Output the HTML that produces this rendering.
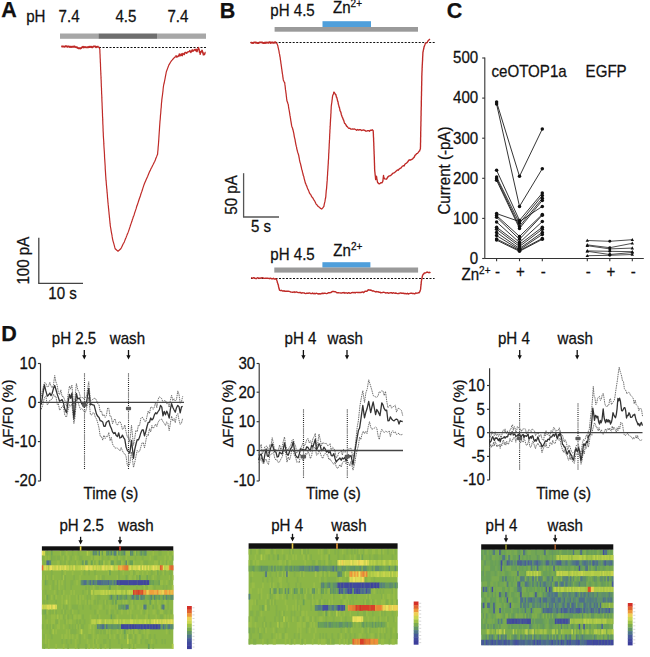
<!DOCTYPE html>
<html><head><meta charset="utf-8"><style>
html,body{margin:0;padding:0;background:#fff;}
body{width:650px;height:657px;overflow:hidden;}
svg text{font-family:"Liberation Sans",sans-serif;fill:#111;stroke:#111;stroke-width:0.25px;}
</style></head><body>
<svg width="650" height="657" viewBox="0 0 650 657" style="display:block">
<text transform="translate(1.2 16.9) scale(1 1)" font-size="21.5" font-weight="bold" >A</text>
<text transform="translate(26.2 22.1) scale(1 1.06)" font-size="15.1" >pH</text>
<text transform="translate(58.6 22.1) scale(1 1.06)" font-size="15.1" >7.4</text>
<text transform="translate(115.4 22.1) scale(1 1.06)" font-size="15.1" >4.5</text>
<text transform="translate(167.4 22.1) scale(1 1.06)" font-size="15.1" >7.4</text>
<rect x="60.0" y="33.5" width="39.0" height="5.3" fill="#a7a7a7"/>
<rect x="98.8" y="33.5" width="58.2" height="5.3" fill="#6e6e6e"/>
<rect x="157.0" y="33.5" width="49.0" height="5.3" fill="#a7a7a7"/>
<line x1="99" y1="47.5" x2="206" y2="47.5" stroke="#111" stroke-width="1" stroke-dasharray="2,1.5"/>
<path d="M61.3,46.2L62.2,46.5L63.0,46.4L63.9,46.6L64.7,46.7L65.6,46.1L66.4,46.1L67.3,46.9L68.1,46.4L69.0,46.4L69.9,47.1L70.8,46.6L71.6,47.0L72.5,46.7L73.4,46.9L74.3,46.4L75.1,46.9L76.0,47.2L76.9,47.3L77.8,47.9L78.6,48.3L79.5,48.1L80.4,48.5L81.3,47.9L82.1,47.3L83.0,46.7L83.9,47.5L84.8,47.0L85.6,47.2L86.5,47.4L87.4,47.1L88.3,47.3L89.1,46.7L90.0,47.1L90.9,46.7L91.8,47.2L92.6,47.2L93.5,46.4L94.4,46.4L95.3,46.5L96.1,47.3L97.0,46.7L97.9,46.9L98.8,46.6" fill="none" stroke="#bf2a27" stroke-width="1.9" stroke-linejoin="round" />
<path d="M98.8,46.8L99.8,49.2L99.9,50.7L99.9,52.3L100.0,53.8L100.1,55.4L100.1,56.9L100.2,58.5L100.3,59.9L100.3,61.5L100.4,62.9L100.5,64.3L100.5,66.0L100.6,67.5L100.6,69.0L100.7,70.4L100.8,72.0L100.8,73.4L100.9,75.1L101.0,76.5L101.0,77.9L101.1,79.4L101.2,81.1L101.2,82.7L101.3,83.9L101.3,85.6L101.4,87.0L101.5,88.4L101.5,90.0L101.6,91.6L101.6,93.1L101.7,94.4L101.8,96.0L101.8,97.4L101.9,99.1L101.9,100.5L102.0,102.1L102.1,103.7L102.1,105.0L102.2,106.7L102.2,108.0L102.3,109.4L102.4,111.0L102.4,112.4L102.5,113.9L102.5,115.5L102.6,117.1L102.7,118.4L102.7,119.9L102.8,121.6L102.8,123.0L102.9,124.7L103.0,126.1L103.0,127.5L103.1,129.0L103.1,130.5L103.2,132.1L103.3,133.6L103.3,135.0L103.4,136.6L103.5,138.2L103.6,139.5L103.7,141.0L103.8,142.6L103.8,143.9L103.9,145.5L104.0,147.2L104.1,148.5L104.2,150.0L104.3,151.4L104.4,153.0L104.5,154.6L104.5,155.9L104.6,157.6L104.7,159.1L104.8,160.4L104.9,162.1L105.0,163.5L105.1,165.1L105.2,166.5L105.2,168.1L105.3,169.6L105.4,170.9L105.5,172.4L105.6,174.1L105.7,175.7L105.8,177.0L105.9,178.6L106.0,180.2L106.2,181.6L106.3,183.2L106.4,184.8L106.6,186.3L106.7,188.0L106.9,189.4L107.0,191.0L107.1,192.7L107.3,194.0L107.4,195.7L107.5,197.3L107.7,198.8L107.8,200.3L107.9,202.0L108.1,203.4L108.2,204.9L108.4,206.5L108.5,208.1L108.7,209.4L108.8,211.0L109.0,212.5L109.1,214.1L109.3,215.5L109.4,217.1L109.6,218.4L109.7,220.0L109.9,221.6L110.0,223.2L110.2,224.5L110.3,226.0L110.6,227.5L110.9,229.2L111.1,230.6L111.4,232.4L111.7,233.9L112.0,235.3L112.2,236.9L112.5,238.6L112.8,240.1L113.2,241.6L113.6,242.9L114.0,244.3L114.4,245.8L114.8,247.4L115.2,248.7L116.6,250.0L118.0,251.2L119.4,250.0L120.8,248.8L121.5,247.5L122.2,245.9L122.9,244.4L123.6,243.3L124.3,241.9L124.9,240.4L125.5,238.8L126.1,237.4L126.7,235.9L127.3,234.2L127.9,232.9L128.5,231.4L129.0,229.9L129.5,228.4L130.0,226.9L130.4,225.5L130.9,224.1L131.4,222.6L131.9,221.3L132.3,219.8L132.8,218.5L133.3,216.8L133.8,215.7L134.3,214.2L134.7,212.8L135.2,211.4L135.7,209.9L136.2,208.4L136.6,206.8L137.1,205.6L137.6,204.0L138.1,202.6L138.5,201.3L139.0,199.8L139.5,198.3L140.0,197.1L140.5,195.5L140.9,194.0L141.4,192.6L141.9,191.3L142.4,189.8L142.8,188.4L143.3,186.9L143.8,185.4L144.3,184.0L144.9,182.6L145.6,180.9L146.2,179.5L146.9,178.0L147.6,176.5L148.2,174.9L148.9,173.2L149.5,171.8L150.3,170.4L151.0,168.6L151.8,167.2L152.5,165.7L153.3,164.3L154.0,162.8L154.8,161.3L155.3,160.0L155.9,158.3L156.5,156.9L157.0,155.6L157.6,154.2L157.7,152.6L157.8,151.4L158.0,149.8L158.1,148.0L158.2,146.6L158.4,145.0L158.5,143.5L158.6,142.0L158.7,140.6L158.8,139.0L158.9,137.5L159.0,135.9L159.1,134.5L159.2,132.9L159.3,131.5L159.4,130.1L159.5,128.5L159.6,126.9L159.7,125.4L159.8,124.0L159.9,122.6L160.0,121.1L160.2,119.5L160.3,118.1L160.4,116.6L160.5,115.0L160.7,113.5L160.8,112.0L160.9,110.6L161.0,109.0L161.2,107.6L161.3,106.0L161.4,104.4L161.5,103.0L161.7,101.6L161.8,99.9L162.0,98.4L162.2,96.9L162.4,95.5L162.6,93.9L162.8,92.2L163.0,90.8L163.1,89.2L163.3,87.5L163.5,86.0L163.8,84.3L164.2,83.0L164.5,81.4L164.8,79.9L165.1,78.3L165.4,76.7L165.7,75.2L166.0,73.6L166.3,71.9L166.9,70.3L167.6,68.4L168.2,66.7L168.8,65.1L169.7,63.6L170.5,62.3L171.4,60.9L172.3,59.9L173.5,58.5L174.6,57.3L175.8,56.4" fill="none" stroke="#bf2a27" stroke-width="1.2" stroke-linejoin="round" />
<path d="M175.8,55.3L176.3,57.0L176.8,56.4L177.3,56.7L177.8,56.8L178.3,55.7L178.8,56.1L179.3,54.0L179.8,55.8L180.3,55.0L180.8,55.5L181.3,53.8L181.8,55.4L182.3,55.7L182.8,53.4L183.3,53.8L183.8,54.2L184.3,54.6L184.8,52.8L185.3,52.4L185.8,52.4L186.3,53.1L186.8,53.3L187.3,52.2L187.8,52.0L188.3,51.9L188.8,51.6L189.3,51.6L189.8,50.6L190.3,51.5L190.8,52.5L191.3,50.9L191.8,51.5L192.3,49.8L192.8,51.0L193.3,51.0L193.7,50.5L194.2,49.8L194.6,49.5L195.0,49.6L195.5,50.7L195.9,49.2L196.4,49.5L196.8,51.6L197.1,51.6L197.4,50.1L197.7,49.5L198.0,49.7L198.3,47.9L198.5,47.6L198.7,47.9L198.9,49.4L199.0,49.3L199.2,49.5L199.3,51.2L199.5,52.4L199.7,51.2L199.8,52.8L200.0,52.6L200.1,54.2L200.3,54.0L200.6,52.7L200.9,52.1L201.2,51.2L201.5,51.9L201.8,51.2L202.0,50.2L202.3,51.1L202.5,51.5L202.8,53.2L203.0,52.1L203.3,54.8L203.5,54.0L203.8,54.8L204.1,54.0L204.4,54.6L204.7,54.1L205.0,53.0L205.3,52.4L205.5,52.6" fill="none" stroke="#bf2a27" stroke-width="1.4" stroke-linejoin="round" />
<line x1="38.8" y1="237.8" x2="38.8" y2="283.4" stroke="#444" stroke-width="1.3" />
<line x1="38.2" y1="283.4" x2="83" y2="283.4" stroke="#444" stroke-width="1.3" />
<text font-size="15.1" transform="translate(29.4 284.6) rotate(-90) scale(1 1.06)" >100 pA</text>
<text transform="translate(48.3 298.6) scale(1 1.06)" font-size="15.1" >10 s</text>
<text transform="translate(219.8 17.7) scale(1 1)" font-size="21.5" font-weight="bold" >B</text>
<text transform="translate(270.3 15.9) scale(1 1.06)" font-size="15.1" >pH 4.5</text>
<text transform="translate(333 13.3) scale(1 1.06)" font-size="15.1" >Zn<tspan font-size="10" dy="-5.5">2+</tspan></text>
<rect x="322.5" y="21.2" width="48.5" height="5.8" fill="#4f9fdb"/>
<rect x="274.6" y="27.0" width="143.4" height="4.7" fill="#9a9a9a"/>
<line x1="250.7" y1="42.5" x2="434.7" y2="42.5" stroke="#111" stroke-width="1" stroke-dasharray="2,1.5"/>
<path d="M250.5,43.0L251.3,42.6L252.1,42.9L252.9,43.1L253.7,42.6L254.5,42.4L255.4,42.4L256.2,42.9L257.0,42.8L257.8,43.1L258.6,43.0L259.4,42.4L260.2,42.4L261.1,42.4L261.9,42.4L262.7,42.9L263.5,43.0L264.3,43.1L265.1,42.4L265.9,43.0L266.7,42.5L267.6,42.6L268.4,42.9L269.2,42.3L270.0,42.3L270.8,43.0L271.6,42.5L272.4,42.5L273.3,42.8L274.1,42.8L274.9,42.2L275.7,42.5L276.5,42.6" fill="none" stroke="#bf2a27" stroke-width="1.9" stroke-linejoin="round" />
<path d="M276.5,42.7L277.2,44.1L277.9,46.0L278.1,47.5L278.4,48.3L278.6,49.6L278.9,50.6L279.1,51.9L279.3,53.4L279.6,54.2L279.8,56.0L280.1,57.2L280.2,57.9L280.4,59.7L280.6,60.6L280.8,62.1L280.9,63.3L281.1,64.2L281.3,65.8L281.5,67.0L281.6,68.3L281.8,69.2L282.0,70.8L282.2,72.1L282.3,73.1L282.5,74.2L282.7,75.1L282.8,76.6L283.0,77.7L283.2,79.2L283.4,80.3L284.0,81.6L284.7,82.7L284.9,84.4L285.1,85.8L285.2,86.8L285.4,88.7L285.5,89.9L285.7,90.7L285.9,92.5L286.0,93.2L286.2,94.5L286.3,96.0L286.5,97.2L286.6,98.4L286.8,99.6L286.9,100.7L287.4,102.0L287.8,103.3L288.3,104.6L288.5,106.4L288.7,107.8L288.9,109.0L289.2,110.5L289.4,111.6L289.6,112.8L289.8,114.1L290.0,115.7L290.2,116.4L290.4,117.9L290.6,119.0L290.8,120.6L291.0,121.6L291.2,122.8L291.4,124.1L291.6,125.4L292.0,127.0L292.5,128.0L292.9,129.8L293.2,130.6L293.5,132.1L293.8,133.3L294.0,134.7L294.3,136.6L294.6,137.8L294.8,138.6L295.1,139.9L295.3,141.3L295.6,142.8L295.8,144.1L296.1,145.3L296.3,146.4L296.6,147.3L296.8,148.8L297.1,149.9L297.5,151.5L297.9,152.9L298.3,154.0L298.7,155.4L299.0,157.1L299.2,158.0L299.5,159.9L299.8,161.3L300.1,162.6L300.4,163.4L300.7,164.7L301.0,166.0L301.3,167.2L301.6,168.7L301.9,169.7L302.2,170.6L302.5,172.2L302.8,173.2L303.1,174.5L303.4,175.8L303.8,176.5L304.1,178.3L304.4,179.4L304.7,180.5L305.0,181.7L305.3,182.9L305.8,183.9L306.3,185.4L306.8,186.2L307.3,187.7L307.8,189.0L308.4,190.1L308.9,191.4L309.4,192.9L310.1,194.0L310.8,194.6L311.4,196.2L312.1,197.2L312.8,197.9L313.5,199.3L314.2,200.3L314.8,201.3L315.5,202.7L316.1,204.1L316.8,204.7L317.7,206.0L318.6,206.8L319.5,207.3L320.6,208.5L321.7,209.0L322.8,207.9L323.9,206.4L324.1,205.2L324.4,203.7L324.6,202.9L324.9,201.7L325.1,200.5L325.3,199.0L325.6,198.0L325.8,196.6L325.9,195.1L326.0,193.8L326.1,192.6L326.2,191.4L326.3,190.1L326.5,189.1L326.6,187.9L326.7,186.6L326.8,185.2L326.9,184.1L327.0,182.6L327.1,181.4L327.2,180.4L327.3,178.9L327.3,177.5L327.4,176.8L327.5,175.5L327.6,174.0L327.6,172.8L327.7,171.7L327.8,170.5L327.9,169.1L328.0,167.7L328.0,166.6L328.1,165.8L328.2,164.1L328.3,163.1L328.3,161.7L328.4,160.5L328.5,159.3L328.6,158.2L328.6,156.8L328.7,155.5L328.7,154.3L328.8,153.1L328.9,152.1L328.9,150.5L329.0,149.2L329.1,148.3L329.1,147.0L329.2,146.0L329.2,144.3L329.3,143.3L329.4,142.0L329.4,140.5L329.5,139.9L329.6,138.2L329.6,136.8L329.7,135.9L329.7,134.4L329.8,133.5L329.9,132.0L329.9,130.6L330.0,129.3L330.1,128.6L330.1,127.0L330.2,126.2L330.3,124.7L330.3,123.8L330.4,122.1L330.5,120.9L330.5,119.6L330.6,118.8L330.7,117.4L330.8,116.0L330.8,114.6L330.9,113.8L331.0,112.7L331.0,111.2L331.1,109.6L331.2,108.4L331.2,107.2L331.3,106.0L331.5,104.7L331.6,103.5L331.8,102.7L331.9,101.6L332.1,99.9L332.2,99.3L332.4,97.7L332.5,96.7L332.7,95.6L333.4,93.9L334.0,91.7" fill="none" stroke="#bf2a27" stroke-width="1.25" stroke-linejoin="round" />
<path d="M334.0,92.0L334.8,93.3L335.5,94.6L335.8,94.4L336.1,95.6L336.4,97.1L336.7,97.1L337.0,98.4L337.2,99.2L337.5,100.5L337.8,101.7L338.0,101.7L338.2,103.3L338.4,104.2L338.7,105.3L338.9,105.8L339.1,107.2L339.4,107.4L339.6,108.4L339.8,109.1L340.0,110.7L340.4,111.3L340.7,111.9L341.0,112.8L341.3,114.4L341.6,115.2L341.9,116.2L342.2,116.8L342.6,117.9L342.9,118.4L343.3,119.9L343.6,120.0L344.0,121.4L344.4,122.7L344.7,123.5L345.1,123.7L345.8,124.6L346.6,126.1L347.3,126.6L348.1,127.6L348.8,128.4L349.8,128.2L350.7,129.0L351.7,129.1L352.6,129.0L353.6,129.2L354.6,129.0L355.6,129.5L356.6,130.3L357.6,129.5L358.6,130.1L359.6,129.7L360.6,129.7L361.6,130.5L362.6,130.1L363.7,130.0L364.7,130.3L365.7,131.1L366.7,131.1L367.7,130.6L368.6,130.6L369.5,131.2L370.4,130.1L371.3,130.3L372.2,129.8L373.2,130.8L373.2,131.5L373.3,132.6L373.3,133.3L373.4,133.8L373.4,134.7L373.4,135.5L373.5,137.3L373.5,137.4L373.6,138.2L373.6,140.2L373.6,140.3L373.7,142.0L373.7,142.0L373.8,143.3L373.8,144.0L373.8,145.6L373.9,146.3L373.9,147.3L373.9,148.3L374.0,149.4L374.0,149.6L374.0,150.8L374.1,151.6L374.1,152.1L374.1,153.8L374.2,154.5L374.2,155.6L374.2,155.8L374.3,157.1L374.3,157.9L374.3,159.1L374.3,159.3L374.4,160.5L374.4,161.6L374.4,162.0L374.5,163.4L374.5,164.6L374.5,165.1L374.6,166.3L374.6,167.1L374.6,167.6L374.6,168.6L374.7,170.3L374.7,170.4L374.8,171.5L374.9,172.1L375.0,173.2L375.1,174.1L375.3,176.0L375.4,176.7L375.5,177.9L375.6,179.0L375.7,179.5L375.9,179.0L376.1,177.6L376.3,176.5L376.5,176.2L376.6,177.1L376.8,178.2L376.9,178.6L377.1,180.0L377.2,180.6L377.5,182.1L377.9,182.8L378.2,182.9L379.2,183.9L380.2,183.3L381.1,182.6L381.9,182.8L382.7,181.7L382.8,181.0L383.0,180.3L383.1,178.7L383.2,178.6L383.3,177.2L383.4,176.5L383.5,175.5L383.8,176.9L384.1,177.8L384.4,178.2L384.7,178.9L386.5,179.2L387.0,178.5L387.5,177.4L388.0,176.7L388.5,176.7L389.0,175.9L389.9,175.8L390.7,175.4L391.5,174.8L392.4,173.8L393.2,173.1L394.0,172.9L394.9,172.2L395.7,171.5L396.6,170.7L397.4,170.0L398.2,170.2L399.1,169.1L399.9,168.5L400.7,168.2L401.6,167.2L402.4,166.2L403.2,165.7L404.1,166.0L404.9,164.2L405.8,163.5L406.6,163.1L407.4,162.3L408.3,161.0L409.1,160.0L409.9,159.8L410.8,160.1L411.6,159.3L412.5,159.1L413.3,158.0L414.1,157.4L415.0,155.4L415.8,154.8L416.6,153.7L417.5,153.4L418.3,152.4L419.2,151.2L419.6,151.0L420.0,149.6L420.4,149.0L420.4,148.1L420.4,147.8L420.5,146.5L420.5,145.4L420.5,144.2L420.5,143.8L420.5,143.1L420.6,142.2L420.6,141.6L420.6,140.6L420.6,139.0L420.6,138.0L420.6,137.8L420.7,136.9L420.7,135.7L420.7,135.2L420.7,133.9L420.7,132.7L420.7,131.7L420.8,130.6L420.8,130.4L420.8,129.8L420.8,128.9L420.8,127.5L420.8,126.8L420.9,126.2L420.9,125.2L420.9,124.0L420.9,122.9L420.9,122.1L421.0,120.8L421.0,119.9L421.0,119.6L421.0,119.1L421.0,117.6L421.0,116.6L421.1,115.6L421.1,114.8L421.1,114.3L421.1,113.0L421.1,112.7L421.1,110.8L421.2,110.1L421.2,109.5L421.2,108.4L421.2,108.0L421.2,107.1L421.3,106.3L421.3,105.0L421.3,103.3L421.3,103.1L421.3,102.1L421.3,101.1L421.4,100.0L421.4,99.6L421.4,98.9L421.4,97.0L421.4,96.8L421.5,95.5L421.5,94.7L421.5,94.3L421.5,93.4L421.5,92.1L421.6,90.7L421.6,90.6L421.6,88.8L421.6,88.2L421.6,87.8L421.6,86.2L421.7,85.3L421.7,85.2L421.7,84.2L421.7,82.6L421.7,81.7L421.8,80.7L421.8,79.6L421.8,78.8L421.8,78.8L421.8,76.8L421.8,76.0L421.9,75.1L421.9,74.0L421.9,73.6L421.9,73.0L422.0,72.2L422.0,71.0L422.1,70.3L422.1,68.4L422.1,67.8L422.2,67.7L422.2,65.8L422.3,65.1L422.3,64.4L422.4,63.3L422.4,62.7L422.5,61.2L422.5,60.5L422.6,60.4L422.6,58.5L422.6,58.5L422.7,56.8L422.7,56.8L422.8,55.5L422.8,54.6L422.9,53.1L422.9,52.0L423.1,52.0L423.3,50.4L423.5,49.5L423.6,49.4L423.8,48.5L424.0,46.7L424.2,46.9L424.6,45.5L425.0,44.5L425.4,43.3L426.3,42.8L427.1,42.7L427.9,41.0L428.9,40.0L430.0,39.1" fill="none" stroke="#bf2a27" stroke-width="1.35" stroke-linejoin="round" />
<line x1="243.6" y1="173.2" x2="243.6" y2="217" stroke="#555" stroke-width="1.3" />
<line x1="243" y1="217" x2="279" y2="217" stroke="#555" stroke-width="1.3" />
<text font-size="15.1" transform="translate(237.3 214.7) rotate(-90) scale(1 1.06)" >50 pA</text>
<text transform="translate(251 231.5) scale(1 1.06)" font-size="15.1" >5 s</text>
<text transform="translate(270.3 259.5) scale(1 1.06)" font-size="15.1" >pH 4.5</text>
<text transform="translate(333.3 255.8) scale(1 1.06)" font-size="15.1" >Zn<tspan font-size="10" dy="-5.5">2+</tspan></text>
<rect x="322.4" y="262.2" width="48.0" height="5.4" fill="#4f9fdb"/>
<rect x="274.3" y="267.5" width="143.8" height="5.1" fill="#9a9a9a"/>
<line x1="251" y1="278.5" x2="434.6" y2="278.5" stroke="#111" stroke-width="1" stroke-dasharray="2,1.5"/>
<path d="M251.0,277.7L251.8,277.9L252.6,278.4L253.4,277.7L254.2,277.8L255.0,278.4L255.8,278.5L256.6,278.5L257.4,277.8L258.2,277.9L259.0,278.5L259.8,278.0L260.6,278.2L261.4,277.9L262.2,277.6L263.0,277.9L263.8,278.3L264.6,278.4L265.4,278.2L266.2,278.2L267.0,278.3L267.8,278.2L268.6,278.4L269.4,278.7L270.2,278.1L271.0,278.5L271.8,278.9L272.6,278.8L273.4,278.3L274.2,279.0L275.0,279.0L275.8,278.8L276.5,279.3L276.8,280.2L277.1,281.0L277.4,282.7L277.7,283.1L278.0,284.4L278.2,284.6L278.4,285.3L278.6,287.0L278.9,287.8L279.1,288.8L279.3,289.4L279.5,290.1L280.5,290.6L281.5,290.3L282.5,291.0L283.3,291.0L284.2,290.8L285.0,291.3L285.8,291.1L286.7,291.3L287.5,291.3L288.3,291.3L289.2,291.4L290.0,291.7L290.8,292.1L291.7,292.1L292.5,292.2L293.3,292.2L294.2,291.8L295.0,292.5L295.8,292.0L296.7,291.9L297.5,292.3L298.3,292.6L299.2,292.4L300.0,292.7L300.8,292.5L301.7,293.2L302.5,292.8L303.3,292.9L304.2,293.0L305.0,293.4L305.8,293.6L306.7,293.2L307.5,293.1L308.3,293.3L309.2,292.9L310.0,293.2L310.8,293.6L311.7,293.6L312.5,293.0L313.3,293.7L314.2,293.3L315.0,293.9L315.8,293.4L316.7,293.3L317.5,293.6L318.3,294.0L319.2,293.6L320.0,294.0L320.8,293.8L321.6,293.5L322.5,293.3L323.3,293.5L324.1,293.3L324.9,293.2L325.7,293.4L326.5,293.6L327.4,293.3L328.2,292.8L329.0,292.8L329.9,292.7L330.8,292.6L331.7,291.9L332.6,291.5L333.5,291.4L334.5,291.7L335.5,291.8L336.5,292.5L337.3,292.9L338.2,292.6L339.0,292.8L339.9,292.9L340.7,293.0L341.6,293.1L342.4,292.7L343.2,292.9L344.1,292.5L344.9,293.2L345.8,292.8L346.6,292.9L347.5,293.3L348.3,292.8L349.2,292.8L350.0,293.4L350.8,293.1L351.7,292.6L352.5,292.5L353.4,292.7L354.2,292.4L355.1,293.0L355.9,292.4L356.8,292.4L357.6,292.5L358.4,292.5L359.3,292.4L360.1,292.5L361.0,292.5L361.8,292.2L362.7,291.9L363.5,292.6L364.2,292.1L365.0,291.2L365.8,291.2L366.5,291.2L367.2,291.1L368.0,290.0L369.0,289.8L370.0,290.2L371.0,290.0L371.8,290.7L372.5,291.0L373.2,290.8L374.0,291.2L374.9,291.5L375.7,292.0L376.6,291.5L377.4,291.9L378.3,291.8L379.1,292.4L380.0,292.1L380.8,292.9L381.7,292.6L382.5,292.6L383.3,292.2L384.2,292.4L385.0,292.7L385.8,293.0L386.7,292.8L387.5,292.6L388.3,293.2L389.2,293.0L390.0,292.9L390.8,292.6L391.7,292.8L392.5,293.3L393.3,292.7L394.2,293.1L395.0,293.2L395.8,293.0L396.7,293.4L397.5,293.6L398.3,293.5L399.2,293.5L400.0,293.0L400.8,292.9L401.7,293.3L402.5,293.2L403.3,293.1L404.2,293.8L405.0,293.2L405.8,293.8L406.7,293.9L407.5,293.2L408.3,294.0L409.2,293.6L410.0,293.4L410.8,293.3L411.6,293.2L412.5,293.5L413.3,293.4L414.1,293.7L414.9,293.7L415.7,292.9L416.5,293.2L417.4,293.1L418.2,292.8L419.0,292.9L419.4,292.1L419.8,291.8L420.1,290.7L420.5,289.7L420.6,289.0L420.7,288.4L420.7,287.7L420.8,286.6L420.9,286.2L421.0,284.9L421.1,284.5L421.2,283.6L421.2,282.4L421.3,282.1L421.4,281.0L421.6,280.2L421.7,279.4L421.9,278.6L422.1,277.6L422.3,276.4L422.4,276.2L422.6,275.4L423.2,274.4L423.8,273.9L424.4,273.0L425.0,273.0L426.0,272.6L427.0,272.0L428.0,272.3L428.8,272.7L429.6,272.3L430.4,273.1" fill="none" stroke="#bf2a27" stroke-width="1.4" stroke-linejoin="round" />
<text transform="translate(446.8 17.5) scale(1 1)" font-size="21.5" font-weight="bold" >C</text>
<line x1="484.8" y1="57.6" x2="484.8" y2="258.5" stroke="#333" stroke-width="1.1" />
<line x1="484.8" y1="258.5" x2="643.8" y2="258.5" stroke="#333" stroke-width="1.1" />
<line x1="482.2" y1="258.5" x2="484.8" y2="258.5" stroke="#333" stroke-width="1.1" />
<text transform="translate(478.2 263.8) scale(1 1.06)" font-size="15.1" text-anchor="end" >0</text>
<line x1="482.2" y1="218.4" x2="484.8" y2="218.4" stroke="#333" stroke-width="1.1" />
<text transform="translate(478.2 223.70000000000002) scale(1 1.06)" font-size="15.1" text-anchor="end" >100</text>
<line x1="482.2" y1="178.3" x2="484.8" y2="178.3" stroke="#333" stroke-width="1.1" />
<text transform="translate(478.2 183.60000000000002) scale(1 1.06)" font-size="15.1" text-anchor="end" >200</text>
<line x1="482.2" y1="138.2" x2="484.8" y2="138.2" stroke="#333" stroke-width="1.1" />
<text transform="translate(478.2 143.5) scale(1 1.06)" font-size="15.1" text-anchor="end" >300</text>
<line x1="482.2" y1="98.1" x2="484.8" y2="98.1" stroke="#333" stroke-width="1.1" />
<text transform="translate(478.2 103.39999999999999) scale(1 1.06)" font-size="15.1" text-anchor="end" >400</text>
<line x1="482.2" y1="58.0" x2="484.8" y2="58.0" stroke="#333" stroke-width="1.1" />
<text transform="translate(478.2 63.3) scale(1 1.06)" font-size="15.1" text-anchor="end" >500</text>
<line x1="496.6" y1="258.5" x2="496.6" y2="261.2" stroke="#333" stroke-width="1.1" />
<line x1="519.5" y1="258.5" x2="519.5" y2="261.2" stroke="#333" stroke-width="1.1" />
<line x1="542.3" y1="258.5" x2="542.3" y2="261.2" stroke="#333" stroke-width="1.1" />
<line x1="587.3" y1="258.5" x2="587.3" y2="261.2" stroke="#333" stroke-width="1.1" />
<line x1="609.8" y1="258.5" x2="609.8" y2="261.2" stroke="#333" stroke-width="1.1" />
<line x1="632.3" y1="258.5" x2="632.3" y2="261.2" stroke="#333" stroke-width="1.1" />
<text font-size="15.1" transform="translate(450.3 214.6) rotate(-90) scale(1 1.06)" >Current (-pA)</text>
<text transform="translate(491.5 77.3) scale(1 1.06)" font-size="15.1" >ceOTOP1a</text>
<text transform="translate(585.6 77.3) scale(1 1.06)" font-size="15.1" >EGFP</text>
<text transform="translate(461.5 279.6) scale(1 1.06)" font-size="15.1" >Zn<tspan font-size="10" dy="-5.5">2+</tspan></text>
<text transform="translate(497.6 276.8) scale(1 1.06)" font-size="15.1" text-anchor="middle" >-</text>
<text transform="translate(520.5 276.8) scale(1 1.06)" font-size="15.1" text-anchor="middle" >+</text>
<text transform="translate(543.3 276.8) scale(1 1.06)" font-size="15.1" text-anchor="middle" >-</text>
<text transform="translate(588.3 276.8) scale(1 1.06)" font-size="15.1" text-anchor="middle" >-</text>
<text transform="translate(610.8 276.8) scale(1 1.06)" font-size="15.1" text-anchor="middle" >+</text>
<text transform="translate(633.3 276.8) scale(1 1.06)" font-size="15.1" text-anchor="middle" >-</text>
<path d="M496.6,102.1L519.5,176.3L542.3,129.0" fill="none" stroke="#111" stroke-width="0.85" stroke-linejoin="round" />
<path d="M496.6,104.1L519.5,206.4L542.3,168.7" fill="none" stroke="#111" stroke-width="0.85" stroke-linejoin="round" />
<path d="M496.6,170.3L519.5,220.4L542.3,193.1" fill="none" stroke="#111" stroke-width="0.85" stroke-linejoin="round" />
<path d="M496.6,177.1L519.5,223.2L542.3,195.5" fill="none" stroke="#111" stroke-width="0.85" stroke-linejoin="round" />
<path d="M496.6,178.7L519.5,226.4L542.3,198.3" fill="none" stroke="#111" stroke-width="0.85" stroke-linejoin="round" />
<path d="M496.6,180.3L519.5,228.4L542.3,200.4" fill="none" stroke="#111" stroke-width="0.85" stroke-linejoin="round" />
<path d="M496.6,213.6L519.5,221.6L542.3,206.4" fill="none" stroke="#111" stroke-width="0.85" stroke-linejoin="round" />
<path d="M496.6,215.6L519.5,236.4L542.3,214.4" fill="none" stroke="#111" stroke-width="0.85" stroke-linejoin="round" />
<path d="M496.6,217.2L519.5,239.3L542.3,215.2" fill="none" stroke="#111" stroke-width="0.85" stroke-linejoin="round" />
<path d="M496.6,222.0L519.5,242.5L542.3,221.6" fill="none" stroke="#111" stroke-width="0.85" stroke-linejoin="round" />
<path d="M496.6,227.2L519.5,244.5L542.3,227.2" fill="none" stroke="#111" stroke-width="0.85" stroke-linejoin="round" />
<path d="M496.6,229.2L519.5,246.5L542.3,229.2" fill="none" stroke="#111" stroke-width="0.85" stroke-linejoin="round" />
<path d="M496.6,232.4L519.5,248.5L542.3,232.4" fill="none" stroke="#111" stroke-width="0.85" stroke-linejoin="round" />
<path d="M496.6,235.6L519.5,249.7L542.3,234.4" fill="none" stroke="#111" stroke-width="0.85" stroke-linejoin="round" />
<path d="M496.6,238.9L519.5,250.5L542.3,238.4" fill="none" stroke="#111" stroke-width="0.85" stroke-linejoin="round" />
<path d="M496.6,240.1L519.5,251.3L542.3,239.3" fill="none" stroke="#111" stroke-width="0.85" stroke-linejoin="round" />
<path d="M587.3,240.5L609.8,241.3L632.3,239.7" fill="none" stroke="#222" stroke-width="0.8" stroke-linejoin="round" />
<path d="M587.3,244.9L609.8,247.7L632.3,243.3" fill="none" stroke="#222" stroke-width="0.8" stroke-linejoin="round" />
<path d="M587.3,245.7L609.8,248.9L632.3,248.1" fill="none" stroke="#222" stroke-width="0.8" stroke-linejoin="round" />
<path d="M587.3,250.9L609.8,251.3L632.3,251.7" fill="none" stroke="#222" stroke-width="0.8" stroke-linejoin="round" />
<path d="M587.3,251.3L609.8,254.5L632.3,252.5" fill="none" stroke="#222" stroke-width="0.8" stroke-linejoin="round" />
<path d="M587.3,255.7L609.8,255.3L632.3,254.5" fill="none" stroke="#222" stroke-width="0.8" stroke-linejoin="round" />
<g fill="#111"><path d="M585.6,241.8L589.0,241.8L587.3,238.7Z"/><path d="M630.6,241.0L634.0,241.0L632.3,237.9Z"/><path d="M585.6,246.2L589.0,246.2L587.3,243.1Z"/><path d="M630.6,244.6L634.0,244.6L632.3,241.5Z"/><path d="M585.6,247.0L589.0,247.0L587.3,243.9Z"/><path d="M630.6,249.4L634.0,249.4L632.3,246.3Z"/><path d="M585.6,252.2L589.0,252.2L587.3,249.1Z"/><path d="M630.6,253.0L634.0,253.0L632.3,249.9Z"/><path d="M585.6,252.6L589.0,252.6L587.3,249.5Z"/><path d="M630.6,253.8L634.0,253.8L632.3,250.7Z"/><path d="M585.6,257.0L589.0,257.0L587.3,253.9Z"/><path d="M630.6,255.8L634.0,255.8L632.3,252.7Z"/><circle cx="609.8" cy="241.3" r="1.45"/><circle cx="609.8" cy="247.7" r="1.45"/><circle cx="609.8" cy="248.9" r="1.45"/><circle cx="609.8" cy="251.3" r="1.45"/><circle cx="609.8" cy="254.5" r="1.45"/><circle cx="609.8" cy="255.3" r="1.45"/></g>
<g fill="#111"><circle cx="496.6" cy="102.1" r="1.75"/><circle cx="519.5" cy="176.3" r="1.75"/><circle cx="542.3" cy="129.0" r="1.75"/><circle cx="496.6" cy="104.1" r="1.75"/><circle cx="519.5" cy="206.4" r="1.75"/><circle cx="542.3" cy="168.7" r="1.75"/><circle cx="496.6" cy="170.3" r="1.75"/><circle cx="519.5" cy="220.4" r="1.75"/><circle cx="542.3" cy="193.1" r="1.75"/><circle cx="496.6" cy="177.1" r="1.75"/><circle cx="519.5" cy="223.2" r="1.75"/><circle cx="542.3" cy="195.5" r="1.75"/><circle cx="496.6" cy="178.7" r="1.75"/><circle cx="519.5" cy="226.4" r="1.75"/><circle cx="542.3" cy="198.3" r="1.75"/><circle cx="496.6" cy="180.3" r="1.75"/><circle cx="519.5" cy="228.4" r="1.75"/><circle cx="542.3" cy="200.4" r="1.75"/><circle cx="496.6" cy="213.6" r="1.75"/><circle cx="519.5" cy="221.6" r="1.75"/><circle cx="542.3" cy="206.4" r="1.75"/><circle cx="496.6" cy="215.6" r="1.75"/><circle cx="519.5" cy="236.4" r="1.75"/><circle cx="542.3" cy="214.4" r="1.75"/><circle cx="496.6" cy="217.2" r="1.75"/><circle cx="519.5" cy="239.3" r="1.75"/><circle cx="542.3" cy="215.2" r="1.75"/><circle cx="496.6" cy="222.0" r="1.75"/><circle cx="519.5" cy="242.5" r="1.75"/><circle cx="542.3" cy="221.6" r="1.75"/><circle cx="496.6" cy="227.2" r="1.75"/><circle cx="519.5" cy="244.5" r="1.75"/><circle cx="542.3" cy="227.2" r="1.75"/><circle cx="496.6" cy="229.2" r="1.75"/><circle cx="519.5" cy="246.5" r="1.75"/><circle cx="542.3" cy="229.2" r="1.75"/><circle cx="496.6" cy="232.4" r="1.75"/><circle cx="519.5" cy="248.5" r="1.75"/><circle cx="542.3" cy="232.4" r="1.75"/><circle cx="496.6" cy="235.6" r="1.75"/><circle cx="519.5" cy="249.7" r="1.75"/><circle cx="542.3" cy="234.4" r="1.75"/><circle cx="496.6" cy="238.9" r="1.75"/><circle cx="519.5" cy="250.5" r="1.75"/><circle cx="542.3" cy="238.4" r="1.75"/><circle cx="496.6" cy="240.1" r="1.75"/><circle cx="519.5" cy="251.3" r="1.75"/><circle cx="542.3" cy="239.3" r="1.75"/></g>
<text transform="translate(1.3 340.5) scale(1 1)" font-size="21.5" font-weight="bold" >D</text>
<line x1="40.5" y1="363.5" x2="40.5" y2="481" stroke="#333" stroke-width="1.15" />
<line x1="37.9" y1="363.5" x2="40.5" y2="363.5" stroke="#333" stroke-width="1.15" />
<text transform="translate(36.3 368.8) scale(1 1.06)" font-size="15.1" text-anchor="end" >10</text>
<line x1="37.9" y1="402.4" x2="40.5" y2="402.4" stroke="#333" stroke-width="1.15" />
<text transform="translate(36.3 407.7) scale(1 1.06)" font-size="15.1" text-anchor="end" >0</text>
<line x1="37.9" y1="441.6" x2="40.5" y2="441.6" stroke="#333" stroke-width="1.15" />
<text transform="translate(36.3 446.90000000000003) scale(1 1.06)" font-size="15.1" text-anchor="end" >-10</text>
<line x1="37.9" y1="481" x2="40.5" y2="481" stroke="#333" stroke-width="1.15" />
<text transform="translate(36.3 486.3) scale(1 1.06)" font-size="15.1" text-anchor="end" >-20</text>
<line x1="84.5" y1="373.5" x2="84.5" y2="469.5" stroke="#222" stroke-width="1.1" stroke-dasharray="1,1.1"/>
<line x1="128.5" y1="373.5" x2="128.5" y2="469.5" stroke="#222" stroke-width="1.1" stroke-dasharray="1,1.1"/>
<text transform="translate(51.8 343.6) scale(1 1.06)" font-size="15.1" >pH 2.5</text>
<text transform="translate(109.8 343.6) scale(1 1.06)" font-size="15.1" >wash</text>
<line x1="84.3" y1="350" x2="84.3" y2="356.5" stroke="#111" stroke-width="1.3" />
<path d="M82.2,355.3L86.39999999999999,355.3L84.3,359.5Z" fill="#111"/>
<line x1="128.5" y1="350" x2="128.5" y2="356.5" stroke="#111" stroke-width="1.3" />
<path d="M126.4,355.3L130.6,355.3L128.5,359.5Z" fill="#111"/>
<text transform="translate(83.6 498.6) scale(1 1.06)" font-size="15.1" >Time (s)</text>
<text font-size="14.4" transform="translate(13.0 447.6) rotate(-90) scale(1 1)" textLength="68" lengthAdjust="spacingAndGlyphs">ΔF/F0 (%)</text>
<path d="M41.2,396.5L42.8,388.7L44.4,382.7L45.8,383.1L47.3,387.1L48.5,386.4L49.8,382.3L51.0,385.9L52.2,387.9L53.5,384.8L54.7,375.5L55.9,381.9L57.2,385.3L58.4,392.9L59.6,394.6L60.8,389.9L62.1,396.6L63.3,396.5L64.9,400.4L66.5,406.3L68.0,395.0L69.5,386.0L70.7,389.1L71.9,385.1L73.9,408.2L75.1,396.8L76.4,383.6L77.8,389.8L79.3,392.7L80.5,397.5L81.8,397.0L83.0,398.5L84.2,398.1L85.5,398.0L86.7,395.3L88.7,381.7L90.4,400.4L91.6,400.4L92.8,399.3L94.1,398.4L95.3,398.3L96.5,400.4L97.8,403.6L99.0,404.8L100.2,411.7L101.5,410.9L102.7,416.0L103.9,414.5L105.2,417.4L106.4,415.4L107.6,408.0L108.8,408.3L110.1,416.6L111.3,416.7L112.5,423.7L113.8,420.3L115.0,418.8L116.2,423.6L117.5,425.3L118.7,422.3L119.9,421.6L121.2,424.0L122.4,429.3L123.6,428.7L124.8,424.9L126.1,432.0L127.3,437.1L128.5,436.8L129.8,442.1L131.5,425.3L133.5,445.3L134.7,438.3L135.9,430.3L137.2,431.8L138.4,425.0L139.6,425.4L140.8,418.3L142.1,417.2L143.3,418.2L144.5,421.1L145.8,421.8L147.0,416.3L148.2,411.0L149.5,413.6L150.7,407.1L151.9,407.2L153.2,409.3L154.4,406.9L155.6,402.2L156.8,407.8L158.1,399.3L159.3,396.8L160.5,397.6L161.8,398.7L163.0,402.8L164.2,400.8L165.5,400.5L166.7,403.6L167.9,403.0L169.2,407.4L170.4,400.2L171.6,395.3L172.8,400.6L174.1,398.8L175.3,401.1L176.5,399.5L177.8,390.9L179.0,394.4L180.2,403.5L181.5,401.6L182.7,396.3" fill="none" stroke="#666" stroke-width="0.95" stroke-linejoin="round" stroke-dasharray="1.5,0.8"/>
<path d="M41.2,409.4L42.8,404.7L44.4,397.6L45.8,395.9L47.3,405.0L48.5,403.3L49.8,400.1L51.0,400.0L52.2,398.9L53.5,394.2L54.7,396.5L55.9,396.2L57.2,404.5L58.4,403.7L59.6,410.3L60.8,408.6L62.1,406.4L63.3,405.6L64.9,415.7L66.5,417.1L68.0,410.3L69.5,404.7L70.7,406.2L71.9,403.8L73.9,423.6L75.1,416.5L76.4,399.6L77.8,401.4L79.3,406.3L80.5,409.4L81.8,408.5L83.0,409.9L84.2,411.9L85.5,412.1L86.7,407.7L88.7,397.1L90.4,414.4L91.6,415.1L92.8,412.8L94.1,413.0L95.3,417.2L96.5,418.9L97.8,423.1L99.0,427.9L100.2,436.1L101.5,436.5L102.7,440.2L103.9,435.3L105.2,438.5L106.4,436.1L107.6,436.7L108.8,432.5L110.1,440.7L111.3,437.3L112.5,444.0L113.8,446.2L115.0,448.2L116.2,447.8L117.5,448.2L118.7,449.4L119.9,450.9L121.2,447.5L122.4,450.7L123.6,453.1L124.8,453.7L126.1,456.6L127.3,465.4L128.5,466.0L129.8,463.9L131.5,451.9L133.5,467.4L134.7,462.7L135.9,456.7L137.2,450.5L138.4,452.0L139.6,451.3L140.8,447.2L142.1,442.8L143.3,442.8L144.5,447.8L145.8,441.1L147.0,434.6L148.2,435.8L149.5,428.7L150.7,431.9L151.9,425.5L153.2,428.4L154.4,426.7L155.6,424.0L156.8,426.6L158.1,422.3L159.3,420.2L160.5,419.6L161.8,419.1L163.0,421.7L164.2,423.3L165.5,425.6L166.7,421.8L167.9,423.4L169.2,430.6L170.4,423.2L171.6,416.1L172.8,421.0L174.1,418.6L175.3,422.7L176.5,415.6L177.8,413.6L179.0,420.0L180.2,424.5L181.5,423.0L182.7,418.2" fill="none" stroke="#666" stroke-width="0.95" stroke-linejoin="round" stroke-dasharray="1.5,0.8"/>
<path d="M41.2,404.7L42.8,394.6L44.4,385.0L45.8,390.7L47.3,396.2L48.5,395.0L49.8,393.1L51.0,395.6L52.2,393.2L53.5,388.3L54.7,385.5L55.9,389.5L57.2,394.1L58.4,397.6L59.6,401.2L60.8,400.5L62.1,399.6L63.3,402.4L64.9,409.3L66.5,412.6L68.0,402.6L69.5,394.3L70.7,398.3L71.9,393.1L73.9,418.9L75.1,406.5L76.4,393.4L77.8,399.0L79.3,398.0L80.5,400.4L81.8,404.0L83.0,402.3L84.2,407.3L85.5,402.8L86.7,401.1L88.7,388.3L90.4,404.9L91.6,404.0L92.8,404.9L94.1,405.1L95.3,409.6L96.5,414.1L97.8,416.3L99.0,417.4L100.2,420.7L101.5,421.0L102.7,421.9L103.9,426.3L105.2,426.3L106.4,422.2L107.6,421.5L108.8,420.6L110.1,425.8L111.3,428.2L112.5,431.9L113.8,433.5L115.0,432.4L116.2,435.4L117.5,436.6L118.7,432.8L119.9,438.0L121.2,437.5L122.4,435.1L123.6,437.6L124.8,439.4L126.1,447.1L127.3,450.4L128.5,451.4L129.8,453.1L131.5,440.3L133.5,458.3L134.7,449.6L135.9,444.5L137.2,439.6L138.4,439.9L139.6,437.1L140.8,432.9L142.1,430.0L143.3,429.8L144.5,435.9L145.8,431.5L147.0,426.5L148.2,422.5L149.5,422.2L150.7,418.0L151.9,420.0L153.2,418.5L154.4,414.9L155.6,412.7L156.8,413.8L158.1,411.5L159.3,409.8L160.5,405.4L161.8,407.2L163.0,415.8L164.2,411.3L165.5,414.9L166.7,411.1L167.9,413.8L169.2,418.1L170.4,409.1L171.6,403.6L172.8,407.2L174.1,410.0L175.3,412.2L176.5,407.7L177.8,405.4L179.0,406.7L180.2,412.8L181.5,406.9L182.7,406.4" fill="none" stroke="#333" stroke-width="1.3" stroke-linejoin="round" />
<line x1="40.5" y1="402.4" x2="184" y2="402.4" stroke="#444" stroke-width="1.3" />
<rect x="81.9" y="403.2" width="5.2" height="3.6" rx="1" fill="#5a5a5a"/>
<rect x="125.9" y="406.7" width="5.2" height="3.6" rx="1" fill="#5a5a5a"/>
<line x1="259.2" y1="363.5" x2="259.2" y2="481" stroke="#333" stroke-width="1.15" />
<line x1="256.59999999999997" y1="363.5" x2="259.2" y2="363.5" stroke="#333" stroke-width="1.15" />
<text transform="translate(255.2 368.8) scale(1 1.06)" font-size="15.1" text-anchor="end" >30</text>
<line x1="256.59999999999997" y1="392.2" x2="259.2" y2="392.2" stroke="#333" stroke-width="1.15" />
<text transform="translate(255.2 397.5) scale(1 1.06)" font-size="15.1" text-anchor="end" >20</text>
<line x1="256.59999999999997" y1="421.7" x2="259.2" y2="421.7" stroke="#333" stroke-width="1.15" />
<text transform="translate(255.2 427.0) scale(1 1.06)" font-size="15.1" text-anchor="end" >10</text>
<line x1="256.59999999999997" y1="450.5" x2="259.2" y2="450.5" stroke="#333" stroke-width="1.15" />
<text transform="translate(255.2 455.8) scale(1 1.06)" font-size="15.1" text-anchor="end" >0</text>
<line x1="256.59999999999997" y1="481" x2="259.2" y2="481" stroke="#333" stroke-width="1.15" />
<text transform="translate(255.2 486.3) scale(1 1.06)" font-size="15.1" text-anchor="end" >-10</text>
<line x1="303.5" y1="409.5" x2="303.5" y2="478" stroke="#222" stroke-width="1.1" stroke-dasharray="1,1.1"/>
<line x1="347.3" y1="409.5" x2="347.3" y2="478" stroke="#222" stroke-width="1.1" stroke-dasharray="1,1.1"/>
<text transform="translate(284.6 343.6) scale(1 1.06)" font-size="15.1" >pH 4</text>
<text transform="translate(327.6 343.6) scale(1 1.06)" font-size="15.1" >wash</text>
<line x1="303.4" y1="350" x2="303.4" y2="356.5" stroke="#111" stroke-width="1.3" />
<path d="M301.29999999999995,355.3L305.5,355.3L303.4,359.5Z" fill="#111"/>
<line x1="347" y1="350" x2="347" y2="356.5" stroke="#111" stroke-width="1.3" />
<path d="M344.9,355.3L349.1,355.3L347,359.5Z" fill="#111"/>
<text transform="translate(306 498.6) scale(1 1.06)" font-size="15.1" >Time (s)</text>
<text font-size="14.4" transform="translate(233.0 447.6) rotate(-90) scale(1 1)" textLength="68" lengthAdjust="spacingAndGlyphs">ΔF/F0 (%)</text>
<path d="M258.7,455.6L259.9,447.6L261.2,444.4L262.4,454.0L263.6,451.6L264.8,446.9L266.1,446.1L267.3,446.5L268.5,452.6L269.8,444.5L271.0,445.7L272.2,437.7L273.5,443.9L274.7,450.5L275.9,449.2L277.2,451.2L278.4,450.2L279.6,444.9L280.8,449.7L282.1,446.9L283.3,441.4L284.5,436.9L285.8,446.2L287.0,449.4L288.2,449.9L289.5,446.9L290.7,445.7L291.9,440.6L293.2,439.1L294.4,443.4L295.6,445.9L296.8,453.1L298.1,451.2L299.3,450.7L300.5,448.2L301.8,446.1L303.0,442.7L304.2,446.1L305.5,443.8L306.7,439.9L307.9,438.4L309.2,442.9L310.4,440.7L311.6,444.3L312.8,439.0L314.1,436.6L315.3,433.4L316.5,446.2L317.8,443.0L319.0,434.0L320.2,439.3L321.5,445.7L322.7,442.5L323.9,443.3L325.2,443.5L326.4,443.4L327.6,445.7L328.8,445.3L330.1,443.6L331.3,450.9L332.5,447.2L333.8,448.3L335.0,451.2L336.2,457.8L337.5,456.8L338.7,452.6L339.9,452.4L341.2,451.0L342.4,455.2L343.6,449.1L344.8,452.2L346.1,451.5L347.3,450.1L348.5,449.1L349.8,448.6L351.0,448.2L353.0,457.7L354.7,450.8L355.9,439.9L357.2,427.1L358.4,420.6L359.9,406.0L361.3,398.1L362.8,390.7L364.5,402.4L365.9,392.7L367.3,388.7L368.7,379.8L370.3,384.9L371.9,390.3L373.2,395.5L374.4,396.3L375.6,396.9L376.8,397.4L378.1,395.6L379.3,391.6L380.5,392.4L381.8,390.6L383.0,391.2L384.2,395.5L385.5,391.4L386.7,400.8L387.9,407.8L389.2,405.9L390.4,404.7L391.6,408.2L392.8,406.9L394.1,406.2L395.3,405.1L396.5,412.1L397.8,408.8L399.0,408.1L400.2,409.5L401.5,410.6L402.7,415.6" fill="none" stroke="#666" stroke-width="0.95" stroke-linejoin="round" stroke-dasharray="1.5,0.8"/>
<path d="M258.7,462.7L259.9,460.8L261.2,457.2L262.4,462.8L263.6,464.1L264.8,460.7L266.1,459.0L267.3,462.7L268.5,464.6L269.8,455.5L271.0,454.1L272.2,453.6L273.5,452.4L274.7,457.9L275.9,460.2L277.2,459.9L278.4,462.8L279.6,461.8L280.8,459.2L282.1,457.0L283.3,453.1L284.5,449.7L285.8,453.3L287.0,462.2L288.2,457.0L289.5,460.0L290.7,455.9L291.9,449.5L293.2,450.0L294.4,455.7L295.6,456.8L296.8,462.3L298.1,461.6L299.3,462.9L300.5,454.1L301.8,458.3L303.0,460.7L304.2,458.5L305.5,453.2L306.7,454.6L307.9,451.3L309.2,453.9L310.4,458.6L311.6,455.9L312.8,448.0L314.1,448.0L315.3,447.3L316.5,455.2L317.8,454.5L319.0,450.2L320.2,452.8L321.5,456.5L322.7,458.5L323.9,455.0L325.2,453.5L326.4,454.7L327.6,454.5L328.8,459.7L330.1,458.7L331.3,461.2L332.5,462.6L333.8,464.3L335.0,462.1L336.2,466.6L337.5,468.6L338.7,466.6L339.9,464.7L341.2,467.1L342.4,462.8L343.6,461.3L344.8,461.2L346.1,464.0L347.3,461.8L348.5,462.5L349.8,466.1L351.0,461.2L353.0,470.1L354.7,463.6L355.9,456.0L357.2,449.8L358.4,445.7L359.6,437.0L360.8,439.5L362.1,434.0L363.3,431.2L364.5,433.7L365.8,431.3L367.0,433.6L368.2,426.9L369.5,421.7L370.7,427.1L371.9,429.4L373.2,428.5L374.4,428.1L375.6,427.0L376.8,428.0L378.1,436.0L379.3,439.5L380.5,433.1L381.8,429.3L383.0,431.1L384.2,432.6L385.5,431.2L386.7,431.7L387.9,432.3L389.2,430.9L390.4,436.6L391.6,432.2L392.8,430.7L394.1,433.0L395.3,431.9L396.5,434.4L397.8,433.9L399.0,433.1L400.2,435.1L401.5,434.7L402.7,434.3" fill="none" stroke="#666" stroke-width="0.95" stroke-linejoin="round" stroke-dasharray="1.5,0.8"/>
<path d="M258.7,460.2L259.9,455.2L261.2,453.9L262.4,458.7L263.6,462.2L264.8,454.9L266.1,448.9L267.3,456.0L268.5,456.3L269.8,451.1L271.0,446.9L272.2,443.8L273.5,448.5L274.7,451.9L275.9,451.9L277.2,457.0L278.4,456.6L279.6,452.2L280.8,453.2L282.1,454.0L283.3,448.8L284.5,442.9L285.8,449.2L287.0,454.4L288.2,455.2L289.5,451.7L290.7,448.6L291.9,447.0L293.2,441.6L294.4,449.7L295.6,455.3L296.8,457.0L298.1,457.9L299.3,453.9L300.5,448.8L301.8,449.2L303.0,449.5L304.2,449.8L305.5,450.2L306.7,446.8L307.9,447.4L309.2,449.5L310.4,450.7L311.6,445.2L312.8,447.2L314.1,443.1L315.3,439.2L316.5,449.9L317.8,447.3L319.0,443.6L320.2,445.5L321.5,450.7L322.7,450.3L323.9,447.2L325.2,448.9L326.4,452.1L327.6,450.9L328.8,452.9L330.1,451.3L331.3,455.6L332.5,455.8L333.8,453.6L335.0,458.2L336.2,462.0L337.5,460.2L338.7,459.2L339.9,458.0L341.2,460.2L342.4,457.9L343.6,458.9L344.8,457.4L346.1,461.1L347.3,457.8L348.5,454.8L349.8,456.4L351.0,455.5L353.0,464.8L354.7,452.7L356.4,441.9L358.4,430.6L359.6,428.0L360.8,419.8L362.8,405.4L364.5,417.9L365.8,412.4L367.0,408.8L368.7,401.4L370.7,412.6L371.9,407.0L373.2,402.0L374.4,408.5L375.6,414.7L376.8,409.5L378.1,411.6L380.0,415.6L381.8,402.8L383.0,404.9L384.2,408.7L385.5,410.5L386.7,410.2L387.9,420.8L389.2,420.5L390.4,416.8L391.6,419.0L392.8,420.2L394.1,420.9L395.3,419.6L396.5,419.1L397.8,420.1L399.0,424.1L400.2,420.7L401.5,421.4L402.7,421.5" fill="none" stroke="#333" stroke-width="1.3" stroke-linejoin="round" />
<line x1="259.2" y1="450.5" x2="403" y2="450.5" stroke="#444" stroke-width="1.3" />
<rect x="300.9" y="454.8" width="5.2" height="3.6" rx="1" fill="#5a5a5a"/>
<rect x="344.7" y="454.8" width="5.2" height="3.6" rx="1" fill="#5a5a5a"/>
<line x1="489.6" y1="368.2" x2="489.6" y2="480" stroke="#333" stroke-width="1.15" />
<line x1="487.0" y1="385.5" x2="489.6" y2="385.5" stroke="#333" stroke-width="1.15" />
<text transform="translate(484.8 390.8) scale(1 1.06)" font-size="15.1" text-anchor="end" >10</text>
<line x1="487.0" y1="409.3" x2="489.6" y2="409.3" stroke="#333" stroke-width="1.15" />
<text transform="translate(484.8 414.6) scale(1 1.06)" font-size="15.1" text-anchor="end" >5</text>
<line x1="487.0" y1="432.7" x2="489.6" y2="432.7" stroke="#333" stroke-width="1.15" />
<text transform="translate(484.8 438.0) scale(1 1.06)" font-size="15.1" text-anchor="end" >0</text>
<line x1="487.0" y1="456.4" x2="489.6" y2="456.4" stroke="#333" stroke-width="1.15" />
<text transform="translate(484.8 461.7) scale(1 1.06)" font-size="15.1" text-anchor="end" >-5</text>
<line x1="487.0" y1="480" x2="489.6" y2="480" stroke="#333" stroke-width="1.15" />
<text transform="translate(484.8 485.3) scale(1 1.06)" font-size="15.1" text-anchor="end" >-10</text>
<line x1="519.6" y1="403.5" x2="519.6" y2="470.7" stroke="#222" stroke-width="1.1" stroke-dasharray="1,1.1"/>
<line x1="578" y1="403.5" x2="578" y2="470.7" stroke="#222" stroke-width="1.1" stroke-dasharray="1,1.1"/>
<text transform="translate(497.9 343.6) scale(1 1.06)" font-size="15.1" >pH 4</text>
<text transform="translate(557.6 343.6) scale(1 1.06)" font-size="15.1" >wash</text>
<line x1="519.7" y1="350" x2="519.7" y2="356.5" stroke="#111" stroke-width="1.3" />
<path d="M517.6,355.3L521.8000000000001,355.3L519.7,359.5Z" fill="#111"/>
<line x1="577.2" y1="350" x2="577.2" y2="356.5" stroke="#111" stroke-width="1.3" />
<path d="M575.1,355.3L579.3000000000001,355.3L577.2,359.5Z" fill="#111"/>
<text transform="translate(536.2 498.6) scale(1 1.06)" font-size="15.1" >Time (s)</text>
<text font-size="14.4" transform="translate(463.5 447.6) rotate(-90) scale(1 1)" textLength="68" lengthAdjust="spacingAndGlyphs">ΔF/F0 (%)</text>
<path d="M489.4,438.8L490.3,436.8L491.2,435.5L492.0,431.6L492.8,433.6L493.6,434.8L494.4,435.7L495.3,431.8L496.1,435.7L496.9,435.0L497.7,433.9L498.5,436.5L499.4,434.5L500.2,434.7L501.0,438.8L501.8,435.2L502.6,431.3L503.5,429.8L504.3,431.4L505.1,428.9L505.9,432.9L506.7,433.3L507.6,430.9L508.4,433.2L509.2,432.9L510.0,429.7L510.8,429.7L511.7,425.6L512.5,424.8L513.3,430.4L514.1,426.7L514.9,427.1L515.8,432.3L516.6,431.0L517.4,426.5L518.2,427.4L519.1,428.1L519.9,429.5L520.7,429.0L521.5,431.6L522.3,429.3L523.2,429.1L524.0,428.5L524.8,428.9L525.6,429.2L526.4,434.2L527.3,433.0L528.1,431.4L528.9,429.4L529.7,430.4L530.5,431.0L531.4,431.4L532.2,428.9L533.0,429.5L533.8,430.3L534.6,431.5L535.5,435.7L536.3,434.0L537.1,433.7L537.9,432.5L538.7,434.5L539.6,436.9L540.4,434.7L541.2,434.8L542.0,439.1L542.8,440.1L543.7,440.2L544.5,433.4L545.3,435.9L546.1,430.7L546.9,434.6L547.8,434.3L548.6,433.1L549.4,436.4L550.2,434.8L551.1,430.5L551.9,431.8L552.7,431.7L553.5,427.6L554.3,427.5L555.2,430.4L556.0,431.7L556.8,430.3L557.6,430.5L558.4,430.2L559.3,427.8L560.1,431.0L560.9,434.8L561.7,435.0L562.5,435.3L563.4,438.5L564.2,442.0L565.0,439.7L565.8,440.8L566.6,443.7L567.5,449.6L568.3,448.2L569.1,445.2L569.9,446.6L570.7,449.1L571.6,452.1L572.4,452.8L573.6,452.7L574.4,451.9L575.3,449.3L576.1,445.7L576.9,445.3L577.7,444.7L578.5,444.6L579.4,449.7L580.2,451.1L581.0,454.6L581.8,447.3L582.6,442.3L583.5,439.4L584.3,440.6L585.1,439.7L585.9,436.4L586.7,434.7L587.6,438.0L588.4,430.7L589.2,429.8L590.0,422.4L590.8,414.7L591.7,409.3L592.5,399.0L593.3,386.4L594.1,396.6L594.9,397.3L595.8,404.6L596.7,403.4L597.6,398.4L598.5,397.1L599.5,396.4L600.4,400.4L601.3,399.5L602.2,394.9L603.2,393.3L604.0,397.8L604.8,403.5L605.6,406.0L606.4,406.4L607.3,406.6L608.1,404.8L608.9,404.9L609.7,399.2L610.5,398.7L611.5,404.6L612.4,403.3L613.3,401.7L614.2,400.8L615.1,395.9L615.9,389.8L616.7,384.7L617.5,379.5L618.3,372.9L619.2,367.2L620.0,370.9L620.8,373.3L621.6,376.0L622.5,380.8L623.5,381.7L624.4,388.8L625.3,389.9L626.1,391.0L626.9,393.8L627.8,392.8L628.7,392.1L629.6,393.1L630.5,395.3L631.5,396.1L632.4,396.9L633.3,398.8L634.2,403.8L635.2,400.0L636.1,404.4L637.0,405.5L637.9,406.4L638.8,410.8L639.8,408.5L640.7,408.2L641.6,409.9L642.5,416.1" fill="none" stroke="#666" stroke-width="0.95" stroke-linejoin="round" stroke-dasharray="1.5,0.8"/>
<path d="M489.4,448.2L490.3,444.3L491.2,447.3L492.0,444.8L492.8,446.4L493.6,442.0L494.4,445.9L495.3,441.7L496.1,443.8L496.9,447.0L497.7,444.8L498.5,446.2L499.4,444.4L500.2,448.4L501.0,444.0L501.8,445.9L502.6,441.5L503.5,439.9L504.3,444.7L505.1,442.2L505.9,445.1L506.7,441.3L507.6,443.7L508.4,444.5L509.2,441.8L510.0,438.5L510.8,440.5L511.7,441.9L512.5,440.5L513.3,437.8L514.1,438.3L514.9,437.2L515.8,442.3L516.6,438.0L517.4,438.0L518.2,436.3L519.1,438.4L519.9,441.1L520.7,442.9L521.5,440.1L522.3,440.9L523.2,442.3L524.0,438.8L524.8,439.9L525.6,443.2L526.4,445.3L527.3,444.9L528.1,442.3L528.9,440.0L529.7,445.9L530.5,447.5L531.4,446.1L532.2,442.9L533.0,441.1L533.8,443.6L534.6,446.2L535.5,448.7L536.3,445.1L537.1,444.7L537.9,443.1L538.7,445.4L539.6,446.2L540.4,445.4L541.2,448.1L542.0,452.7L542.8,450.0L543.7,447.6L544.5,445.5L545.3,446.6L546.1,443.4L546.9,447.2L547.8,448.3L548.6,447.5L549.4,446.7L550.2,442.3L551.1,443.2L551.9,444.7L552.7,440.2L553.5,442.1L554.3,443.4L555.2,443.4L556.0,440.0L556.8,439.0L557.6,438.8L558.4,439.8L559.3,440.5L560.1,437.9L560.9,444.8L561.7,446.9L562.5,450.0L563.4,452.2L564.2,449.7L565.0,452.7L565.8,453.2L566.6,455.2L567.5,456.6L568.3,460.1L569.1,460.0L569.9,453.6L570.7,459.7L571.6,457.1L572.4,461.0L573.6,462.8L574.4,463.3L575.3,457.0L576.1,454.2L576.9,453.6L577.7,453.4L578.5,453.7L579.4,455.4L580.2,458.0L581.0,464.3L581.8,461.4L582.6,456.9L583.5,450.1L584.3,454.0L585.1,447.3L585.9,448.8L586.7,446.5L587.6,443.9L588.4,447.3L589.2,443.1L590.0,436.7L590.8,434.3L591.8,435.3L592.7,429.4L593.6,425.9L594.5,422.8L595.5,424.5L596.4,427.8L597.3,427.5L598.2,430.9L599.1,427.6L599.9,430.9L600.7,431.4L601.5,429.9L602.3,433.7L603.2,434.3L604.0,432.3L604.8,430.5L605.6,428.7L606.4,431.5L607.3,429.1L608.1,428.1L608.9,430.3L609.7,427.9L610.5,430.5L611.4,431.1L612.2,426.1L613.0,429.9L613.8,427.0L614.6,428.0L615.5,430.5L616.3,432.0L617.1,427.8L617.9,430.7L618.8,426.5L619.8,428.8L620.7,422.3L621.6,423.9L622.4,423.4L623.3,429.8L624.1,434.3L625.0,435.7L625.9,435.1L626.8,434.0L627.8,433.3L628.6,435.2L629.4,435.7L630.2,435.9L631.1,437.0L631.9,437.6L632.7,439.2L633.5,437.2L634.3,438.9L635.2,438.0L636.0,435.6L636.8,438.4L637.6,435.5L638.4,439.0L639.3,439.7L640.1,440.2L640.9,440.7L641.7,439.7L642.5,438.9" fill="none" stroke="#666" stroke-width="0.95" stroke-linejoin="round" stroke-dasharray="1.5,0.8"/>
<path d="M489.4,442.8L490.3,442.0L491.2,440.8L492.0,437.8L492.8,436.6L493.6,438.9L494.4,440.5L495.3,437.9L496.1,438.4L496.9,437.8L497.7,439.5L498.5,440.5L499.4,438.5L500.2,441.9L501.0,439.1L501.8,438.3L502.6,438.3L503.5,437.7L504.3,436.8L505.1,438.1L505.9,437.0L506.7,436.6L507.6,436.9L508.4,434.0L509.2,434.1L510.0,434.0L510.8,434.7L511.7,432.1L512.5,431.9L513.3,435.1L514.1,434.3L514.9,433.9L515.8,436.6L516.6,435.8L517.4,435.9L518.2,434.2L519.1,435.7L519.9,434.5L520.7,437.3L521.5,436.3L522.3,434.8L523.2,434.5L524.0,437.9L524.8,435.5L525.6,435.8L526.4,436.4L527.3,435.2L528.1,434.1L528.9,439.2L529.7,438.3L530.5,436.6L531.4,438.2L532.2,435.7L533.0,436.3L533.8,439.8L534.6,441.2L535.5,439.6L536.3,441.1L537.1,439.3L537.9,436.8L538.7,439.2L539.6,442.0L540.4,442.7L541.2,444.1L542.0,447.0L542.8,445.7L543.7,444.8L544.5,442.9L545.3,440.9L546.1,441.1L546.9,441.5L547.8,439.3L548.6,439.1L549.4,439.9L550.2,437.0L551.1,437.1L551.9,436.6L552.7,435.0L553.5,434.5L554.3,436.3L555.2,434.3L556.0,433.4L556.8,437.5L557.6,438.6L558.4,434.3L559.3,435.7L560.1,431.9L560.9,435.9L561.7,438.9L562.5,444.5L563.4,444.9L564.2,447.0L565.0,447.0L565.8,450.0L566.6,453.0L567.5,454.1L568.3,451.5L569.1,450.4L569.9,452.9L570.7,454.4L571.6,455.2L572.4,458.3L573.6,460.1L574.4,454.8L575.3,450.5L576.1,448.4L576.9,451.2L577.7,451.4L578.5,447.6L579.4,450.4L580.2,455.4L581.0,460.6L581.8,456.3L582.6,452.0L583.5,444.2L584.3,444.0L585.1,446.0L585.9,443.5L586.7,441.3L587.6,442.8L588.4,436.5L589.2,435.5L590.0,434.2L590.8,430.0L591.8,421.1L592.8,408.2L593.7,413.9L594.5,420.3L595.4,415.3L596.2,416.0L597.0,417.9L597.8,416.3L598.6,421.7L599.5,424.1L600.3,420.5L601.1,422.8L601.9,420.5L603.2,408.8L604.0,417.0L604.8,420.6L605.6,422.8L606.4,419.4L607.3,421.8L608.1,419.6L608.9,422.0L609.7,420.4L610.5,424.0L611.4,422.3L612.2,418.6L613.0,412.7L613.8,414.7L614.6,416.5L615.5,417.7L616.3,414.6L617.1,408.6L617.9,398.3L618.7,400.9L619.6,398.1L620.4,401.2L621.6,410.7L622.4,410.8L623.3,409.3L624.1,407.7L624.9,407.7L625.7,410.9L626.5,418.0L627.4,415.3L628.2,415.6L629.0,412.7L629.8,414.2L630.6,417.4L631.5,417.3L632.3,416.7L633.1,415.0L633.9,415.1L634.7,414.2L635.6,418.2L636.4,420.8L637.2,422.5L638.0,424.8L638.8,423.5L639.7,425.9L640.5,424.3L641.3,422.3L642.5,425.6" fill="none" stroke="#333" stroke-width="1.3" stroke-linejoin="round" />
<line x1="489.6" y1="432.7" x2="642.5" y2="432.7" stroke="#444" stroke-width="1.3" />
<rect x="517.0" y="436.7" width="5.2" height="3.6" rx="1" fill="#5a5a5a"/>
<rect x="575.4" y="436.7" width="5.2" height="3.6" rx="1" fill="#5a5a5a"/>
<text transform="translate(59.4 531.2) scale(1 1.06)" font-size="15.1" >pH 2.5</text>
<text transform="translate(118.3 531.2) scale(1 1.06)" font-size="15.1" >wash</text>
<line x1="80.6" y1="536.8" x2="80.6" y2="541.3" stroke="#111" stroke-width="1.3" />
<path d="M78.39999999999999,540.3L82.8,540.3L80.6,544.5Z" fill="#111"/>
<line x1="120" y1="536.8" x2="120" y2="541.3" stroke="#111" stroke-width="1.3" />
<path d="M117.8,540.3L122.2,540.3L120,544.5Z" fill="#111"/>
<rect x="41.9" y="550.6" width="131.4" height="98.2" fill="#8cb646"/>
<rect x="41.9" y="550.6" width="1.7" height="5.1" fill="#ece05a"/>
<rect x="43.4" y="550.6" width="1.7" height="5.1" fill="#d3d851"/>
<rect x="46.4" y="550.6" width="1.7" height="5.1" fill="#83b04a"/>
<rect x="50.9" y="550.6" width="1.7" height="5.1" fill="#72a654"/>
<rect x="59.8" y="550.6" width="1.7" height="5.1" fill="#97bc46"/>
<rect x="61.3" y="550.6" width="3.2" height="5.1" fill="#83b04a"/>
<rect x="65.8" y="550.6" width="1.7" height="5.1" fill="#97bc46"/>
<rect x="71.8" y="550.6" width="1.7" height="5.1" fill="#83b04a"/>
<rect x="77.7" y="550.6" width="1.7" height="5.1" fill="#83b04a"/>
<rect x="86.7" y="550.6" width="1.7" height="5.1" fill="#aeca48"/>
<rect x="88.2" y="550.6" width="1.7" height="5.1" fill="#97bc46"/>
<rect x="92.7" y="550.6" width="1.7" height="5.1" fill="#598775"/>
<rect x="94.2" y="550.6" width="3.2" height="5.1" fill="#5f8f6c"/>
<rect x="97.1" y="550.6" width="1.7" height="5.1" fill="#83b04a"/>
<rect x="98.6" y="550.6" width="1.7" height="5.1" fill="#598775"/>
<rect x="100.1" y="550.6" width="1.7" height="5.1" fill="#97bc46"/>
<rect x="101.6" y="550.6" width="1.7" height="5.1" fill="#69a058"/>
<rect x="103.1" y="550.6" width="3.2" height="5.1" fill="#97bc46"/>
<rect x="106.1" y="550.6" width="1.7" height="5.1" fill="#649862"/>
<rect x="107.6" y="550.6" width="1.7" height="5.1" fill="#5f8f6c"/>
<rect x="109.1" y="550.6" width="1.7" height="5.1" fill="#72a654"/>
<rect x="110.6" y="550.6" width="1.7" height="5.1" fill="#598775"/>
<rect x="112.1" y="550.6" width="1.7" height="5.1" fill="#7aab4f"/>
<rect x="113.6" y="550.6" width="3.2" height="5.1" fill="#547f7f"/>
<rect x="116.6" y="550.6" width="1.7" height="5.1" fill="#97bc46"/>
<rect x="118.1" y="550.6" width="1.7" height="5.1" fill="#649862"/>
<rect x="119.5" y="550.6" width="1.7" height="5.1" fill="#7aab4f"/>
<rect x="121.0" y="550.6" width="1.7" height="5.1" fill="#69a058"/>
<rect x="122.5" y="550.6" width="1.7" height="5.1" fill="#649862"/>
<rect x="124.0" y="550.6" width="1.7" height="5.1" fill="#598775"/>
<rect x="125.5" y="550.6" width="4.7" height="5.1" fill="#97bc46"/>
<rect x="130.0" y="550.6" width="1.7" height="5.1" fill="#598775"/>
<rect x="131.5" y="550.6" width="1.7" height="5.1" fill="#5f8f6c"/>
<rect x="133.0" y="550.6" width="1.7" height="5.1" fill="#7aab4f"/>
<rect x="134.5" y="550.6" width="1.7" height="5.1" fill="#97bc46"/>
<rect x="136.0" y="550.6" width="1.7" height="5.1" fill="#72a654"/>
<rect x="137.5" y="550.6" width="1.7" height="5.1" fill="#83b04a"/>
<rect x="139.0" y="550.6" width="1.7" height="5.1" fill="#7aab4f"/>
<rect x="140.4" y="550.6" width="1.7" height="5.1" fill="#5f8f6c"/>
<rect x="141.9" y="550.6" width="1.7" height="5.1" fill="#72a654"/>
<rect x="143.4" y="550.6" width="1.7" height="5.1" fill="#649862"/>
<rect x="144.9" y="550.6" width="1.7" height="5.1" fill="#5f8f6c"/>
<rect x="152.4" y="550.6" width="1.7" height="5.1" fill="#97bc46"/>
<rect x="158.4" y="550.6" width="3.2" height="5.1" fill="#83b04a"/>
<rect x="167.3" y="550.6" width="1.7" height="5.1" fill="#97bc46"/>
<rect x="171.8" y="550.6" width="1.7" height="5.1" fill="#97bc46"/>
<rect x="41.9" y="555.5" width="1.7" height="5.1" fill="#83b04a"/>
<rect x="44.9" y="555.5" width="1.7" height="5.1" fill="#97bc46"/>
<rect x="47.9" y="555.5" width="1.7" height="5.1" fill="#97bc46"/>
<rect x="50.9" y="555.5" width="1.7" height="5.1" fill="#7aab4f"/>
<rect x="52.4" y="555.5" width="3.2" height="5.1" fill="#83b04a"/>
<rect x="56.8" y="555.5" width="3.2" height="5.1" fill="#83b04a"/>
<rect x="62.8" y="555.5" width="1.7" height="5.1" fill="#97bc46"/>
<rect x="64.3" y="555.5" width="1.7" height="5.1" fill="#83b04a"/>
<rect x="67.3" y="555.5" width="1.7" height="5.1" fill="#97bc46"/>
<rect x="70.3" y="555.5" width="1.7" height="5.1" fill="#83b04a"/>
<rect x="74.8" y="555.5" width="1.7" height="5.1" fill="#97bc46"/>
<rect x="79.2" y="555.5" width="3.2" height="5.1" fill="#83b04a"/>
<rect x="91.2" y="555.5" width="1.7" height="5.1" fill="#97bc46"/>
<rect x="92.7" y="555.5" width="1.7" height="5.1" fill="#83b04a"/>
<rect x="94.2" y="555.5" width="4.7" height="5.1" fill="#97bc46"/>
<rect x="100.1" y="555.5" width="1.7" height="5.1" fill="#97bc46"/>
<rect x="101.6" y="555.5" width="1.7" height="5.1" fill="#83b04a"/>
<rect x="107.6" y="555.5" width="1.7" height="5.1" fill="#83b04a"/>
<rect x="110.6" y="555.5" width="3.2" height="5.1" fill="#97bc46"/>
<rect x="116.6" y="555.5" width="1.7" height="5.1" fill="#83b04a"/>
<rect x="118.1" y="555.5" width="1.7" height="5.1" fill="#97bc46"/>
<rect x="122.5" y="555.5" width="3.2" height="5.1" fill="#83b04a"/>
<rect x="125.5" y="555.5" width="1.7" height="5.1" fill="#97bc46"/>
<rect x="134.5" y="555.5" width="1.7" height="5.1" fill="#83b04a"/>
<rect x="141.9" y="555.5" width="1.7" height="5.1" fill="#83b04a"/>
<rect x="149.4" y="555.5" width="1.7" height="5.1" fill="#97bc46"/>
<rect x="153.9" y="555.5" width="3.2" height="5.1" fill="#83b04a"/>
<rect x="164.3" y="555.5" width="1.7" height="5.1" fill="#97bc46"/>
<rect x="168.8" y="555.5" width="3.2" height="5.1" fill="#97bc46"/>
<rect x="171.8" y="555.5" width="1.7" height="5.1" fill="#83b04a"/>
<rect x="43.4" y="560.4" width="1.7" height="5.1" fill="#83b04a"/>
<rect x="46.4" y="560.4" width="3.2" height="5.1" fill="#4d6f8d"/>
<rect x="49.4" y="560.4" width="1.7" height="5.1" fill="#598775"/>
<rect x="56.8" y="560.4" width="3.2" height="5.1" fill="#97bc46"/>
<rect x="59.8" y="560.4" width="1.7" height="5.1" fill="#83b04a"/>
<rect x="64.3" y="560.4" width="1.7" height="5.1" fill="#83b04a"/>
<rect x="65.8" y="560.4" width="1.7" height="5.1" fill="#97bc46"/>
<rect x="68.8" y="560.4" width="1.7" height="5.1" fill="#83b04a"/>
<rect x="74.8" y="560.4" width="1.7" height="5.1" fill="#83b04a"/>
<rect x="76.2" y="560.4" width="1.7" height="5.1" fill="#97bc46"/>
<rect x="80.7" y="560.4" width="1.7" height="5.1" fill="#83b04a"/>
<rect x="82.2" y="560.4" width="1.7" height="5.1" fill="#649862"/>
<rect x="83.7" y="560.4" width="1.7" height="5.1" fill="#97bc46"/>
<rect x="85.2" y="560.4" width="1.7" height="5.1" fill="#5f8f6c"/>
<rect x="86.7" y="560.4" width="1.7" height="5.1" fill="#72a654"/>
<rect x="88.2" y="560.4" width="1.7" height="5.1" fill="#97bc46"/>
<rect x="91.2" y="560.4" width="1.7" height="5.1" fill="#69a058"/>
<rect x="92.7" y="560.4" width="1.7" height="5.1" fill="#97bc46"/>
<rect x="94.2" y="560.4" width="1.7" height="5.1" fill="#83b04a"/>
<rect x="95.7" y="560.4" width="3.2" height="5.1" fill="#97bc46"/>
<rect x="98.6" y="560.4" width="1.7" height="5.1" fill="#72a654"/>
<rect x="100.1" y="560.4" width="1.7" height="5.1" fill="#83b04a"/>
<rect x="101.6" y="560.4" width="1.7" height="5.1" fill="#7aab4f"/>
<rect x="103.1" y="560.4" width="1.7" height="5.1" fill="#a3c347"/>
<rect x="107.6" y="560.4" width="1.7" height="5.1" fill="#97bc46"/>
<rect x="109.1" y="560.4" width="1.7" height="5.1" fill="#a3c347"/>
<rect x="110.6" y="560.4" width="3.2" height="5.1" fill="#69a058"/>
<rect x="116.6" y="560.4" width="3.2" height="5.1" fill="#7aab4f"/>
<rect x="119.5" y="560.4" width="1.7" height="5.1" fill="#72a654"/>
<rect x="121.0" y="560.4" width="1.7" height="5.1" fill="#97bc46"/>
<rect x="124.0" y="560.4" width="1.7" height="5.1" fill="#83b04a"/>
<rect x="125.5" y="560.4" width="1.7" height="5.1" fill="#5f8f6c"/>
<rect x="127.0" y="560.4" width="1.7" height="5.1" fill="#97bc46"/>
<rect x="128.5" y="560.4" width="1.7" height="5.1" fill="#7aab4f"/>
<rect x="130.0" y="560.4" width="3.2" height="5.1" fill="#69a058"/>
<rect x="133.0" y="560.4" width="1.7" height="5.1" fill="#97bc46"/>
<rect x="140.4" y="560.4" width="3.2" height="5.1" fill="#97bc46"/>
<rect x="143.4" y="560.4" width="4.7" height="5.1" fill="#83b04a"/>
<rect x="153.9" y="560.4" width="4.7" height="5.1" fill="#97bc46"/>
<rect x="158.4" y="560.4" width="1.7" height="5.1" fill="#83b04a"/>
<rect x="159.9" y="560.4" width="1.7" height="5.1" fill="#97bc46"/>
<rect x="164.3" y="560.4" width="1.7" height="5.1" fill="#97bc46"/>
<rect x="165.8" y="560.4" width="1.7" height="5.1" fill="#83b04a"/>
<rect x="167.3" y="560.4" width="1.7" height="5.1" fill="#97bc46"/>
<rect x="41.9" y="565.3" width="1.7" height="5.1" fill="#e26832"/>
<rect x="43.4" y="565.3" width="1.7" height="5.1" fill="#d3d851"/>
<rect x="44.9" y="565.3" width="1.7" height="5.1" fill="#dfdc56"/>
<rect x="46.4" y="565.3" width="1.7" height="5.1" fill="#d3d851"/>
<rect x="47.9" y="565.3" width="1.7" height="5.1" fill="#aeca48"/>
<rect x="49.4" y="565.3" width="3.2" height="5.1" fill="#ece05a"/>
<rect x="52.4" y="565.3" width="1.7" height="5.1" fill="#d3d851"/>
<rect x="53.8" y="565.3" width="1.7" height="5.1" fill="#c6d44c"/>
<rect x="55.3" y="565.3" width="1.7" height="5.1" fill="#d3d851"/>
<rect x="56.8" y="565.3" width="1.7" height="5.1" fill="#dfdc56"/>
<rect x="58.3" y="565.3" width="1.7" height="5.1" fill="#c6d44c"/>
<rect x="59.8" y="565.3" width="1.7" height="5.1" fill="#dfdc56"/>
<rect x="61.3" y="565.3" width="1.7" height="5.1" fill="#d3d851"/>
<rect x="62.8" y="565.3" width="1.7" height="5.1" fill="#c6d44c"/>
<rect x="64.3" y="565.3" width="1.7" height="5.1" fill="#ece05a"/>
<rect x="65.8" y="565.3" width="1.7" height="5.1" fill="#c6d44c"/>
<rect x="67.3" y="565.3" width="1.7" height="5.1" fill="#d3d851"/>
<rect x="68.8" y="565.3" width="1.7" height="5.1" fill="#aeca48"/>
<rect x="70.3" y="565.3" width="1.7" height="5.1" fill="#c6d44c"/>
<rect x="71.8" y="565.3" width="1.7" height="5.1" fill="#aeca48"/>
<rect x="73.3" y="565.3" width="1.7" height="5.1" fill="#dfdc56"/>
<rect x="74.8" y="565.3" width="3.2" height="5.1" fill="#aeca48"/>
<rect x="77.7" y="565.3" width="3.2" height="5.1" fill="#b9d048"/>
<rect x="80.7" y="565.3" width="1.7" height="5.1" fill="#d3d851"/>
<rect x="82.2" y="565.3" width="3.2" height="5.1" fill="#c6d44c"/>
<rect x="85.2" y="565.3" width="3.2" height="5.1" fill="#ece05a"/>
<rect x="88.2" y="565.3" width="1.7" height="5.1" fill="#d3d851"/>
<rect x="89.7" y="565.3" width="3.2" height="5.1" fill="#dfdc56"/>
<rect x="92.7" y="565.3" width="1.7" height="5.1" fill="#b9d048"/>
<rect x="94.2" y="565.3" width="1.7" height="5.1" fill="#dfdc56"/>
<rect x="95.7" y="565.3" width="1.7" height="5.1" fill="#b9d048"/>
<rect x="97.1" y="565.3" width="1.7" height="5.1" fill="#d3d851"/>
<rect x="98.6" y="565.3" width="1.7" height="5.1" fill="#c6d44c"/>
<rect x="100.1" y="565.3" width="1.7" height="5.1" fill="#b9d048"/>
<rect x="101.6" y="565.3" width="1.7" height="5.1" fill="#dfdc56"/>
<rect x="103.1" y="565.3" width="1.7" height="5.1" fill="#ece05a"/>
<rect x="104.6" y="565.3" width="1.7" height="5.1" fill="#c6d44c"/>
<rect x="106.1" y="565.3" width="1.7" height="5.1" fill="#dfdc56"/>
<rect x="107.6" y="565.3" width="1.7" height="5.1" fill="#c6d44c"/>
<rect x="109.1" y="565.3" width="1.7" height="5.1" fill="#d3d851"/>
<rect x="110.6" y="565.3" width="1.7" height="5.1" fill="#ece05a"/>
<rect x="112.1" y="565.3" width="1.7" height="5.1" fill="#dfdc56"/>
<rect x="113.6" y="565.3" width="1.7" height="5.1" fill="#aeca48"/>
<rect x="115.1" y="565.3" width="3.2" height="5.1" fill="#c6d44c"/>
<rect x="118.1" y="565.3" width="1.7" height="5.1" fill="#f0a03c"/>
<rect x="119.5" y="565.3" width="3.2" height="5.1" fill="#efb044"/>
<rect x="122.5" y="565.3" width="1.7" height="5.1" fill="#ec923a"/>
<rect x="124.0" y="565.3" width="1.7" height="5.1" fill="#e98437"/>
<rect x="125.5" y="565.3" width="3.2" height="5.1" fill="#e67634"/>
<rect x="128.5" y="565.3" width="1.7" height="5.1" fill="#d3d851"/>
<rect x="130.0" y="565.3" width="1.7" height="5.1" fill="#dfdc56"/>
<rect x="131.5" y="565.3" width="1.7" height="5.1" fill="#b9d048"/>
<rect x="133.0" y="565.3" width="3.2" height="5.1" fill="#d3d851"/>
<rect x="136.0" y="565.3" width="1.7" height="5.1" fill="#c6d44c"/>
<rect x="137.5" y="565.3" width="1.7" height="5.1" fill="#dfdc56"/>
<rect x="139.0" y="565.3" width="1.7" height="5.1" fill="#ece05a"/>
<rect x="140.4" y="565.3" width="1.7" height="5.1" fill="#aeca48"/>
<rect x="141.9" y="565.3" width="1.7" height="5.1" fill="#ece05a"/>
<rect x="143.4" y="565.3" width="1.7" height="5.1" fill="#c6d44c"/>
<rect x="144.9" y="565.3" width="1.7" height="5.1" fill="#dfdc56"/>
<rect x="146.4" y="565.3" width="1.7" height="5.1" fill="#b9d048"/>
<rect x="147.9" y="565.3" width="1.7" height="5.1" fill="#dfdc56"/>
<rect x="149.4" y="565.3" width="1.7" height="5.1" fill="#b9d048"/>
<rect x="150.9" y="565.3" width="1.7" height="5.1" fill="#c6d44c"/>
<rect x="152.4" y="565.3" width="1.7" height="5.1" fill="#ece05a"/>
<rect x="153.9" y="565.3" width="1.7" height="5.1" fill="#d3d851"/>
<rect x="155.4" y="565.3" width="1.7" height="5.1" fill="#dfdc56"/>
<rect x="156.9" y="565.3" width="3.2" height="5.1" fill="#c6d44c"/>
<rect x="159.9" y="565.3" width="1.7" height="5.1" fill="#de5a30"/>
<rect x="161.4" y="565.3" width="1.7" height="5.1" fill="#e67634"/>
<rect x="162.8" y="565.3" width="1.7" height="5.1" fill="#dfdc56"/>
<rect x="164.3" y="565.3" width="1.7" height="5.1" fill="#b9d048"/>
<rect x="165.8" y="565.3" width="1.7" height="5.1" fill="#c6d44c"/>
<rect x="167.3" y="565.3" width="1.7" height="5.1" fill="#d3d851"/>
<rect x="168.8" y="565.3" width="1.7" height="5.1" fill="#e98437"/>
<rect x="170.3" y="565.3" width="3.2" height="5.1" fill="#e26832"/>
<rect x="50.9" y="570.2" width="1.7" height="5.1" fill="#83b04a"/>
<rect x="61.3" y="570.2" width="1.7" height="5.1" fill="#83b04a"/>
<rect x="64.3" y="570.2" width="1.7" height="5.1" fill="#97bc46"/>
<rect x="71.8" y="570.2" width="1.7" height="5.1" fill="#97bc46"/>
<rect x="80.7" y="570.2" width="1.7" height="5.1" fill="#97bc46"/>
<rect x="83.7" y="570.2" width="1.7" height="5.1" fill="#83b04a"/>
<rect x="88.2" y="570.2" width="1.7" height="5.1" fill="#83b04a"/>
<rect x="94.2" y="570.2" width="1.7" height="5.1" fill="#83b04a"/>
<rect x="107.6" y="570.2" width="1.7" height="5.1" fill="#97bc46"/>
<rect x="109.1" y="570.2" width="1.7" height="5.1" fill="#72a654"/>
<rect x="118.1" y="570.2" width="1.7" height="5.1" fill="#83b04a"/>
<rect x="122.5" y="570.2" width="1.7" height="5.1" fill="#97bc46"/>
<rect x="130.0" y="570.2" width="3.2" height="5.1" fill="#97bc46"/>
<rect x="133.0" y="570.2" width="1.7" height="5.1" fill="#83b04a"/>
<rect x="136.0" y="570.2" width="3.2" height="5.1" fill="#97bc46"/>
<rect x="141.9" y="570.2" width="1.7" height="5.1" fill="#97bc46"/>
<rect x="146.4" y="570.2" width="1.7" height="5.1" fill="#97bc46"/>
<rect x="150.9" y="570.2" width="1.7" height="5.1" fill="#83b04a"/>
<rect x="155.4" y="570.2" width="1.7" height="5.1" fill="#97bc46"/>
<rect x="156.9" y="570.2" width="1.7" height="5.1" fill="#7aab4f"/>
<rect x="159.9" y="570.2" width="1.7" height="5.1" fill="#83b04a"/>
<rect x="162.8" y="570.2" width="1.7" height="5.1" fill="#97bc46"/>
<rect x="164.3" y="570.2" width="1.7" height="5.1" fill="#83b04a"/>
<rect x="168.8" y="570.2" width="3.2" height="5.1" fill="#83b04a"/>
<rect x="43.4" y="575.1" width="1.7" height="5.1" fill="#97bc46"/>
<rect x="44.9" y="575.1" width="1.7" height="5.1" fill="#83b04a"/>
<rect x="46.4" y="575.1" width="1.7" height="5.1" fill="#97bc46"/>
<rect x="50.9" y="575.1" width="1.7" height="5.1" fill="#83b04a"/>
<rect x="52.4" y="575.1" width="1.7" height="5.1" fill="#97bc46"/>
<rect x="61.3" y="575.1" width="1.7" height="5.1" fill="#83b04a"/>
<rect x="62.8" y="575.1" width="1.7" height="5.1" fill="#a3c347"/>
<rect x="64.3" y="575.1" width="1.7" height="5.1" fill="#83b04a"/>
<rect x="73.3" y="575.1" width="1.7" height="5.1" fill="#83b04a"/>
<rect x="79.2" y="575.1" width="1.7" height="5.1" fill="#97bc46"/>
<rect x="95.7" y="575.1" width="1.7" height="5.1" fill="#a3c347"/>
<rect x="100.1" y="575.1" width="1.7" height="5.1" fill="#97bc46"/>
<rect x="101.6" y="575.1" width="3.2" height="5.1" fill="#83b04a"/>
<rect x="116.6" y="575.1" width="1.7" height="5.1" fill="#97bc46"/>
<rect x="118.1" y="575.1" width="1.7" height="5.1" fill="#83b04a"/>
<rect x="125.5" y="575.1" width="1.7" height="5.1" fill="#7aab4f"/>
<rect x="127.0" y="575.1" width="1.7" height="5.1" fill="#83b04a"/>
<rect x="128.5" y="575.1" width="3.2" height="5.1" fill="#97bc46"/>
<rect x="134.5" y="575.1" width="1.7" height="5.1" fill="#97bc46"/>
<rect x="136.0" y="575.1" width="1.7" height="5.1" fill="#83b04a"/>
<rect x="139.0" y="575.1" width="1.7" height="5.1" fill="#69a058"/>
<rect x="146.4" y="575.1" width="1.7" height="5.1" fill="#72a654"/>
<rect x="149.4" y="575.1" width="1.7" height="5.1" fill="#83b04a"/>
<rect x="152.4" y="575.1" width="1.7" height="5.1" fill="#97bc46"/>
<rect x="156.9" y="575.1" width="3.2" height="5.1" fill="#83b04a"/>
<rect x="168.8" y="575.1" width="1.7" height="5.1" fill="#97bc46"/>
<rect x="170.3" y="575.1" width="1.7" height="5.1" fill="#83b04a"/>
<rect x="171.8" y="575.1" width="1.7" height="5.1" fill="#97bc46"/>
<rect x="41.9" y="580.1" width="1.7" height="5.1" fill="#97bc46"/>
<rect x="44.9" y="580.1" width="1.7" height="5.1" fill="#72a654"/>
<rect x="46.4" y="580.1" width="1.7" height="5.1" fill="#83b04a"/>
<rect x="52.4" y="580.1" width="1.7" height="5.1" fill="#83b04a"/>
<rect x="55.3" y="580.1" width="1.7" height="5.1" fill="#97bc46"/>
<rect x="56.8" y="580.1" width="1.7" height="5.1" fill="#83b04a"/>
<rect x="58.3" y="580.1" width="1.7" height="5.1" fill="#97bc46"/>
<rect x="61.3" y="580.1" width="1.7" height="5.1" fill="#97bc46"/>
<rect x="64.3" y="580.1" width="1.7" height="5.1" fill="#83b04a"/>
<rect x="70.3" y="580.1" width="3.2" height="5.1" fill="#83b04a"/>
<rect x="76.2" y="580.1" width="1.7" height="5.1" fill="#97bc46"/>
<rect x="80.7" y="580.1" width="1.7" height="5.1" fill="#5f8f6c"/>
<rect x="82.2" y="580.1" width="1.7" height="5.1" fill="#547f7f"/>
<rect x="83.7" y="580.1" width="3.2" height="5.1" fill="#4d6f8d"/>
<rect x="86.7" y="580.1" width="1.7" height="5.1" fill="#649862"/>
<rect x="88.2" y="580.1" width="1.7" height="5.1" fill="#598775"/>
<rect x="89.7" y="580.1" width="1.7" height="5.1" fill="#4d6f8d"/>
<rect x="91.2" y="580.1" width="1.7" height="5.1" fill="#5f8f6c"/>
<rect x="92.7" y="580.1" width="1.7" height="5.1" fill="#4d6f8d"/>
<rect x="94.2" y="580.1" width="1.7" height="5.1" fill="#547f7f"/>
<rect x="95.7" y="580.1" width="1.7" height="5.1" fill="#5f8f6c"/>
<rect x="97.1" y="580.1" width="4.7" height="5.1" fill="#4b6792"/>
<rect x="101.6" y="580.1" width="1.7" height="5.1" fill="#4d6f8d"/>
<rect x="103.1" y="580.1" width="4.7" height="5.1" fill="#507688"/>
<rect x="107.6" y="580.1" width="1.7" height="5.1" fill="#4b6792"/>
<rect x="109.1" y="580.1" width="3.2" height="5.1" fill="#547f7f"/>
<rect x="112.1" y="580.1" width="1.7" height="5.1" fill="#5f8f6c"/>
<rect x="113.6" y="580.1" width="1.7" height="5.1" fill="#507688"/>
<rect x="115.1" y="580.1" width="1.7" height="5.1" fill="#598775"/>
<rect x="116.6" y="580.1" width="1.7" height="5.1" fill="#3f449d"/>
<rect x="118.1" y="580.1" width="1.7" height="5.1" fill="#414a9e"/>
<rect x="119.5" y="580.1" width="1.7" height="5.1" fill="#3f449d"/>
<rect x="121.0" y="580.1" width="7.7" height="5.1" fill="#40479e"/>
<rect x="128.5" y="580.1" width="1.7" height="5.1" fill="#3f449d"/>
<rect x="130.0" y="580.1" width="3.2" height="5.1" fill="#414a9e"/>
<rect x="133.0" y="580.1" width="3.2" height="5.1" fill="#40479e"/>
<rect x="136.0" y="580.1" width="1.7" height="5.1" fill="#414a9e"/>
<rect x="137.5" y="580.1" width="1.7" height="5.1" fill="#3f449d"/>
<rect x="139.0" y="580.1" width="4.7" height="5.1" fill="#40479e"/>
<rect x="143.4" y="580.1" width="1.7" height="5.1" fill="#3f449d"/>
<rect x="144.9" y="580.1" width="1.7" height="5.1" fill="#40479e"/>
<rect x="146.4" y="580.1" width="3.2" height="5.1" fill="#3f449d"/>
<rect x="149.4" y="580.1" width="1.7" height="5.1" fill="#69a058"/>
<rect x="150.9" y="580.1" width="1.7" height="5.1" fill="#72a654"/>
<rect x="152.4" y="580.1" width="1.7" height="5.1" fill="#69a058"/>
<rect x="153.9" y="580.1" width="4.7" height="5.1" fill="#7aab4f"/>
<rect x="158.4" y="580.1" width="1.7" height="5.1" fill="#69a058"/>
<rect x="159.9" y="580.1" width="3.2" height="5.1" fill="#97bc46"/>
<rect x="165.8" y="580.1" width="1.7" height="5.1" fill="#97bc46"/>
<rect x="168.8" y="580.1" width="1.7" height="5.1" fill="#83b04a"/>
<rect x="41.9" y="585.0" width="1.7" height="5.1" fill="#97bc46"/>
<rect x="49.4" y="585.0" width="1.7" height="5.1" fill="#97bc46"/>
<rect x="52.4" y="585.0" width="1.7" height="5.1" fill="#83b04a"/>
<rect x="56.8" y="585.0" width="1.7" height="5.1" fill="#83b04a"/>
<rect x="58.3" y="585.0" width="1.7" height="5.1" fill="#97bc46"/>
<rect x="64.3" y="585.0" width="1.7" height="5.1" fill="#83b04a"/>
<rect x="70.3" y="585.0" width="1.7" height="5.1" fill="#83b04a"/>
<rect x="85.2" y="585.0" width="1.7" height="5.1" fill="#83b04a"/>
<rect x="88.2" y="585.0" width="1.7" height="5.1" fill="#83b04a"/>
<rect x="92.7" y="585.0" width="1.7" height="5.1" fill="#97bc46"/>
<rect x="95.7" y="585.0" width="3.2" height="5.1" fill="#83b04a"/>
<rect x="107.6" y="585.0" width="1.7" height="5.1" fill="#83b04a"/>
<rect x="109.1" y="585.0" width="1.7" height="5.1" fill="#69a058"/>
<rect x="116.6" y="585.0" width="1.7" height="5.1" fill="#97bc46"/>
<rect x="121.0" y="585.0" width="3.2" height="5.1" fill="#83b04a"/>
<rect x="136.0" y="585.0" width="1.7" height="5.1" fill="#83b04a"/>
<rect x="141.9" y="585.0" width="1.7" height="5.1" fill="#83b04a"/>
<rect x="143.4" y="585.0" width="1.7" height="5.1" fill="#97bc46"/>
<rect x="146.4" y="585.0" width="1.7" height="5.1" fill="#83b04a"/>
<rect x="147.9" y="585.0" width="4.7" height="5.1" fill="#97bc46"/>
<rect x="153.9" y="585.0" width="1.7" height="5.1" fill="#83b04a"/>
<rect x="162.8" y="585.0" width="1.7" height="5.1" fill="#83b04a"/>
<rect x="165.8" y="585.0" width="1.7" height="5.1" fill="#83b04a"/>
<rect x="171.8" y="585.0" width="1.7" height="5.1" fill="#a3c347"/>
<rect x="44.9" y="589.9" width="1.7" height="5.1" fill="#83b04a"/>
<rect x="53.8" y="589.9" width="1.7" height="5.1" fill="#97bc46"/>
<rect x="56.8" y="589.9" width="1.7" height="5.1" fill="#83b04a"/>
<rect x="61.3" y="589.9" width="1.7" height="5.1" fill="#83b04a"/>
<rect x="62.8" y="589.9" width="1.7" height="5.1" fill="#97bc46"/>
<rect x="70.3" y="589.9" width="1.7" height="5.1" fill="#97bc46"/>
<rect x="73.3" y="589.9" width="1.7" height="5.1" fill="#97bc46"/>
<rect x="82.2" y="589.9" width="1.7" height="5.1" fill="#83b04a"/>
<rect x="86.7" y="589.9" width="1.7" height="5.1" fill="#97bc46"/>
<rect x="88.2" y="589.9" width="1.7" height="5.1" fill="#83b04a"/>
<rect x="91.2" y="589.9" width="1.7" height="5.1" fill="#c6d44c"/>
<rect x="92.7" y="589.9" width="1.7" height="5.1" fill="#97bc46"/>
<rect x="94.2" y="589.9" width="6.2" height="5.1" fill="#aeca48"/>
<rect x="100.1" y="589.9" width="3.2" height="5.1" fill="#b9d048"/>
<rect x="103.1" y="589.9" width="1.7" height="5.1" fill="#c6d44c"/>
<rect x="104.6" y="589.9" width="1.7" height="5.1" fill="#aeca48"/>
<rect x="106.1" y="589.9" width="1.7" height="5.1" fill="#c6d44c"/>
<rect x="107.6" y="589.9" width="1.7" height="5.1" fill="#aeca48"/>
<rect x="109.1" y="589.9" width="1.7" height="5.1" fill="#c6d44c"/>
<rect x="110.6" y="589.9" width="3.2" height="5.1" fill="#aeca48"/>
<rect x="113.6" y="589.9" width="1.7" height="5.1" fill="#b9d048"/>
<rect x="115.1" y="589.9" width="1.7" height="5.1" fill="#a3c347"/>
<rect x="116.6" y="589.9" width="4.7" height="5.1" fill="#b9d048"/>
<rect x="121.0" y="589.9" width="1.7" height="5.1" fill="#a3c347"/>
<rect x="122.5" y="589.9" width="1.7" height="5.1" fill="#aeca48"/>
<rect x="124.0" y="589.9" width="1.7" height="5.1" fill="#b9d048"/>
<rect x="125.5" y="589.9" width="1.7" height="5.1" fill="#97bc46"/>
<rect x="127.0" y="589.9" width="1.7" height="5.1" fill="#b9d048"/>
<rect x="128.5" y="589.9" width="1.7" height="5.1" fill="#c6d44c"/>
<rect x="130.0" y="589.9" width="3.2" height="5.1" fill="#b9d048"/>
<rect x="133.0" y="589.9" width="1.7" height="5.1" fill="#d83e2a"/>
<rect x="134.5" y="589.9" width="1.7" height="5.1" fill="#de5a30"/>
<rect x="136.0" y="589.9" width="1.7" height="5.1" fill="#db4c2d"/>
<rect x="137.5" y="589.9" width="1.7" height="5.1" fill="#d83e2a"/>
<rect x="139.0" y="589.9" width="1.7" height="5.1" fill="#db4c2d"/>
<rect x="140.4" y="589.9" width="1.7" height="5.1" fill="#de5a30"/>
<rect x="141.9" y="589.9" width="1.7" height="5.1" fill="#db4c2d"/>
<rect x="143.4" y="589.9" width="1.7" height="5.1" fill="#f0a03c"/>
<rect x="144.9" y="589.9" width="1.7" height="5.1" fill="#ec923a"/>
<rect x="146.4" y="589.9" width="1.7" height="5.1" fill="#edd052"/>
<rect x="147.9" y="589.9" width="1.7" height="5.1" fill="#eec04b"/>
<rect x="149.4" y="589.9" width="4.7" height="5.1" fill="#f0a03c"/>
<rect x="153.9" y="589.9" width="3.2" height="5.1" fill="#efb044"/>
<rect x="156.9" y="589.9" width="1.7" height="5.1" fill="#ec923a"/>
<rect x="158.4" y="589.9" width="3.2" height="5.1" fill="#eec04b"/>
<rect x="161.4" y="589.9" width="3.2" height="5.1" fill="#edd052"/>
<rect x="164.3" y="589.9" width="3.2" height="5.1" fill="#f0a03c"/>
<rect x="167.3" y="589.9" width="1.7" height="5.1" fill="#eec04b"/>
<rect x="168.8" y="589.9" width="1.7" height="5.1" fill="#f0a03c"/>
<rect x="170.3" y="589.9" width="1.7" height="5.1" fill="#eec04b"/>
<rect x="171.8" y="589.9" width="1.7" height="5.1" fill="#efb044"/>
<rect x="44.9" y="594.8" width="1.7" height="5.1" fill="#97bc46"/>
<rect x="46.4" y="594.8" width="1.7" height="5.1" fill="#72a654"/>
<rect x="47.9" y="594.8" width="1.7" height="5.1" fill="#83b04a"/>
<rect x="50.9" y="594.8" width="1.7" height="5.1" fill="#97bc46"/>
<rect x="53.8" y="594.8" width="1.7" height="5.1" fill="#83b04a"/>
<rect x="55.3" y="594.8" width="1.7" height="5.1" fill="#97bc46"/>
<rect x="61.3" y="594.8" width="1.7" height="5.1" fill="#97bc46"/>
<rect x="65.8" y="594.8" width="1.7" height="5.1" fill="#97bc46"/>
<rect x="68.8" y="594.8" width="1.7" height="5.1" fill="#97bc46"/>
<rect x="76.2" y="594.8" width="1.7" height="5.1" fill="#97bc46"/>
<rect x="77.7" y="594.8" width="1.7" height="5.1" fill="#83b04a"/>
<rect x="79.2" y="594.8" width="1.7" height="5.1" fill="#97bc46"/>
<rect x="82.2" y="594.8" width="1.7" height="5.1" fill="#97bc46"/>
<rect x="86.7" y="594.8" width="1.7" height="5.1" fill="#83b04a"/>
<rect x="89.7" y="594.8" width="1.7" height="5.1" fill="#83b04a"/>
<rect x="91.2" y="594.8" width="3.2" height="5.1" fill="#97bc46"/>
<rect x="97.1" y="594.8" width="3.2" height="5.1" fill="#83b04a"/>
<rect x="107.6" y="594.8" width="1.7" height="5.1" fill="#83b04a"/>
<rect x="109.1" y="594.8" width="1.7" height="5.1" fill="#72a654"/>
<rect x="110.6" y="594.8" width="1.7" height="5.1" fill="#598775"/>
<rect x="112.1" y="594.8" width="1.7" height="5.1" fill="#69a058"/>
<rect x="113.6" y="594.8" width="3.2" height="5.1" fill="#7aab4f"/>
<rect x="116.6" y="594.8" width="1.7" height="5.1" fill="#598775"/>
<rect x="118.1" y="594.8" width="1.7" height="5.1" fill="#72a654"/>
<rect x="119.5" y="594.8" width="3.2" height="5.1" fill="#649862"/>
<rect x="122.5" y="594.8" width="1.7" height="5.1" fill="#72a654"/>
<rect x="124.0" y="594.8" width="1.7" height="5.1" fill="#69a058"/>
<rect x="125.5" y="594.8" width="1.7" height="5.1" fill="#5f8f6c"/>
<rect x="127.0" y="594.8" width="1.7" height="5.1" fill="#72a654"/>
<rect x="128.5" y="594.8" width="1.7" height="5.1" fill="#7aab4f"/>
<rect x="130.0" y="594.8" width="1.7" height="5.1" fill="#72a654"/>
<rect x="131.5" y="594.8" width="3.2" height="5.1" fill="#547f7f"/>
<rect x="134.5" y="594.8" width="1.7" height="5.1" fill="#69a058"/>
<rect x="136.0" y="594.8" width="3.2" height="5.1" fill="#598775"/>
<rect x="139.0" y="594.8" width="1.7" height="5.1" fill="#7aab4f"/>
<rect x="140.4" y="594.8" width="1.7" height="5.1" fill="#547f7f"/>
<rect x="141.9" y="594.8" width="3.2" height="5.1" fill="#5f8f6c"/>
<rect x="144.9" y="594.8" width="3.2" height="5.1" fill="#7aab4f"/>
<rect x="147.9" y="594.8" width="1.7" height="5.1" fill="#72a654"/>
<rect x="149.4" y="594.8" width="1.7" height="5.1" fill="#649862"/>
<rect x="150.9" y="594.8" width="1.7" height="5.1" fill="#598775"/>
<rect x="152.4" y="594.8" width="1.7" height="5.1" fill="#7aab4f"/>
<rect x="153.9" y="594.8" width="1.7" height="5.1" fill="#598775"/>
<rect x="155.4" y="594.8" width="1.7" height="5.1" fill="#69a058"/>
<rect x="156.9" y="594.8" width="1.7" height="5.1" fill="#72a654"/>
<rect x="158.4" y="594.8" width="1.7" height="5.1" fill="#649862"/>
<rect x="159.9" y="594.8" width="3.2" height="5.1" fill="#7aab4f"/>
<rect x="162.8" y="594.8" width="1.7" height="5.1" fill="#5f8f6c"/>
<rect x="164.3" y="594.8" width="1.7" height="5.1" fill="#72a654"/>
<rect x="165.8" y="594.8" width="1.7" height="5.1" fill="#598775"/>
<rect x="167.3" y="594.8" width="1.7" height="5.1" fill="#649862"/>
<rect x="168.8" y="594.8" width="1.7" height="5.1" fill="#69a058"/>
<rect x="170.3" y="594.8" width="3.2" height="5.1" fill="#5f8f6c"/>
<rect x="43.4" y="599.7" width="1.7" height="5.1" fill="#83b04a"/>
<rect x="46.4" y="599.7" width="1.7" height="5.1" fill="#83b04a"/>
<rect x="55.3" y="599.7" width="1.7" height="5.1" fill="#83b04a"/>
<rect x="61.3" y="599.7" width="1.7" height="5.1" fill="#97bc46"/>
<rect x="64.3" y="599.7" width="1.7" height="5.1" fill="#97bc46"/>
<rect x="65.8" y="599.7" width="1.7" height="5.1" fill="#aeca48"/>
<rect x="68.8" y="599.7" width="1.7" height="5.1" fill="#97bc46"/>
<rect x="76.2" y="599.7" width="1.7" height="5.1" fill="#97bc46"/>
<rect x="79.2" y="599.7" width="1.7" height="5.1" fill="#97bc46"/>
<rect x="85.2" y="599.7" width="1.7" height="5.1" fill="#97bc46"/>
<rect x="86.7" y="599.7" width="1.7" height="5.1" fill="#83b04a"/>
<rect x="88.2" y="599.7" width="1.7" height="5.1" fill="#97bc46"/>
<rect x="91.2" y="599.7" width="1.7" height="5.1" fill="#97bc46"/>
<rect x="94.2" y="599.7" width="1.7" height="5.1" fill="#83b04a"/>
<rect x="97.1" y="599.7" width="1.7" height="5.1" fill="#83b04a"/>
<rect x="103.1" y="599.7" width="1.7" height="5.1" fill="#83b04a"/>
<rect x="104.6" y="599.7" width="1.7" height="5.1" fill="#97bc46"/>
<rect x="106.1" y="599.7" width="1.7" height="5.1" fill="#83b04a"/>
<rect x="110.6" y="599.7" width="1.7" height="5.1" fill="#83b04a"/>
<rect x="112.1" y="599.7" width="1.7" height="5.1" fill="#72a654"/>
<rect x="115.1" y="599.7" width="1.7" height="5.1" fill="#69a058"/>
<rect x="121.0" y="599.7" width="1.7" height="5.1" fill="#83b04a"/>
<rect x="122.5" y="599.7" width="1.7" height="5.1" fill="#97bc46"/>
<rect x="125.5" y="599.7" width="1.7" height="5.1" fill="#97bc46"/>
<rect x="128.5" y="599.7" width="1.7" height="5.1" fill="#83b04a"/>
<rect x="131.5" y="599.7" width="1.7" height="5.1" fill="#97bc46"/>
<rect x="133.0" y="599.7" width="1.7" height="5.1" fill="#83b04a"/>
<rect x="143.4" y="599.7" width="3.2" height="5.1" fill="#83b04a"/>
<rect x="149.4" y="599.7" width="1.7" height="5.1" fill="#69a058"/>
<rect x="152.4" y="599.7" width="1.7" height="5.1" fill="#97bc46"/>
<rect x="155.4" y="599.7" width="1.7" height="5.1" fill="#83b04a"/>
<rect x="156.9" y="599.7" width="1.7" height="5.1" fill="#97bc46"/>
<rect x="161.4" y="599.7" width="1.7" height="5.1" fill="#83b04a"/>
<rect x="164.3" y="599.7" width="1.7" height="5.1" fill="#97bc46"/>
<rect x="167.3" y="599.7" width="1.7" height="5.1" fill="#83b04a"/>
<rect x="41.9" y="604.6" width="1.7" height="5.1" fill="#d3d851"/>
<rect x="43.4" y="604.6" width="3.2" height="5.1" fill="#c6d44c"/>
<rect x="46.4" y="604.6" width="3.2" height="5.1" fill="#dfdc56"/>
<rect x="49.4" y="604.6" width="1.7" height="5.1" fill="#ece05a"/>
<rect x="50.9" y="604.6" width="1.7" height="5.1" fill="#c6d44c"/>
<rect x="52.4" y="604.6" width="3.2" height="5.1" fill="#ece05a"/>
<rect x="55.3" y="604.6" width="1.7" height="5.1" fill="#d3d851"/>
<rect x="61.3" y="604.6" width="1.7" height="5.1" fill="#97bc46"/>
<rect x="62.8" y="604.6" width="1.7" height="5.1" fill="#83b04a"/>
<rect x="65.8" y="604.6" width="1.7" height="5.1" fill="#83b04a"/>
<rect x="68.8" y="604.6" width="1.7" height="5.1" fill="#97bc46"/>
<rect x="71.8" y="604.6" width="6.2" height="5.1" fill="#83b04a"/>
<rect x="82.2" y="604.6" width="1.7" height="5.1" fill="#83b04a"/>
<rect x="89.7" y="604.6" width="1.7" height="5.1" fill="#83b04a"/>
<rect x="98.6" y="604.6" width="3.2" height="5.1" fill="#97bc46"/>
<rect x="103.1" y="604.6" width="1.7" height="5.1" fill="#83b04a"/>
<rect x="109.1" y="604.6" width="1.7" height="5.1" fill="#97bc46"/>
<rect x="115.1" y="604.6" width="1.7" height="5.1" fill="#83b04a"/>
<rect x="116.6" y="604.6" width="1.7" height="5.1" fill="#97bc46"/>
<rect x="118.1" y="604.6" width="3.2" height="5.1" fill="#69a058"/>
<rect x="121.0" y="604.6" width="1.7" height="5.1" fill="#649862"/>
<rect x="122.5" y="604.6" width="1.7" height="5.1" fill="#5f8f6c"/>
<rect x="124.0" y="604.6" width="1.7" height="5.1" fill="#69a058"/>
<rect x="125.5" y="604.6" width="3.2" height="5.1" fill="#507688"/>
<rect x="131.5" y="604.6" width="1.7" height="5.1" fill="#97bc46"/>
<rect x="134.5" y="604.6" width="1.7" height="5.1" fill="#83b04a"/>
<rect x="137.5" y="604.6" width="1.7" height="5.1" fill="#97bc46"/>
<rect x="141.9" y="604.6" width="1.7" height="5.1" fill="#97bc46"/>
<rect x="143.4" y="604.6" width="1.7" height="5.1" fill="#507688"/>
<rect x="144.9" y="604.6" width="1.7" height="5.1" fill="#547f7f"/>
<rect x="147.9" y="604.6" width="1.7" height="5.1" fill="#83b04a"/>
<rect x="152.4" y="604.6" width="1.7" height="5.1" fill="#7aab4f"/>
<rect x="155.4" y="604.6" width="1.7" height="5.1" fill="#83b04a"/>
<rect x="158.4" y="604.6" width="1.7" height="5.1" fill="#97bc46"/>
<rect x="161.4" y="604.6" width="1.7" height="5.1" fill="#598775"/>
<rect x="162.8" y="604.6" width="1.7" height="5.1" fill="#507688"/>
<rect x="167.3" y="604.6" width="1.7" height="5.1" fill="#83b04a"/>
<rect x="41.9" y="609.5" width="1.7" height="5.1" fill="#83b04a"/>
<rect x="43.4" y="609.5" width="1.7" height="5.1" fill="#7aab4f"/>
<rect x="44.9" y="609.5" width="1.7" height="5.1" fill="#72a654"/>
<rect x="46.4" y="609.5" width="1.7" height="5.1" fill="#97bc46"/>
<rect x="49.4" y="609.5" width="1.7" height="5.1" fill="#83b04a"/>
<rect x="52.4" y="609.5" width="1.7" height="5.1" fill="#83b04a"/>
<rect x="53.8" y="609.5" width="1.7" height="5.1" fill="#97bc46"/>
<rect x="55.3" y="609.5" width="1.7" height="5.1" fill="#83b04a"/>
<rect x="61.3" y="609.5" width="1.7" height="5.1" fill="#83b04a"/>
<rect x="62.8" y="609.5" width="1.7" height="5.1" fill="#97bc46"/>
<rect x="64.3" y="609.5" width="1.7" height="5.1" fill="#83b04a"/>
<rect x="70.3" y="609.5" width="1.7" height="5.1" fill="#83b04a"/>
<rect x="71.8" y="609.5" width="1.7" height="5.1" fill="#97bc46"/>
<rect x="77.7" y="609.5" width="1.7" height="5.1" fill="#83b04a"/>
<rect x="94.2" y="609.5" width="1.7" height="5.1" fill="#83b04a"/>
<rect x="97.1" y="609.5" width="1.7" height="5.1" fill="#97bc46"/>
<rect x="106.1" y="609.5" width="1.7" height="5.1" fill="#83b04a"/>
<rect x="109.1" y="609.5" width="1.7" height="5.1" fill="#97bc46"/>
<rect x="110.6" y="609.5" width="3.2" height="5.1" fill="#83b04a"/>
<rect x="116.6" y="609.5" width="1.7" height="5.1" fill="#83b04a"/>
<rect x="121.0" y="609.5" width="1.7" height="5.1" fill="#97bc46"/>
<rect x="127.0" y="609.5" width="1.7" height="5.1" fill="#97bc46"/>
<rect x="130.0" y="609.5" width="1.7" height="5.1" fill="#97bc46"/>
<rect x="140.4" y="609.5" width="1.7" height="5.1" fill="#97bc46"/>
<rect x="143.4" y="609.5" width="1.7" height="5.1" fill="#83b04a"/>
<rect x="146.4" y="609.5" width="1.7" height="5.1" fill="#97bc46"/>
<rect x="152.4" y="609.5" width="3.2" height="5.1" fill="#97bc46"/>
<rect x="156.9" y="609.5" width="1.7" height="5.1" fill="#83b04a"/>
<rect x="159.9" y="609.5" width="3.2" height="5.1" fill="#97bc46"/>
<rect x="164.3" y="609.5" width="3.2" height="5.1" fill="#83b04a"/>
<rect x="170.3" y="609.5" width="1.7" height="5.1" fill="#83b04a"/>
<rect x="44.9" y="614.4" width="1.7" height="5.1" fill="#83b04a"/>
<rect x="50.9" y="614.4" width="4.7" height="5.1" fill="#97bc46"/>
<rect x="56.8" y="614.4" width="1.7" height="5.1" fill="#a3c347"/>
<rect x="59.8" y="614.4" width="3.2" height="5.1" fill="#97bc46"/>
<rect x="62.8" y="614.4" width="1.7" height="5.1" fill="#83b04a"/>
<rect x="65.8" y="614.4" width="1.7" height="5.1" fill="#97bc46"/>
<rect x="67.3" y="614.4" width="1.7" height="5.1" fill="#83b04a"/>
<rect x="71.8" y="614.4" width="1.7" height="5.1" fill="#83b04a"/>
<rect x="73.3" y="614.4" width="3.2" height="5.1" fill="#97bc46"/>
<rect x="77.7" y="614.4" width="3.2" height="5.1" fill="#97bc46"/>
<rect x="82.2" y="614.4" width="1.7" height="5.1" fill="#83b04a"/>
<rect x="89.7" y="614.4" width="1.7" height="5.1" fill="#97bc46"/>
<rect x="97.1" y="614.4" width="1.7" height="5.1" fill="#83b04a"/>
<rect x="98.6" y="614.4" width="1.7" height="5.1" fill="#97bc46"/>
<rect x="110.6" y="614.4" width="1.7" height="5.1" fill="#69a058"/>
<rect x="112.1" y="614.4" width="3.2" height="5.1" fill="#83b04a"/>
<rect x="116.6" y="614.4" width="1.7" height="5.1" fill="#97bc46"/>
<rect x="130.0" y="614.4" width="1.7" height="5.1" fill="#97bc46"/>
<rect x="131.5" y="614.4" width="1.7" height="5.1" fill="#83b04a"/>
<rect x="136.0" y="614.4" width="1.7" height="5.1" fill="#97bc46"/>
<rect x="144.9" y="614.4" width="3.2" height="5.1" fill="#97bc46"/>
<rect x="147.9" y="614.4" width="1.7" height="5.1" fill="#83b04a"/>
<rect x="155.4" y="614.4" width="1.7" height="5.1" fill="#97bc46"/>
<rect x="159.9" y="614.4" width="3.2" height="5.1" fill="#83b04a"/>
<rect x="164.3" y="614.4" width="1.7" height="5.1" fill="#97bc46"/>
<rect x="167.3" y="614.4" width="1.7" height="5.1" fill="#97bc46"/>
<rect x="170.3" y="614.4" width="3.2" height="5.1" fill="#97bc46"/>
<rect x="46.4" y="619.3" width="1.7" height="5.1" fill="#97bc46"/>
<rect x="50.9" y="619.3" width="4.7" height="5.1" fill="#97bc46"/>
<rect x="55.3" y="619.3" width="3.2" height="5.1" fill="#83b04a"/>
<rect x="58.3" y="619.3" width="1.7" height="5.1" fill="#97bc46"/>
<rect x="64.3" y="619.3" width="1.7" height="5.1" fill="#83b04a"/>
<rect x="65.8" y="619.3" width="1.7" height="5.1" fill="#97bc46"/>
<rect x="68.8" y="619.3" width="3.2" height="5.1" fill="#97bc46"/>
<rect x="76.2" y="619.3" width="1.7" height="5.1" fill="#83b04a"/>
<rect x="79.2" y="619.3" width="1.7" height="5.1" fill="#83b04a"/>
<rect x="83.7" y="619.3" width="1.7" height="5.1" fill="#83b04a"/>
<rect x="89.7" y="619.3" width="1.7" height="5.1" fill="#97bc46"/>
<rect x="91.2" y="619.3" width="3.2" height="5.1" fill="#b9d048"/>
<rect x="94.2" y="619.3" width="1.7" height="5.1" fill="#c6d44c"/>
<rect x="95.7" y="619.3" width="1.7" height="5.1" fill="#a3c347"/>
<rect x="97.1" y="619.3" width="1.7" height="5.1" fill="#b9d048"/>
<rect x="98.6" y="619.3" width="3.2" height="5.1" fill="#c6d44c"/>
<rect x="101.6" y="619.3" width="3.2" height="5.1" fill="#a3c347"/>
<rect x="104.6" y="619.3" width="1.7" height="5.1" fill="#c6d44c"/>
<rect x="106.1" y="619.3" width="3.2" height="5.1" fill="#aeca48"/>
<rect x="109.1" y="619.3" width="1.7" height="5.1" fill="#b9d048"/>
<rect x="110.6" y="619.3" width="1.7" height="5.1" fill="#aeca48"/>
<rect x="112.1" y="619.3" width="1.7" height="5.1" fill="#a3c347"/>
<rect x="113.6" y="619.3" width="3.2" height="5.1" fill="#b9d048"/>
<rect x="116.6" y="619.3" width="1.7" height="5.1" fill="#c6d44c"/>
<rect x="118.1" y="619.3" width="1.7" height="5.1" fill="#a3c347"/>
<rect x="119.5" y="619.3" width="1.7" height="5.1" fill="#b9d048"/>
<rect x="121.0" y="619.3" width="1.7" height="5.1" fill="#a3c347"/>
<rect x="122.5" y="619.3" width="3.2" height="5.1" fill="#b9d048"/>
<rect x="125.5" y="619.3" width="4.7" height="5.1" fill="#aeca48"/>
<rect x="130.0" y="619.3" width="3.2" height="5.1" fill="#c6d44c"/>
<rect x="133.0" y="619.3" width="1.7" height="5.1" fill="#aeca48"/>
<rect x="134.5" y="619.3" width="1.7" height="5.1" fill="#b9d048"/>
<rect x="136.0" y="619.3" width="3.2" height="5.1" fill="#aeca48"/>
<rect x="139.0" y="619.3" width="3.2" height="5.1" fill="#b9d048"/>
<rect x="141.9" y="619.3" width="1.7" height="5.1" fill="#aeca48"/>
<rect x="143.4" y="619.3" width="1.7" height="5.1" fill="#b9d048"/>
<rect x="144.9" y="619.3" width="1.7" height="5.1" fill="#c6d44c"/>
<rect x="146.4" y="619.3" width="1.7" height="5.1" fill="#aeca48"/>
<rect x="147.9" y="619.3" width="1.7" height="5.1" fill="#b9d048"/>
<rect x="149.4" y="619.3" width="1.7" height="5.1" fill="#a3c347"/>
<rect x="150.9" y="619.3" width="3.2" height="5.1" fill="#c6d44c"/>
<rect x="153.9" y="619.3" width="1.7" height="5.1" fill="#dfdc56"/>
<rect x="155.4" y="619.3" width="1.7" height="5.1" fill="#c6d44c"/>
<rect x="156.9" y="619.3" width="1.7" height="5.1" fill="#dfdc56"/>
<rect x="158.4" y="619.3" width="1.7" height="5.1" fill="#c6d44c"/>
<rect x="159.9" y="619.3" width="1.7" height="5.1" fill="#d3d851"/>
<rect x="161.4" y="619.3" width="1.7" height="5.1" fill="#c6d44c"/>
<rect x="162.8" y="619.3" width="1.7" height="5.1" fill="#d3d851"/>
<rect x="164.3" y="619.3" width="1.7" height="5.1" fill="#dfdc56"/>
<rect x="165.8" y="619.3" width="1.7" height="5.1" fill="#c6d44c"/>
<rect x="167.3" y="619.3" width="1.7" height="5.1" fill="#dfdc56"/>
<rect x="168.8" y="619.3" width="1.7" height="5.1" fill="#d3d851"/>
<rect x="170.3" y="619.3" width="1.7" height="5.1" fill="#ece05a"/>
<rect x="171.8" y="619.3" width="1.7" height="5.1" fill="#d3d851"/>
<rect x="41.9" y="624.2" width="1.7" height="5.1" fill="#83b04a"/>
<rect x="46.4" y="624.2" width="1.7" height="5.1" fill="#83b04a"/>
<rect x="49.4" y="624.2" width="1.7" height="5.1" fill="#83b04a"/>
<rect x="50.9" y="624.2" width="1.7" height="5.1" fill="#97bc46"/>
<rect x="52.4" y="624.2" width="1.7" height="5.1" fill="#83b04a"/>
<rect x="56.8" y="624.2" width="3.2" height="5.1" fill="#97bc46"/>
<rect x="62.8" y="624.2" width="1.7" height="5.1" fill="#97bc46"/>
<rect x="68.8" y="624.2" width="1.7" height="5.1" fill="#83b04a"/>
<rect x="71.8" y="624.2" width="1.7" height="5.1" fill="#83b04a"/>
<rect x="74.8" y="624.2" width="1.7" height="5.1" fill="#83b04a"/>
<rect x="76.2" y="624.2" width="1.7" height="5.1" fill="#97bc46"/>
<rect x="77.7" y="624.2" width="1.7" height="5.1" fill="#83b04a"/>
<rect x="79.2" y="624.2" width="1.7" height="5.1" fill="#97bc46"/>
<rect x="80.7" y="624.2" width="3.2" height="5.1" fill="#83b04a"/>
<rect x="88.2" y="624.2" width="1.7" height="5.1" fill="#97bc46"/>
<rect x="89.7" y="624.2" width="1.7" height="5.1" fill="#a3c347"/>
<rect x="92.7" y="624.2" width="1.7" height="5.1" fill="#97bc46"/>
<rect x="95.7" y="624.2" width="1.7" height="5.1" fill="#83b04a"/>
<rect x="97.1" y="624.2" width="1.7" height="5.1" fill="#547f7f"/>
<rect x="98.6" y="624.2" width="1.7" height="5.1" fill="#5f8f6c"/>
<rect x="100.1" y="624.2" width="1.7" height="5.1" fill="#547f7f"/>
<rect x="101.6" y="624.2" width="3.2" height="5.1" fill="#4d6f8d"/>
<rect x="104.6" y="624.2" width="1.7" height="5.1" fill="#69a058"/>
<rect x="106.1" y="624.2" width="1.7" height="5.1" fill="#4d6f8d"/>
<rect x="107.6" y="624.2" width="3.2" height="5.1" fill="#649862"/>
<rect x="110.6" y="624.2" width="3.2" height="5.1" fill="#5f8f6c"/>
<rect x="113.6" y="624.2" width="3.2" height="5.1" fill="#649862"/>
<rect x="116.6" y="624.2" width="3.2" height="5.1" fill="#5f8f6c"/>
<rect x="119.5" y="624.2" width="1.7" height="5.1" fill="#69a058"/>
<rect x="121.0" y="624.2" width="3.2" height="5.1" fill="#3f449d"/>
<rect x="124.0" y="624.2" width="3.2" height="5.1" fill="#414a9e"/>
<rect x="127.0" y="624.2" width="1.7" height="5.1" fill="#3f449d"/>
<rect x="128.5" y="624.2" width="1.7" height="5.1" fill="#434d9f"/>
<rect x="130.0" y="624.2" width="1.7" height="5.1" fill="#3d419c"/>
<rect x="131.5" y="624.2" width="1.7" height="5.1" fill="#3f449d"/>
<rect x="133.0" y="624.2" width="1.7" height="5.1" fill="#3d419c"/>
<rect x="134.5" y="624.2" width="1.7" height="5.1" fill="#3f449d"/>
<rect x="136.0" y="624.2" width="3.2" height="5.1" fill="#434d9f"/>
<rect x="139.0" y="624.2" width="1.7" height="5.1" fill="#414a9e"/>
<rect x="140.4" y="624.2" width="1.7" height="5.1" fill="#3f449d"/>
<rect x="141.9" y="624.2" width="1.7" height="5.1" fill="#434d9f"/>
<rect x="143.4" y="624.2" width="1.7" height="5.1" fill="#3f449d"/>
<rect x="144.9" y="624.2" width="1.7" height="5.1" fill="#40479e"/>
<rect x="146.4" y="624.2" width="1.7" height="5.1" fill="#414a9e"/>
<rect x="147.9" y="624.2" width="1.7" height="5.1" fill="#3f449d"/>
<rect x="149.4" y="624.2" width="3.2" height="5.1" fill="#414a9e"/>
<rect x="152.4" y="624.2" width="1.7" height="5.1" fill="#3f449d"/>
<rect x="153.9" y="624.2" width="1.7" height="5.1" fill="#414a9e"/>
<rect x="155.4" y="624.2" width="1.7" height="5.1" fill="#3d419c"/>
<rect x="156.9" y="624.2" width="1.7" height="5.1" fill="#414a9e"/>
<rect x="158.4" y="624.2" width="1.7" height="5.1" fill="#40479e"/>
<rect x="159.9" y="624.2" width="1.7" height="5.1" fill="#547f7f"/>
<rect x="161.4" y="624.2" width="1.7" height="5.1" fill="#69a058"/>
<rect x="162.8" y="624.2" width="1.7" height="5.1" fill="#4d6f8d"/>
<rect x="164.3" y="624.2" width="1.7" height="5.1" fill="#598775"/>
<rect x="165.8" y="624.2" width="1.7" height="5.1" fill="#69a058"/>
<rect x="167.3" y="624.2" width="1.7" height="5.1" fill="#547f7f"/>
<rect x="168.8" y="624.2" width="1.7" height="5.1" fill="#507688"/>
<rect x="170.3" y="624.2" width="1.7" height="5.1" fill="#598775"/>
<rect x="171.8" y="624.2" width="1.7" height="5.1" fill="#5f8f6c"/>
<rect x="49.4" y="629.2" width="1.7" height="5.1" fill="#83b04a"/>
<rect x="52.4" y="629.2" width="1.7" height="5.1" fill="#a3c347"/>
<rect x="55.3" y="629.2" width="1.7" height="5.1" fill="#97bc46"/>
<rect x="65.8" y="629.2" width="1.7" height="5.1" fill="#97bc46"/>
<rect x="68.8" y="629.2" width="1.7" height="5.1" fill="#97bc46"/>
<rect x="70.3" y="629.2" width="6.2" height="5.1" fill="#83b04a"/>
<rect x="79.2" y="629.2" width="1.7" height="5.1" fill="#97bc46"/>
<rect x="80.7" y="629.2" width="1.7" height="5.1" fill="#b9d048"/>
<rect x="88.2" y="629.2" width="3.2" height="5.1" fill="#97bc46"/>
<rect x="92.7" y="629.2" width="1.7" height="5.1" fill="#97bc46"/>
<rect x="95.7" y="629.2" width="3.2" height="5.1" fill="#83b04a"/>
<rect x="100.1" y="629.2" width="1.7" height="5.1" fill="#83b04a"/>
<rect x="103.1" y="629.2" width="3.2" height="5.1" fill="#83b04a"/>
<rect x="106.1" y="629.2" width="1.7" height="5.1" fill="#97bc46"/>
<rect x="109.1" y="629.2" width="1.7" height="5.1" fill="#97bc46"/>
<rect x="110.6" y="629.2" width="1.7" height="5.1" fill="#83b04a"/>
<rect x="116.6" y="629.2" width="1.7" height="5.1" fill="#97bc46"/>
<rect x="121.0" y="629.2" width="1.7" height="5.1" fill="#97bc46"/>
<rect x="122.5" y="629.2" width="1.7" height="5.1" fill="#83b04a"/>
<rect x="124.0" y="629.2" width="1.7" height="5.1" fill="#69a058"/>
<rect x="128.5" y="629.2" width="1.7" height="5.1" fill="#97bc46"/>
<rect x="131.5" y="629.2" width="1.7" height="5.1" fill="#97bc46"/>
<rect x="133.0" y="629.2" width="1.7" height="5.1" fill="#83b04a"/>
<rect x="134.5" y="629.2" width="3.2" height="5.1" fill="#97bc46"/>
<rect x="139.0" y="629.2" width="1.7" height="5.1" fill="#83b04a"/>
<rect x="143.4" y="629.2" width="1.7" height="5.1" fill="#97bc46"/>
<rect x="146.4" y="629.2" width="3.2" height="5.1" fill="#97bc46"/>
<rect x="165.8" y="629.2" width="1.7" height="5.1" fill="#97bc46"/>
<rect x="168.8" y="629.2" width="1.7" height="5.1" fill="#83b04a"/>
<rect x="43.4" y="634.1" width="1.7" height="5.1" fill="#83b04a"/>
<rect x="44.9" y="634.1" width="1.7" height="5.1" fill="#97bc46"/>
<rect x="50.9" y="634.1" width="1.7" height="5.1" fill="#83b04a"/>
<rect x="61.3" y="634.1" width="1.7" height="5.1" fill="#97bc46"/>
<rect x="64.3" y="634.1" width="3.2" height="5.1" fill="#97bc46"/>
<rect x="68.8" y="634.1" width="1.7" height="5.1" fill="#97bc46"/>
<rect x="71.8" y="634.1" width="1.7" height="5.1" fill="#97bc46"/>
<rect x="76.2" y="634.1" width="1.7" height="5.1" fill="#97bc46"/>
<rect x="79.2" y="634.1" width="1.7" height="5.1" fill="#83b04a"/>
<rect x="83.7" y="634.1" width="1.7" height="5.1" fill="#97bc46"/>
<rect x="88.2" y="634.1" width="3.2" height="5.1" fill="#83b04a"/>
<rect x="92.7" y="634.1" width="1.7" height="5.1" fill="#97bc46"/>
<rect x="97.1" y="634.1" width="1.7" height="5.1" fill="#97bc46"/>
<rect x="107.6" y="634.1" width="1.7" height="5.1" fill="#83b04a"/>
<rect x="109.1" y="634.1" width="1.7" height="5.1" fill="#97bc46"/>
<rect x="113.6" y="634.1" width="1.7" height="5.1" fill="#97bc46"/>
<rect x="116.6" y="634.1" width="3.2" height="5.1" fill="#83b04a"/>
<rect x="119.5" y="634.1" width="1.7" height="5.1" fill="#97bc46"/>
<rect x="124.0" y="634.1" width="1.7" height="5.1" fill="#7aab4f"/>
<rect x="127.0" y="634.1" width="1.7" height="5.1" fill="#aeca48"/>
<rect x="128.5" y="634.1" width="3.2" height="5.1" fill="#83b04a"/>
<rect x="133.0" y="634.1" width="1.7" height="5.1" fill="#97bc46"/>
<rect x="134.5" y="634.1" width="1.7" height="5.1" fill="#83b04a"/>
<rect x="137.5" y="634.1" width="3.2" height="5.1" fill="#97bc46"/>
<rect x="141.9" y="634.1" width="1.7" height="5.1" fill="#83b04a"/>
<rect x="146.4" y="634.1" width="1.7" height="5.1" fill="#97bc46"/>
<rect x="149.4" y="634.1" width="1.7" height="5.1" fill="#83b04a"/>
<rect x="153.9" y="634.1" width="1.7" height="5.1" fill="#83b04a"/>
<rect x="44.9" y="639.0" width="1.7" height="5.1" fill="#97bc46"/>
<rect x="47.9" y="639.0" width="1.7" height="5.1" fill="#97bc46"/>
<rect x="61.3" y="639.0" width="1.7" height="5.1" fill="#83b04a"/>
<rect x="65.8" y="639.0" width="1.7" height="5.1" fill="#83b04a"/>
<rect x="70.3" y="639.0" width="1.7" height="5.1" fill="#83b04a"/>
<rect x="74.8" y="639.0" width="1.7" height="5.1" fill="#97bc46"/>
<rect x="79.2" y="639.0" width="1.7" height="5.1" fill="#83b04a"/>
<rect x="86.7" y="639.0" width="1.7" height="5.1" fill="#97bc46"/>
<rect x="92.7" y="639.0" width="1.7" height="5.1" fill="#97bc46"/>
<rect x="94.2" y="639.0" width="1.7" height="5.1" fill="#83b04a"/>
<rect x="95.7" y="639.0" width="1.7" height="5.1" fill="#97bc46"/>
<rect x="103.1" y="639.0" width="3.2" height="5.1" fill="#83b04a"/>
<rect x="109.1" y="639.0" width="1.7" height="5.1" fill="#83b04a"/>
<rect x="118.1" y="639.0" width="1.7" height="5.1" fill="#83b04a"/>
<rect x="127.0" y="639.0" width="1.7" height="5.1" fill="#b9d048"/>
<rect x="130.0" y="639.0" width="1.7" height="5.1" fill="#97bc46"/>
<rect x="134.5" y="639.0" width="1.7" height="5.1" fill="#83b04a"/>
<rect x="137.5" y="639.0" width="3.2" height="5.1" fill="#97bc46"/>
<rect x="140.4" y="639.0" width="1.7" height="5.1" fill="#83b04a"/>
<rect x="144.9" y="639.0" width="3.2" height="5.1" fill="#83b04a"/>
<rect x="150.9" y="639.0" width="1.7" height="5.1" fill="#97bc46"/>
<rect x="155.4" y="639.0" width="1.7" height="5.1" fill="#83b04a"/>
<rect x="161.4" y="639.0" width="1.7" height="5.1" fill="#83b04a"/>
<rect x="164.3" y="639.0" width="1.7" height="5.1" fill="#83b04a"/>
<rect x="43.4" y="643.9" width="1.7" height="5.1" fill="#83b04a"/>
<rect x="47.9" y="643.9" width="1.7" height="5.1" fill="#97bc46"/>
<rect x="55.3" y="643.9" width="1.7" height="5.1" fill="#97bc46"/>
<rect x="62.8" y="643.9" width="1.7" height="5.1" fill="#97bc46"/>
<rect x="67.3" y="643.9" width="1.7" height="5.1" fill="#83b04a"/>
<rect x="74.8" y="643.9" width="1.7" height="5.1" fill="#97bc46"/>
<rect x="77.7" y="643.9" width="1.7" height="5.1" fill="#83b04a"/>
<rect x="85.2" y="643.9" width="1.7" height="5.1" fill="#83b04a"/>
<rect x="88.2" y="643.9" width="1.7" height="5.1" fill="#97bc46"/>
<rect x="92.7" y="643.9" width="1.7" height="5.1" fill="#97bc46"/>
<rect x="97.1" y="643.9" width="1.7" height="5.1" fill="#97bc46"/>
<rect x="100.1" y="643.9" width="1.7" height="5.1" fill="#83b04a"/>
<rect x="104.6" y="643.9" width="1.7" height="5.1" fill="#97bc46"/>
<rect x="109.1" y="643.9" width="1.7" height="5.1" fill="#83b04a"/>
<rect x="121.0" y="643.9" width="1.7" height="5.1" fill="#83b04a"/>
<rect x="128.5" y="643.9" width="1.7" height="5.1" fill="#83b04a"/>
<rect x="131.5" y="643.9" width="1.7" height="5.1" fill="#97bc46"/>
<rect x="133.0" y="643.9" width="1.7" height="5.1" fill="#83b04a"/>
<rect x="134.5" y="643.9" width="1.7" height="5.1" fill="#97bc46"/>
<rect x="147.9" y="643.9" width="1.7" height="5.1" fill="#69a058"/>
<rect x="152.4" y="643.9" width="1.7" height="5.1" fill="#83b04a"/>
<rect x="171.8" y="643.9" width="1.7" height="5.1" fill="#aeca48"/>
<rect x="41.9" y="546.3" width="131.4" height="4.3" fill="#111"/>
<rect x="79.8" y="546.3" width="1.6" height="4.3" fill="#e8d84a"/>
<rect x="119.2" y="546.3" width="1.6" height="4.3" fill="#d43b2a"/>
<rect x="187.0" y="606.0" width="4.8" height="3.9" fill="#d43028"/>
<rect x="187.0" y="609.6" width="4.8" height="3.9" fill="#e16331"/>
<rect x="187.0" y="613.1" width="4.8" height="3.9" fill="#ed963a"/>
<rect x="187.0" y="616.7" width="4.8" height="3.9" fill="#edcf52"/>
<rect x="187.0" y="620.3" width="4.8" height="3.9" fill="#ccd64f"/>
<rect x="187.0" y="623.8" width="4.8" height="3.9" fill="#a0c247"/>
<rect x="187.0" y="627.4" width="4.8" height="3.9" fill="#7cac4e"/>
<rect x="187.0" y="631.0" width="4.8" height="3.9" fill="#619466"/>
<rect x="187.0" y="634.5" width="4.8" height="3.9" fill="#4f7688"/>
<rect x="187.0" y="638.1" width="4.8" height="3.9" fill="#475a9a"/>
<rect x="187.0" y="641.7" width="4.8" height="3.9" fill="#41499e"/>
<rect x="187.0" y="645.2" width="4.8" height="3.9" fill="#3c3e9b"/>
<line x1="192.5" y1="607.7833333333333" x2="194.5" y2="607.7833333333333" stroke="#bbb" stroke-width="0.6" />
<line x1="192.5" y1="611.35" x2="194.5" y2="611.35" stroke="#bbb" stroke-width="0.6" />
<line x1="192.5" y1="614.9166666666666" x2="194.5" y2="614.9166666666666" stroke="#bbb" stroke-width="0.6" />
<line x1="192.5" y1="618.4833333333333" x2="194.5" y2="618.4833333333333" stroke="#bbb" stroke-width="0.6" />
<line x1="192.5" y1="622.05" x2="194.5" y2="622.05" stroke="#bbb" stroke-width="0.6" />
<line x1="192.5" y1="625.6166666666667" x2="194.5" y2="625.6166666666667" stroke="#bbb" stroke-width="0.6" />
<line x1="192.5" y1="629.1833333333333" x2="194.5" y2="629.1833333333333" stroke="#bbb" stroke-width="0.6" />
<line x1="192.5" y1="632.75" x2="194.5" y2="632.75" stroke="#bbb" stroke-width="0.6" />
<line x1="192.5" y1="636.3166666666666" x2="194.5" y2="636.3166666666666" stroke="#bbb" stroke-width="0.6" />
<line x1="192.5" y1="639.8833333333333" x2="194.5" y2="639.8833333333333" stroke="#bbb" stroke-width="0.6" />
<line x1="192.5" y1="643.4499999999999" x2="194.5" y2="643.4499999999999" stroke="#bbb" stroke-width="0.6" />
<line x1="192.5" y1="647.0166666666667" x2="194.5" y2="647.0166666666667" stroke="#bbb" stroke-width="0.6" />
<text transform="translate(271.2 530.9) scale(1 1.06)" font-size="15.1" >pH 4</text>
<text transform="translate(331.3 530.9) scale(1 1.06)" font-size="15.1" >wash</text>
<line x1="292.5" y1="533.8" x2="292.5" y2="538.3" stroke="#111" stroke-width="1.3" />
<path d="M290.3,537.3L294.7,537.3L292.5,541.5Z" fill="#111"/>
<line x1="337" y1="533.8" x2="337" y2="538.3" stroke="#111" stroke-width="1.3" />
<path d="M334.8,537.3L339.2,537.3L337,541.5Z" fill="#111"/>
<rect x="248.6" y="548.8" width="149.0" height="95.6" fill="#8cb646"/>
<rect x="248.6" y="548.8" width="1.7" height="5.8" fill="#97bc46"/>
<rect x="250.1" y="548.8" width="1.7" height="5.8" fill="#83b04a"/>
<rect x="256.1" y="548.8" width="1.7" height="5.8" fill="#97bc46"/>
<rect x="259.1" y="548.8" width="1.7" height="5.8" fill="#83b04a"/>
<rect x="265.2" y="548.8" width="4.7" height="5.8" fill="#97bc46"/>
<rect x="271.2" y="548.8" width="1.7" height="5.8" fill="#83b04a"/>
<rect x="274.2" y="548.8" width="1.7" height="5.8" fill="#97bc46"/>
<rect x="281.7" y="548.8" width="1.7" height="5.8" fill="#97bc46"/>
<rect x="289.2" y="548.8" width="1.7" height="5.8" fill="#83b04a"/>
<rect x="290.7" y="548.8" width="1.7" height="5.8" fill="#97bc46"/>
<rect x="292.2" y="548.8" width="1.7" height="5.8" fill="#83b04a"/>
<rect x="299.8" y="548.8" width="1.7" height="5.8" fill="#83b04a"/>
<rect x="301.3" y="548.8" width="1.7" height="5.8" fill="#a3c347"/>
<rect x="302.8" y="548.8" width="3.2" height="5.8" fill="#83b04a"/>
<rect x="307.3" y="548.8" width="1.7" height="5.8" fill="#83b04a"/>
<rect x="317.8" y="548.8" width="1.7" height="5.8" fill="#97bc46"/>
<rect x="320.8" y="548.8" width="1.7" height="5.8" fill="#97bc46"/>
<rect x="323.9" y="548.8" width="3.2" height="5.8" fill="#83b04a"/>
<rect x="328.4" y="548.8" width="1.7" height="5.8" fill="#97bc46"/>
<rect x="334.4" y="548.8" width="1.7" height="5.8" fill="#83b04a"/>
<rect x="337.4" y="548.8" width="1.7" height="5.8" fill="#83b04a"/>
<rect x="341.9" y="548.8" width="1.7" height="5.8" fill="#97bc46"/>
<rect x="346.4" y="548.8" width="1.7" height="5.8" fill="#83b04a"/>
<rect x="350.9" y="548.8" width="1.7" height="5.8" fill="#83b04a"/>
<rect x="354.0" y="548.8" width="1.7" height="5.8" fill="#83b04a"/>
<rect x="357.0" y="548.8" width="1.7" height="5.8" fill="#83b04a"/>
<rect x="358.5" y="548.8" width="1.7" height="5.8" fill="#97bc46"/>
<rect x="363.0" y="548.8" width="1.7" height="5.8" fill="#83b04a"/>
<rect x="364.5" y="548.8" width="3.2" height="5.8" fill="#97bc46"/>
<rect x="372.0" y="548.8" width="3.2" height="5.8" fill="#97bc46"/>
<rect x="378.0" y="548.8" width="3.2" height="5.8" fill="#97bc46"/>
<rect x="381.0" y="548.8" width="1.7" height="5.8" fill="#83b04a"/>
<rect x="382.5" y="548.8" width="1.7" height="5.8" fill="#97bc46"/>
<rect x="387.1" y="548.8" width="1.7" height="5.8" fill="#83b04a"/>
<rect x="393.1" y="548.8" width="1.7" height="5.8" fill="#97bc46"/>
<rect x="394.6" y="548.8" width="1.7" height="5.8" fill="#83b04a"/>
<rect x="254.6" y="554.4" width="1.7" height="5.8" fill="#97bc46"/>
<rect x="260.6" y="554.4" width="1.7" height="5.8" fill="#aeca48"/>
<rect x="263.7" y="554.4" width="1.7" height="5.8" fill="#97bc46"/>
<rect x="268.2" y="554.4" width="1.7" height="5.8" fill="#83b04a"/>
<rect x="272.7" y="554.4" width="1.7" height="5.8" fill="#83b04a"/>
<rect x="277.2" y="554.4" width="1.7" height="5.8" fill="#72a654"/>
<rect x="283.2" y="554.4" width="1.7" height="5.8" fill="#83b04a"/>
<rect x="286.2" y="554.4" width="1.7" height="5.8" fill="#97bc46"/>
<rect x="292.2" y="554.4" width="1.7" height="5.8" fill="#97bc46"/>
<rect x="295.3" y="554.4" width="1.7" height="5.8" fill="#97bc46"/>
<rect x="302.8" y="554.4" width="1.7" height="5.8" fill="#97bc46"/>
<rect x="305.8" y="554.4" width="1.7" height="5.8" fill="#83b04a"/>
<rect x="307.3" y="554.4" width="1.7" height="5.8" fill="#97bc46"/>
<rect x="310.3" y="554.4" width="1.7" height="5.8" fill="#83b04a"/>
<rect x="320.8" y="554.4" width="1.7" height="5.8" fill="#97bc46"/>
<rect x="325.4" y="554.4" width="3.2" height="5.8" fill="#97bc46"/>
<rect x="328.4" y="554.4" width="1.7" height="5.8" fill="#7aab4f"/>
<rect x="337.4" y="554.4" width="1.7" height="5.8" fill="#83b04a"/>
<rect x="343.4" y="554.4" width="1.7" height="5.8" fill="#83b04a"/>
<rect x="349.4" y="554.4" width="1.7" height="5.8" fill="#97bc46"/>
<rect x="354.0" y="554.4" width="1.7" height="5.8" fill="#97bc46"/>
<rect x="357.0" y="554.4" width="3.2" height="5.8" fill="#83b04a"/>
<rect x="360.0" y="554.4" width="1.7" height="5.8" fill="#97bc46"/>
<rect x="361.5" y="554.4" width="1.7" height="5.8" fill="#72a654"/>
<rect x="369.0" y="554.4" width="1.7" height="5.8" fill="#83b04a"/>
<rect x="373.5" y="554.4" width="4.7" height="5.8" fill="#83b04a"/>
<rect x="381.0" y="554.4" width="1.7" height="5.8" fill="#83b04a"/>
<rect x="391.6" y="554.4" width="1.7" height="5.8" fill="#83b04a"/>
<rect x="248.6" y="560.0" width="1.7" height="5.8" fill="#97bc46"/>
<rect x="250.1" y="560.0" width="1.7" height="5.8" fill="#83b04a"/>
<rect x="253.1" y="560.0" width="1.7" height="5.8" fill="#97bc46"/>
<rect x="256.1" y="560.0" width="3.2" height="5.8" fill="#97bc46"/>
<rect x="278.7" y="560.0" width="3.2" height="5.8" fill="#97bc46"/>
<rect x="284.7" y="560.0" width="1.7" height="5.8" fill="#97bc46"/>
<rect x="286.2" y="560.0" width="1.7" height="5.8" fill="#83b04a"/>
<rect x="289.2" y="560.0" width="1.7" height="5.8" fill="#97bc46"/>
<rect x="304.3" y="560.0" width="1.7" height="5.8" fill="#97bc46"/>
<rect x="311.8" y="560.0" width="3.2" height="5.8" fill="#83b04a"/>
<rect x="316.3" y="560.0" width="1.7" height="5.8" fill="#97bc46"/>
<rect x="317.8" y="560.0" width="3.2" height="5.8" fill="#83b04a"/>
<rect x="323.9" y="560.0" width="1.7" height="5.8" fill="#83b04a"/>
<rect x="325.4" y="560.0" width="3.2" height="5.8" fill="#97bc46"/>
<rect x="328.4" y="560.0" width="3.2" height="5.8" fill="#83b04a"/>
<rect x="335.9" y="560.0" width="1.7" height="5.8" fill="#83b04a"/>
<rect x="337.4" y="560.0" width="1.7" height="5.8" fill="#d3d851"/>
<rect x="338.9" y="560.0" width="1.7" height="5.8" fill="#ece05a"/>
<rect x="340.4" y="560.0" width="1.7" height="5.8" fill="#dfdc56"/>
<rect x="341.9" y="560.0" width="1.7" height="5.8" fill="#edd052"/>
<rect x="343.4" y="560.0" width="1.7" height="5.8" fill="#dfdc56"/>
<rect x="344.9" y="560.0" width="4.7" height="5.8" fill="#d3d851"/>
<rect x="349.4" y="560.0" width="1.7" height="5.8" fill="#dfdc56"/>
<rect x="350.9" y="560.0" width="1.7" height="5.8" fill="#ece05a"/>
<rect x="352.4" y="560.0" width="1.7" height="5.8" fill="#d3d851"/>
<rect x="354.0" y="560.0" width="3.2" height="5.8" fill="#dfdc56"/>
<rect x="357.0" y="560.0" width="1.7" height="5.8" fill="#ece05a"/>
<rect x="358.5" y="560.0" width="1.7" height="5.8" fill="#edd052"/>
<rect x="360.0" y="560.0" width="3.2" height="5.8" fill="#ece05a"/>
<rect x="363.0" y="560.0" width="1.7" height="5.8" fill="#dfdc56"/>
<rect x="364.5" y="560.0" width="1.7" height="5.8" fill="#d3d851"/>
<rect x="366.0" y="560.0" width="1.7" height="5.8" fill="#ece05a"/>
<rect x="367.5" y="560.0" width="1.7" height="5.8" fill="#d3d851"/>
<rect x="369.0" y="560.0" width="1.7" height="5.8" fill="#aeca48"/>
<rect x="370.5" y="560.0" width="1.7" height="5.8" fill="#b9d048"/>
<rect x="372.0" y="560.0" width="1.7" height="5.8" fill="#aeca48"/>
<rect x="373.5" y="560.0" width="1.7" height="5.8" fill="#b9d048"/>
<rect x="375.0" y="560.0" width="1.7" height="5.8" fill="#aeca48"/>
<rect x="376.5" y="560.0" width="1.7" height="5.8" fill="#a3c347"/>
<rect x="378.0" y="560.0" width="3.2" height="5.8" fill="#aeca48"/>
<rect x="381.0" y="560.0" width="1.7" height="5.8" fill="#a3c347"/>
<rect x="382.5" y="560.0" width="1.7" height="5.8" fill="#b9d048"/>
<rect x="384.1" y="560.0" width="1.7" height="5.8" fill="#c6d44c"/>
<rect x="385.6" y="560.0" width="3.2" height="5.8" fill="#a3c347"/>
<rect x="388.6" y="560.0" width="3.2" height="5.8" fill="#b9d048"/>
<rect x="391.6" y="560.0" width="1.7" height="5.8" fill="#a3c347"/>
<rect x="393.1" y="560.0" width="1.7" height="5.8" fill="#aeca48"/>
<rect x="394.6" y="560.0" width="1.7" height="5.8" fill="#a3c347"/>
<rect x="396.1" y="560.0" width="1.7" height="5.8" fill="#b9d048"/>
<rect x="248.6" y="565.7" width="3.2" height="5.8" fill="#72a654"/>
<rect x="251.6" y="565.7" width="1.7" height="5.8" fill="#69a058"/>
<rect x="253.1" y="565.7" width="1.7" height="5.8" fill="#649862"/>
<rect x="254.6" y="565.7" width="3.2" height="5.8" fill="#7aab4f"/>
<rect x="257.6" y="565.7" width="1.7" height="5.8" fill="#72a654"/>
<rect x="259.1" y="565.7" width="1.7" height="5.8" fill="#69a058"/>
<rect x="260.6" y="565.7" width="1.7" height="5.8" fill="#5f8f6c"/>
<rect x="262.1" y="565.7" width="6.2" height="5.8" fill="#649862"/>
<rect x="268.2" y="565.7" width="3.2" height="5.8" fill="#72a654"/>
<rect x="271.2" y="565.7" width="1.7" height="5.8" fill="#5f8f6c"/>
<rect x="272.7" y="565.7" width="1.7" height="5.8" fill="#7aab4f"/>
<rect x="274.2" y="565.7" width="1.7" height="5.8" fill="#5f8f6c"/>
<rect x="275.7" y="565.7" width="1.7" height="5.8" fill="#7aab4f"/>
<rect x="277.2" y="565.7" width="1.7" height="5.8" fill="#69a058"/>
<rect x="278.7" y="565.7" width="1.7" height="5.8" fill="#72a654"/>
<rect x="280.2" y="565.7" width="1.7" height="5.8" fill="#649862"/>
<rect x="281.7" y="565.7" width="1.7" height="5.8" fill="#72a654"/>
<rect x="283.2" y="565.7" width="1.7" height="5.8" fill="#7aab4f"/>
<rect x="284.7" y="565.7" width="1.7" height="5.8" fill="#649862"/>
<rect x="286.2" y="565.7" width="1.7" height="5.8" fill="#5f8f6c"/>
<rect x="287.7" y="565.7" width="1.7" height="5.8" fill="#72a654"/>
<rect x="289.2" y="565.7" width="1.7" height="5.8" fill="#649862"/>
<rect x="290.7" y="565.7" width="1.7" height="5.8" fill="#5f8f6c"/>
<rect x="292.2" y="565.7" width="1.7" height="5.8" fill="#69a058"/>
<rect x="293.8" y="565.7" width="1.7" height="5.8" fill="#5f8f6c"/>
<rect x="295.3" y="565.7" width="3.2" height="5.8" fill="#649862"/>
<rect x="298.3" y="565.7" width="1.7" height="5.8" fill="#5f8f6c"/>
<rect x="299.8" y="565.7" width="3.2" height="5.8" fill="#598775"/>
<rect x="302.8" y="565.7" width="1.7" height="5.8" fill="#547f7f"/>
<rect x="304.3" y="565.7" width="4.7" height="5.8" fill="#5f8f6c"/>
<rect x="308.8" y="565.7" width="1.7" height="5.8" fill="#547f7f"/>
<rect x="310.3" y="565.7" width="1.7" height="5.8" fill="#5f8f6c"/>
<rect x="311.8" y="565.7" width="1.7" height="5.8" fill="#547f7f"/>
<rect x="313.3" y="565.7" width="1.7" height="5.8" fill="#5f8f6c"/>
<rect x="314.8" y="565.7" width="3.2" height="5.8" fill="#507688"/>
<rect x="317.8" y="565.7" width="1.7" height="5.8" fill="#547f7f"/>
<rect x="319.3" y="565.7" width="1.7" height="5.8" fill="#5f8f6c"/>
<rect x="320.8" y="565.7" width="1.7" height="5.8" fill="#649862"/>
<rect x="322.3" y="565.7" width="1.7" height="5.8" fill="#598775"/>
<rect x="323.9" y="565.7" width="3.2" height="5.8" fill="#5f8f6c"/>
<rect x="326.9" y="565.7" width="3.2" height="5.8" fill="#649862"/>
<rect x="329.9" y="565.7" width="1.7" height="5.8" fill="#5f8f6c"/>
<rect x="331.4" y="565.7" width="1.7" height="5.8" fill="#598775"/>
<rect x="332.9" y="565.7" width="1.7" height="5.8" fill="#507688"/>
<rect x="334.4" y="565.7" width="1.7" height="5.8" fill="#649862"/>
<rect x="335.9" y="565.7" width="1.7" height="5.8" fill="#547f7f"/>
<rect x="337.4" y="565.7" width="1.7" height="5.8" fill="#69a058"/>
<rect x="338.9" y="565.7" width="1.7" height="5.8" fill="#72a654"/>
<rect x="340.4" y="565.7" width="1.7" height="5.8" fill="#69a058"/>
<rect x="341.9" y="565.7" width="1.7" height="5.8" fill="#5f8f6c"/>
<rect x="343.4" y="565.7" width="3.2" height="5.8" fill="#649862"/>
<rect x="346.4" y="565.7" width="1.7" height="5.8" fill="#72a654"/>
<rect x="347.9" y="565.7" width="1.7" height="5.8" fill="#69a058"/>
<rect x="349.4" y="565.7" width="4.7" height="5.8" fill="#649862"/>
<rect x="354.0" y="565.7" width="1.7" height="5.8" fill="#5f8f6c"/>
<rect x="355.5" y="565.7" width="3.2" height="5.8" fill="#69a058"/>
<rect x="358.5" y="565.7" width="1.7" height="5.8" fill="#649862"/>
<rect x="360.0" y="565.7" width="1.7" height="5.8" fill="#5f8f6c"/>
<rect x="361.5" y="565.7" width="1.7" height="5.8" fill="#7aab4f"/>
<rect x="363.0" y="565.7" width="3.2" height="5.8" fill="#5f8f6c"/>
<rect x="366.0" y="565.7" width="1.7" height="5.8" fill="#649862"/>
<rect x="367.5" y="565.7" width="1.7" height="5.8" fill="#72a654"/>
<rect x="369.0" y="565.7" width="1.7" height="5.8" fill="#7aab4f"/>
<rect x="370.5" y="565.7" width="1.7" height="5.8" fill="#72a654"/>
<rect x="372.0" y="565.7" width="1.7" height="5.8" fill="#649862"/>
<rect x="373.5" y="565.7" width="1.7" height="5.8" fill="#7aab4f"/>
<rect x="375.0" y="565.7" width="4.7" height="5.8" fill="#5f8f6c"/>
<rect x="379.5" y="565.7" width="3.2" height="5.8" fill="#69a058"/>
<rect x="382.5" y="565.7" width="1.7" height="5.8" fill="#72a654"/>
<rect x="384.1" y="565.7" width="1.7" height="5.8" fill="#7aab4f"/>
<rect x="385.6" y="565.7" width="3.2" height="5.8" fill="#72a654"/>
<rect x="388.6" y="565.7" width="1.7" height="5.8" fill="#5f8f6c"/>
<rect x="390.1" y="565.7" width="4.7" height="5.8" fill="#7aab4f"/>
<rect x="394.6" y="565.7" width="1.7" height="5.8" fill="#5f8f6c"/>
<rect x="396.1" y="565.7" width="1.7" height="5.8" fill="#72a654"/>
<rect x="251.6" y="571.3" width="1.7" height="5.8" fill="#97bc46"/>
<rect x="263.7" y="571.3" width="1.7" height="5.8" fill="#83b04a"/>
<rect x="265.2" y="571.3" width="1.7" height="5.8" fill="#507688"/>
<rect x="269.7" y="571.3" width="1.7" height="5.8" fill="#83b04a"/>
<rect x="275.7" y="571.3" width="1.7" height="5.8" fill="#83b04a"/>
<rect x="277.2" y="571.3" width="1.7" height="5.8" fill="#97bc46"/>
<rect x="278.7" y="571.3" width="3.2" height="5.8" fill="#83b04a"/>
<rect x="281.7" y="571.3" width="1.7" height="5.8" fill="#97bc46"/>
<rect x="283.2" y="571.3" width="1.7" height="5.8" fill="#83b04a"/>
<rect x="284.7" y="571.3" width="1.7" height="5.8" fill="#97bc46"/>
<rect x="286.2" y="571.3" width="1.7" height="5.8" fill="#4d6f8d"/>
<rect x="287.7" y="571.3" width="1.7" height="5.8" fill="#97bc46"/>
<rect x="293.8" y="571.3" width="1.7" height="5.8" fill="#83b04a"/>
<rect x="299.8" y="571.3" width="1.7" height="5.8" fill="#97bc46"/>
<rect x="301.3" y="571.3" width="1.7" height="5.8" fill="#83b04a"/>
<rect x="302.8" y="571.3" width="1.7" height="5.8" fill="#97bc46"/>
<rect x="314.8" y="571.3" width="1.7" height="5.8" fill="#a3c347"/>
<rect x="319.3" y="571.3" width="3.2" height="5.8" fill="#97bc46"/>
<rect x="322.3" y="571.3" width="1.7" height="5.8" fill="#83b04a"/>
<rect x="323.9" y="571.3" width="1.7" height="5.8" fill="#97bc46"/>
<rect x="326.9" y="571.3" width="1.7" height="5.8" fill="#83b04a"/>
<rect x="328.4" y="571.3" width="1.7" height="5.8" fill="#97bc46"/>
<rect x="337.4" y="571.3" width="3.2" height="5.8" fill="#598775"/>
<rect x="340.4" y="571.3" width="1.7" height="5.8" fill="#5f8f6c"/>
<rect x="341.9" y="571.3" width="1.7" height="5.8" fill="#83b04a"/>
<rect x="344.9" y="571.3" width="1.7" height="5.8" fill="#aeca48"/>
<rect x="346.4" y="571.3" width="3.2" height="5.8" fill="#97bc46"/>
<rect x="349.4" y="571.3" width="1.7" height="5.8" fill="#f0a03c"/>
<rect x="350.9" y="571.3" width="1.7" height="5.8" fill="#ec923a"/>
<rect x="352.4" y="571.3" width="1.7" height="5.8" fill="#eec04b"/>
<rect x="354.0" y="571.3" width="1.7" height="5.8" fill="#f0a03c"/>
<rect x="355.5" y="571.3" width="1.7" height="5.8" fill="#eec04b"/>
<rect x="357.0" y="571.3" width="1.7" height="5.8" fill="#f0a03c"/>
<rect x="358.5" y="571.3" width="1.7" height="5.8" fill="#ece05a"/>
<rect x="360.0" y="571.3" width="1.7" height="5.8" fill="#efb044"/>
<rect x="361.5" y="571.3" width="1.7" height="5.8" fill="#ec923a"/>
<rect x="363.0" y="571.3" width="1.7" height="5.8" fill="#e98437"/>
<rect x="364.5" y="571.3" width="1.7" height="5.8" fill="#efb044"/>
<rect x="366.0" y="571.3" width="1.7" height="5.8" fill="#e98437"/>
<rect x="367.5" y="571.3" width="1.7" height="5.8" fill="#aeca48"/>
<rect x="369.0" y="571.3" width="1.7" height="5.8" fill="#a3c347"/>
<rect x="370.5" y="571.3" width="1.7" height="5.8" fill="#b9d048"/>
<rect x="372.0" y="571.3" width="1.7" height="5.8" fill="#aeca48"/>
<rect x="373.5" y="571.3" width="3.2" height="5.8" fill="#b9d048"/>
<rect x="376.5" y="571.3" width="3.2" height="5.8" fill="#c6d44c"/>
<rect x="379.5" y="571.3" width="1.7" height="5.8" fill="#aeca48"/>
<rect x="381.0" y="571.3" width="1.7" height="5.8" fill="#b9d048"/>
<rect x="382.5" y="571.3" width="3.2" height="5.8" fill="#c6d44c"/>
<rect x="385.6" y="571.3" width="3.2" height="5.8" fill="#b9d048"/>
<rect x="388.6" y="571.3" width="1.7" height="5.8" fill="#c6d44c"/>
<rect x="390.1" y="571.3" width="1.7" height="5.8" fill="#a3c347"/>
<rect x="391.6" y="571.3" width="1.7" height="5.8" fill="#c6d44c"/>
<rect x="393.1" y="571.3" width="3.2" height="5.8" fill="#aeca48"/>
<rect x="396.1" y="571.3" width="1.7" height="5.8" fill="#c6d44c"/>
<rect x="250.1" y="576.9" width="1.7" height="5.8" fill="#83b04a"/>
<rect x="262.1" y="576.9" width="1.7" height="5.8" fill="#83b04a"/>
<rect x="266.7" y="576.9" width="1.7" height="5.8" fill="#83b04a"/>
<rect x="271.2" y="576.9" width="1.7" height="5.8" fill="#83b04a"/>
<rect x="278.7" y="576.9" width="3.2" height="5.8" fill="#97bc46"/>
<rect x="286.2" y="576.9" width="1.7" height="5.8" fill="#83b04a"/>
<rect x="296.8" y="576.9" width="1.7" height="5.8" fill="#83b04a"/>
<rect x="319.3" y="576.9" width="1.7" height="5.8" fill="#97bc46"/>
<rect x="320.8" y="576.9" width="3.2" height="5.8" fill="#83b04a"/>
<rect x="326.9" y="576.9" width="9.2" height="5.8" fill="#83b04a"/>
<rect x="338.9" y="576.9" width="3.2" height="5.8" fill="#97bc46"/>
<rect x="346.4" y="576.9" width="1.7" height="5.8" fill="#83b04a"/>
<rect x="349.4" y="576.9" width="1.7" height="5.8" fill="#dfdc56"/>
<rect x="350.9" y="576.9" width="1.7" height="5.8" fill="#d3d851"/>
<rect x="352.4" y="576.9" width="3.2" height="5.8" fill="#ece05a"/>
<rect x="355.5" y="576.9" width="4.7" height="5.8" fill="#dfdc56"/>
<rect x="360.0" y="576.9" width="1.7" height="5.8" fill="#d3d851"/>
<rect x="361.5" y="576.9" width="1.7" height="5.8" fill="#ece05a"/>
<rect x="363.0" y="576.9" width="1.7" height="5.8" fill="#edd052"/>
<rect x="364.5" y="576.9" width="1.7" height="5.8" fill="#83b04a"/>
<rect x="367.5" y="576.9" width="3.2" height="5.8" fill="#97bc46"/>
<rect x="373.5" y="576.9" width="1.7" height="5.8" fill="#83b04a"/>
<rect x="251.6" y="582.5" width="3.2" height="5.8" fill="#97bc46"/>
<rect x="262.1" y="582.5" width="1.7" height="5.8" fill="#97bc46"/>
<rect x="269.7" y="582.5" width="1.7" height="5.8" fill="#97bc46"/>
<rect x="271.2" y="582.5" width="1.7" height="5.8" fill="#83b04a"/>
<rect x="272.7" y="582.5" width="1.7" height="5.8" fill="#97bc46"/>
<rect x="277.2" y="582.5" width="1.7" height="5.8" fill="#83b04a"/>
<rect x="280.2" y="582.5" width="1.7" height="5.8" fill="#97bc46"/>
<rect x="287.7" y="582.5" width="1.7" height="5.8" fill="#83b04a"/>
<rect x="295.3" y="582.5" width="1.7" height="5.8" fill="#83b04a"/>
<rect x="299.8" y="582.5" width="1.7" height="5.8" fill="#83b04a"/>
<rect x="313.3" y="582.5" width="1.7" height="5.8" fill="#97bc46"/>
<rect x="320.8" y="582.5" width="1.7" height="5.8" fill="#598775"/>
<rect x="322.3" y="582.5" width="1.7" height="5.8" fill="#547f7f"/>
<rect x="323.9" y="582.5" width="1.7" height="5.8" fill="#649862"/>
<rect x="325.4" y="582.5" width="1.7" height="5.8" fill="#69a058"/>
<rect x="326.9" y="582.5" width="1.7" height="5.8" fill="#5f8f6c"/>
<rect x="328.4" y="582.5" width="1.7" height="5.8" fill="#547f7f"/>
<rect x="329.9" y="582.5" width="1.7" height="5.8" fill="#649862"/>
<rect x="331.4" y="582.5" width="1.7" height="5.8" fill="#69a058"/>
<rect x="332.9" y="582.5" width="3.2" height="5.8" fill="#5f8f6c"/>
<rect x="335.9" y="582.5" width="1.7" height="5.8" fill="#598775"/>
<rect x="337.4" y="582.5" width="3.2" height="5.8" fill="#40479e"/>
<rect x="340.4" y="582.5" width="1.7" height="5.8" fill="#414a9e"/>
<rect x="341.9" y="582.5" width="1.7" height="5.8" fill="#3f449d"/>
<rect x="343.4" y="582.5" width="1.7" height="5.8" fill="#434d9f"/>
<rect x="344.9" y="582.5" width="3.2" height="5.8" fill="#40479e"/>
<rect x="347.9" y="582.5" width="1.7" height="5.8" fill="#414a9e"/>
<rect x="349.4" y="582.5" width="1.7" height="5.8" fill="#3f449d"/>
<rect x="350.9" y="582.5" width="1.7" height="5.8" fill="#40479e"/>
<rect x="352.4" y="582.5" width="4.7" height="5.8" fill="#414a9e"/>
<rect x="357.0" y="582.5" width="3.2" height="5.8" fill="#40479e"/>
<rect x="360.0" y="582.5" width="1.7" height="5.8" fill="#414a9e"/>
<rect x="361.5" y="582.5" width="1.7" height="5.8" fill="#3f449d"/>
<rect x="363.0" y="582.5" width="1.7" height="5.8" fill="#434d9f"/>
<rect x="364.5" y="582.5" width="1.7" height="5.8" fill="#414a9e"/>
<rect x="366.0" y="582.5" width="3.2" height="5.8" fill="#40479e"/>
<rect x="369.0" y="582.5" width="1.7" height="5.8" fill="#434d9f"/>
<rect x="370.5" y="582.5" width="1.7" height="5.8" fill="#3d419c"/>
<rect x="372.0" y="582.5" width="1.7" height="5.8" fill="#3f449d"/>
<rect x="373.5" y="582.5" width="1.7" height="5.8" fill="#414a9e"/>
<rect x="375.0" y="582.5" width="1.7" height="5.8" fill="#3d419c"/>
<rect x="376.5" y="582.5" width="1.7" height="5.8" fill="#414a9e"/>
<rect x="378.0" y="582.5" width="1.7" height="5.8" fill="#3f449d"/>
<rect x="379.5" y="582.5" width="1.7" height="5.8" fill="#598775"/>
<rect x="381.0" y="582.5" width="1.7" height="5.8" fill="#547f7f"/>
<rect x="382.5" y="582.5" width="3.2" height="5.8" fill="#598775"/>
<rect x="385.6" y="582.5" width="3.2" height="5.8" fill="#649862"/>
<rect x="388.6" y="582.5" width="1.7" height="5.8" fill="#5f8f6c"/>
<rect x="390.1" y="582.5" width="1.7" height="5.8" fill="#598775"/>
<rect x="391.6" y="582.5" width="1.7" height="5.8" fill="#5f8f6c"/>
<rect x="393.1" y="582.5" width="1.7" height="5.8" fill="#69a058"/>
<rect x="394.6" y="582.5" width="1.7" height="5.8" fill="#598775"/>
<rect x="396.1" y="582.5" width="1.7" height="5.8" fill="#649862"/>
<rect x="250.1" y="588.2" width="1.7" height="5.8" fill="#97bc46"/>
<rect x="257.6" y="588.2" width="1.7" height="5.8" fill="#97bc46"/>
<rect x="260.6" y="588.2" width="1.7" height="5.8" fill="#97bc46"/>
<rect x="269.7" y="588.2" width="1.7" height="5.8" fill="#69a058"/>
<rect x="271.2" y="588.2" width="1.7" height="5.8" fill="#a3c347"/>
<rect x="272.7" y="588.2" width="1.7" height="5.8" fill="#72a654"/>
<rect x="274.2" y="588.2" width="1.7" height="5.8" fill="#5f8f6c"/>
<rect x="275.7" y="588.2" width="1.7" height="5.8" fill="#72a654"/>
<rect x="277.2" y="588.2" width="1.7" height="5.8" fill="#97bc46"/>
<rect x="278.7" y="588.2" width="1.7" height="5.8" fill="#649862"/>
<rect x="280.2" y="588.2" width="1.7" height="5.8" fill="#72a654"/>
<rect x="281.7" y="588.2" width="1.7" height="5.8" fill="#7aab4f"/>
<rect x="283.2" y="588.2" width="1.7" height="5.8" fill="#97bc46"/>
<rect x="284.7" y="588.2" width="1.7" height="5.8" fill="#5f8f6c"/>
<rect x="286.2" y="588.2" width="1.7" height="5.8" fill="#83b04a"/>
<rect x="287.7" y="588.2" width="1.7" height="5.8" fill="#5f8f6c"/>
<rect x="289.2" y="588.2" width="1.7" height="5.8" fill="#83b04a"/>
<rect x="290.7" y="588.2" width="1.7" height="5.8" fill="#97bc46"/>
<rect x="292.2" y="588.2" width="1.7" height="5.8" fill="#83b04a"/>
<rect x="293.8" y="588.2" width="1.7" height="5.8" fill="#5f8f6c"/>
<rect x="295.3" y="588.2" width="1.7" height="5.8" fill="#69a058"/>
<rect x="296.8" y="588.2" width="1.7" height="5.8" fill="#72a654"/>
<rect x="298.3" y="588.2" width="1.7" height="5.8" fill="#97bc46"/>
<rect x="299.8" y="588.2" width="1.7" height="5.8" fill="#72a654"/>
<rect x="301.3" y="588.2" width="1.7" height="5.8" fill="#69a058"/>
<rect x="304.3" y="588.2" width="1.7" height="5.8" fill="#83b04a"/>
<rect x="305.8" y="588.2" width="1.7" height="5.8" fill="#97bc46"/>
<rect x="307.3" y="588.2" width="1.7" height="5.8" fill="#83b04a"/>
<rect x="310.3" y="588.2" width="1.7" height="5.8" fill="#97bc46"/>
<rect x="311.8" y="588.2" width="1.7" height="5.8" fill="#649862"/>
<rect x="313.3" y="588.2" width="1.7" height="5.8" fill="#5f8f6c"/>
<rect x="316.3" y="588.2" width="1.7" height="5.8" fill="#83b04a"/>
<rect x="317.8" y="588.2" width="1.7" height="5.8" fill="#97bc46"/>
<rect x="320.8" y="588.2" width="1.7" height="5.8" fill="#649862"/>
<rect x="322.3" y="588.2" width="1.7" height="5.8" fill="#69a058"/>
<rect x="325.4" y="588.2" width="1.7" height="5.8" fill="#7aab4f"/>
<rect x="328.4" y="588.2" width="1.7" height="5.8" fill="#97bc46"/>
<rect x="329.9" y="588.2" width="1.7" height="5.8" fill="#5f8f6c"/>
<rect x="331.4" y="588.2" width="1.7" height="5.8" fill="#69a058"/>
<rect x="332.9" y="588.2" width="1.7" height="5.8" fill="#5f8f6c"/>
<rect x="334.4" y="588.2" width="1.7" height="5.8" fill="#649862"/>
<rect x="335.9" y="588.2" width="1.7" height="5.8" fill="#72a654"/>
<rect x="337.4" y="588.2" width="1.7" height="5.8" fill="#5f8f6c"/>
<rect x="338.9" y="588.2" width="1.7" height="5.8" fill="#434d9f"/>
<rect x="340.4" y="588.2" width="1.7" height="5.8" fill="#4b6792"/>
<rect x="341.9" y="588.2" width="1.7" height="5.8" fill="#495f96"/>
<rect x="343.4" y="588.2" width="1.7" height="5.8" fill="#5f8f6c"/>
<rect x="344.9" y="588.2" width="1.7" height="5.8" fill="#507688"/>
<rect x="346.4" y="588.2" width="1.7" height="5.8" fill="#495f96"/>
<rect x="347.9" y="588.2" width="1.7" height="5.8" fill="#414a9e"/>
<rect x="349.4" y="588.2" width="1.7" height="5.8" fill="#4450a0"/>
<rect x="350.9" y="588.2" width="1.7" height="5.8" fill="#414a9e"/>
<rect x="352.4" y="588.2" width="1.7" height="5.8" fill="#649862"/>
<rect x="354.0" y="588.2" width="1.7" height="5.8" fill="#4450a0"/>
<rect x="355.5" y="588.2" width="1.7" height="5.8" fill="#434d9f"/>
<rect x="357.0" y="588.2" width="1.7" height="5.8" fill="#40479e"/>
<rect x="358.5" y="588.2" width="1.7" height="5.8" fill="#434d9f"/>
<rect x="360.0" y="588.2" width="1.7" height="5.8" fill="#4d6f8d"/>
<rect x="361.5" y="588.2" width="1.7" height="5.8" fill="#4b6792"/>
<rect x="363.0" y="588.2" width="1.7" height="5.8" fill="#4d6f8d"/>
<rect x="364.5" y="588.2" width="1.7" height="5.8" fill="#507688"/>
<rect x="366.0" y="588.2" width="1.7" height="5.8" fill="#434d9f"/>
<rect x="367.5" y="588.2" width="3.2" height="5.8" fill="#4d6f8d"/>
<rect x="373.5" y="588.2" width="1.7" height="5.8" fill="#97bc46"/>
<rect x="376.5" y="588.2" width="1.7" height="5.8" fill="#83b04a"/>
<rect x="379.5" y="588.2" width="1.7" height="5.8" fill="#83b04a"/>
<rect x="382.5" y="588.2" width="1.7" height="5.8" fill="#83b04a"/>
<rect x="391.6" y="588.2" width="1.7" height="5.8" fill="#83b04a"/>
<rect x="393.1" y="588.2" width="1.7" height="5.8" fill="#97bc46"/>
<rect x="248.6" y="593.8" width="1.7" height="5.8" fill="#547f7f"/>
<rect x="259.1" y="593.8" width="1.7" height="5.8" fill="#83b04a"/>
<rect x="260.6" y="593.8" width="1.7" height="5.8" fill="#97bc46"/>
<rect x="266.7" y="593.8" width="1.7" height="5.8" fill="#97bc46"/>
<rect x="269.7" y="593.8" width="1.7" height="5.8" fill="#7aab4f"/>
<rect x="271.2" y="593.8" width="1.7" height="5.8" fill="#83b04a"/>
<rect x="275.7" y="593.8" width="3.2" height="5.8" fill="#97bc46"/>
<rect x="281.7" y="593.8" width="1.7" height="5.8" fill="#97bc46"/>
<rect x="286.2" y="593.8" width="1.7" height="5.8" fill="#7aab4f"/>
<rect x="292.2" y="593.8" width="1.7" height="5.8" fill="#83b04a"/>
<rect x="296.8" y="593.8" width="3.2" height="5.8" fill="#83b04a"/>
<rect x="301.3" y="593.8" width="3.2" height="5.8" fill="#83b04a"/>
<rect x="304.3" y="593.8" width="1.7" height="5.8" fill="#97bc46"/>
<rect x="307.3" y="593.8" width="4.7" height="5.8" fill="#83b04a"/>
<rect x="311.8" y="593.8" width="1.7" height="5.8" fill="#97bc46"/>
<rect x="313.3" y="593.8" width="1.7" height="5.8" fill="#83b04a"/>
<rect x="320.8" y="593.8" width="1.7" height="5.8" fill="#83b04a"/>
<rect x="331.4" y="593.8" width="1.7" height="5.8" fill="#97bc46"/>
<rect x="332.9" y="593.8" width="1.7" height="5.8" fill="#83b04a"/>
<rect x="340.4" y="593.8" width="1.7" height="5.8" fill="#97bc46"/>
<rect x="343.4" y="593.8" width="1.7" height="5.8" fill="#83b04a"/>
<rect x="346.4" y="593.8" width="1.7" height="5.8" fill="#97bc46"/>
<rect x="350.9" y="593.8" width="3.2" height="5.8" fill="#83b04a"/>
<rect x="355.5" y="593.8" width="1.7" height="5.8" fill="#83b04a"/>
<rect x="366.0" y="593.8" width="1.7" height="5.8" fill="#97bc46"/>
<rect x="367.5" y="593.8" width="1.7" height="5.8" fill="#83b04a"/>
<rect x="369.0" y="593.8" width="1.7" height="5.8" fill="#97bc46"/>
<rect x="381.0" y="593.8" width="1.7" height="5.8" fill="#83b04a"/>
<rect x="382.5" y="593.8" width="1.7" height="5.8" fill="#97bc46"/>
<rect x="387.1" y="593.8" width="3.2" height="5.8" fill="#97bc46"/>
<rect x="393.1" y="593.8" width="1.7" height="5.8" fill="#97bc46"/>
<rect x="250.1" y="599.4" width="3.2" height="5.8" fill="#97bc46"/>
<rect x="254.6" y="599.4" width="1.7" height="5.8" fill="#97bc46"/>
<rect x="256.1" y="599.4" width="1.7" height="5.8" fill="#83b04a"/>
<rect x="265.2" y="599.4" width="1.7" height="5.8" fill="#97bc46"/>
<rect x="266.7" y="599.4" width="3.2" height="5.8" fill="#83b04a"/>
<rect x="269.7" y="599.4" width="1.7" height="5.8" fill="#97bc46"/>
<rect x="271.2" y="599.4" width="1.7" height="5.8" fill="#83b04a"/>
<rect x="272.7" y="599.4" width="1.7" height="5.8" fill="#97bc46"/>
<rect x="274.2" y="599.4" width="1.7" height="5.8" fill="#83b04a"/>
<rect x="284.7" y="599.4" width="1.7" height="5.8" fill="#97bc46"/>
<rect x="295.3" y="599.4" width="1.7" height="5.8" fill="#97bc46"/>
<rect x="296.8" y="599.4" width="1.7" height="5.8" fill="#83b04a"/>
<rect x="302.8" y="599.4" width="1.7" height="5.8" fill="#69a058"/>
<rect x="310.3" y="599.4" width="1.7" height="5.8" fill="#83b04a"/>
<rect x="311.8" y="599.4" width="1.7" height="5.8" fill="#97bc46"/>
<rect x="316.3" y="599.4" width="1.7" height="5.8" fill="#97bc46"/>
<rect x="319.3" y="599.4" width="1.7" height="5.8" fill="#7aab4f"/>
<rect x="320.8" y="599.4" width="1.7" height="5.8" fill="#97bc46"/>
<rect x="323.9" y="599.4" width="1.7" height="5.8" fill="#83b04a"/>
<rect x="326.9" y="599.4" width="1.7" height="5.8" fill="#83b04a"/>
<rect x="328.4" y="599.4" width="1.7" height="5.8" fill="#97bc46"/>
<rect x="331.4" y="599.4" width="1.7" height="5.8" fill="#97bc46"/>
<rect x="340.4" y="599.4" width="1.7" height="5.8" fill="#83b04a"/>
<rect x="343.4" y="599.4" width="3.2" height="5.8" fill="#97bc46"/>
<rect x="347.9" y="599.4" width="1.7" height="5.8" fill="#97bc46"/>
<rect x="349.4" y="599.4" width="1.7" height="5.8" fill="#83b04a"/>
<rect x="352.4" y="599.4" width="1.7" height="5.8" fill="#83b04a"/>
<rect x="363.0" y="599.4" width="1.7" height="5.8" fill="#83b04a"/>
<rect x="364.5" y="599.4" width="1.7" height="5.8" fill="#97bc46"/>
<rect x="366.0" y="599.4" width="3.2" height="5.8" fill="#83b04a"/>
<rect x="370.5" y="599.4" width="1.7" height="5.8" fill="#97bc46"/>
<rect x="372.0" y="599.4" width="1.7" height="5.8" fill="#83b04a"/>
<rect x="375.0" y="599.4" width="1.7" height="5.8" fill="#97bc46"/>
<rect x="381.0" y="599.4" width="4.7" height="5.8" fill="#97bc46"/>
<rect x="385.6" y="599.4" width="3.2" height="5.8" fill="#83b04a"/>
<rect x="388.6" y="599.4" width="1.7" height="5.8" fill="#97bc46"/>
<rect x="391.6" y="599.4" width="1.7" height="5.8" fill="#83b04a"/>
<rect x="393.1" y="599.4" width="3.2" height="5.8" fill="#97bc46"/>
<rect x="396.1" y="599.4" width="1.7" height="5.8" fill="#83b04a"/>
<rect x="250.1" y="605.0" width="1.7" height="5.8" fill="#97bc46"/>
<rect x="259.1" y="605.0" width="3.2" height="5.8" fill="#83b04a"/>
<rect x="262.1" y="605.0" width="1.7" height="5.8" fill="#72a654"/>
<rect x="265.2" y="605.0" width="1.7" height="5.8" fill="#aeca48"/>
<rect x="266.7" y="605.0" width="3.2" height="5.8" fill="#83b04a"/>
<rect x="275.7" y="605.0" width="1.7" height="5.8" fill="#83b04a"/>
<rect x="286.2" y="605.0" width="1.7" height="5.8" fill="#97bc46"/>
<rect x="292.2" y="605.0" width="1.7" height="5.8" fill="#97bc46"/>
<rect x="295.3" y="605.0" width="1.7" height="5.8" fill="#97bc46"/>
<rect x="296.8" y="605.0" width="1.7" height="5.8" fill="#83b04a"/>
<rect x="298.3" y="605.0" width="1.7" height="5.8" fill="#97bc46"/>
<rect x="299.8" y="605.0" width="1.7" height="5.8" fill="#83b04a"/>
<rect x="310.3" y="605.0" width="1.7" height="5.8" fill="#83b04a"/>
<rect x="314.8" y="605.0" width="3.2" height="5.8" fill="#598775"/>
<rect x="317.8" y="605.0" width="3.2" height="5.8" fill="#507688"/>
<rect x="320.8" y="605.0" width="1.7" height="5.8" fill="#598775"/>
<rect x="322.3" y="605.0" width="4.7" height="5.8" fill="#4450a0"/>
<rect x="326.9" y="605.0" width="1.7" height="5.8" fill="#434d9f"/>
<rect x="328.4" y="605.0" width="1.7" height="5.8" fill="#598775"/>
<rect x="329.9" y="605.0" width="1.7" height="5.8" fill="#5f8f6c"/>
<rect x="331.4" y="605.0" width="3.2" height="5.8" fill="#507688"/>
<rect x="334.4" y="605.0" width="1.7" height="5.8" fill="#5f8f6c"/>
<rect x="335.9" y="605.0" width="1.7" height="5.8" fill="#547f7f"/>
<rect x="337.4" y="605.0" width="3.2" height="5.8" fill="#434d9f"/>
<rect x="340.4" y="605.0" width="1.7" height="5.8" fill="#46589b"/>
<rect x="341.9" y="605.0" width="1.7" height="5.8" fill="#434d9f"/>
<rect x="343.4" y="605.0" width="1.7" height="5.8" fill="#4450a0"/>
<rect x="347.9" y="605.0" width="1.7" height="5.8" fill="#ec923a"/>
<rect x="349.4" y="605.0" width="3.2" height="5.8" fill="#e98437"/>
<rect x="352.4" y="605.0" width="3.2" height="5.8" fill="#e67634"/>
<rect x="355.5" y="605.0" width="1.7" height="5.8" fill="#d83e2a"/>
<rect x="357.0" y="605.0" width="1.7" height="5.8" fill="#db4c2d"/>
<rect x="358.5" y="605.0" width="1.7" height="5.8" fill="#d83e2a"/>
<rect x="360.0" y="605.0" width="1.7" height="5.8" fill="#d43028"/>
<rect x="361.5" y="605.0" width="7.7" height="5.8" fill="#d83e2a"/>
<rect x="369.0" y="605.0" width="1.7" height="5.8" fill="#db4c2d"/>
<rect x="370.5" y="605.0" width="4.7" height="5.8" fill="#d83e2a"/>
<rect x="375.0" y="605.0" width="1.7" height="5.8" fill="#ec923a"/>
<rect x="376.5" y="605.0" width="4.7" height="5.8" fill="#e98437"/>
<rect x="381.0" y="605.0" width="1.7" height="5.8" fill="#ec923a"/>
<rect x="382.5" y="605.0" width="3.2" height="5.8" fill="#edd052"/>
<rect x="385.6" y="605.0" width="3.2" height="5.8" fill="#ece05a"/>
<rect x="388.6" y="605.0" width="1.7" height="5.8" fill="#eec04b"/>
<rect x="390.1" y="605.0" width="1.7" height="5.8" fill="#edd052"/>
<rect x="391.6" y="605.0" width="1.7" height="5.8" fill="#ece05a"/>
<rect x="393.1" y="605.0" width="4.7" height="5.8" fill="#edd052"/>
<rect x="250.1" y="610.7" width="3.2" height="5.8" fill="#83b04a"/>
<rect x="256.1" y="610.7" width="3.2" height="5.8" fill="#83b04a"/>
<rect x="260.6" y="610.7" width="1.7" height="5.8" fill="#97bc46"/>
<rect x="275.7" y="610.7" width="1.7" height="5.8" fill="#83b04a"/>
<rect x="278.7" y="610.7" width="1.7" height="5.8" fill="#83b04a"/>
<rect x="281.7" y="610.7" width="1.7" height="5.8" fill="#97bc46"/>
<rect x="283.2" y="610.7" width="1.7" height="5.8" fill="#83b04a"/>
<rect x="290.7" y="610.7" width="1.7" height="5.8" fill="#83b04a"/>
<rect x="293.8" y="610.7" width="1.7" height="5.8" fill="#83b04a"/>
<rect x="299.8" y="610.7" width="1.7" height="5.8" fill="#83b04a"/>
<rect x="301.3" y="610.7" width="3.2" height="5.8" fill="#97bc46"/>
<rect x="305.8" y="610.7" width="1.7" height="5.8" fill="#97bc46"/>
<rect x="317.8" y="610.7" width="4.7" height="5.8" fill="#83b04a"/>
<rect x="323.9" y="610.7" width="1.7" height="5.8" fill="#97bc46"/>
<rect x="325.4" y="610.7" width="1.7" height="5.8" fill="#69a058"/>
<rect x="326.9" y="610.7" width="1.7" height="5.8" fill="#83b04a"/>
<rect x="328.4" y="610.7" width="1.7" height="5.8" fill="#97bc46"/>
<rect x="331.4" y="610.7" width="1.7" height="5.8" fill="#83b04a"/>
<rect x="334.4" y="610.7" width="1.7" height="5.8" fill="#83b04a"/>
<rect x="335.9" y="610.7" width="1.7" height="5.8" fill="#aeca48"/>
<rect x="338.9" y="610.7" width="1.7" height="5.8" fill="#97bc46"/>
<rect x="343.4" y="610.7" width="1.7" height="5.8" fill="#97bc46"/>
<rect x="349.4" y="610.7" width="1.7" height="5.8" fill="#97bc46"/>
<rect x="357.0" y="610.7" width="1.7" height="5.8" fill="#83b04a"/>
<rect x="363.0" y="610.7" width="3.2" height="5.8" fill="#83b04a"/>
<rect x="366.0" y="610.7" width="1.7" height="5.8" fill="#97bc46"/>
<rect x="372.0" y="610.7" width="1.7" height="5.8" fill="#83b04a"/>
<rect x="379.5" y="610.7" width="1.7" height="5.8" fill="#97bc46"/>
<rect x="381.0" y="610.7" width="1.7" height="5.8" fill="#83b04a"/>
<rect x="384.1" y="610.7" width="1.7" height="5.8" fill="#83b04a"/>
<rect x="391.6" y="610.7" width="1.7" height="5.8" fill="#83b04a"/>
<rect x="396.1" y="610.7" width="1.7" height="5.8" fill="#97bc46"/>
<rect x="248.6" y="616.3" width="1.7" height="5.8" fill="#83b04a"/>
<rect x="250.1" y="616.3" width="1.7" height="5.8" fill="#97bc46"/>
<rect x="254.6" y="616.3" width="3.2" height="5.8" fill="#83b04a"/>
<rect x="263.7" y="616.3" width="1.7" height="5.8" fill="#83b04a"/>
<rect x="274.2" y="616.3" width="1.7" height="5.8" fill="#83b04a"/>
<rect x="278.7" y="616.3" width="1.7" height="5.8" fill="#83b04a"/>
<rect x="281.7" y="616.3" width="1.7" height="5.8" fill="#83b04a"/>
<rect x="283.2" y="616.3" width="1.7" height="5.8" fill="#aeca48"/>
<rect x="286.2" y="616.3" width="1.7" height="5.8" fill="#97bc46"/>
<rect x="290.7" y="616.3" width="1.7" height="5.8" fill="#83b04a"/>
<rect x="292.2" y="616.3" width="1.7" height="5.8" fill="#97bc46"/>
<rect x="296.8" y="616.3" width="1.7" height="5.8" fill="#83b04a"/>
<rect x="299.8" y="616.3" width="1.7" height="5.8" fill="#97bc46"/>
<rect x="302.8" y="616.3" width="1.7" height="5.8" fill="#83b04a"/>
<rect x="305.8" y="616.3" width="3.2" height="5.8" fill="#97bc46"/>
<rect x="310.3" y="616.3" width="1.7" height="5.8" fill="#83b04a"/>
<rect x="311.8" y="616.3" width="1.7" height="5.8" fill="#97bc46"/>
<rect x="314.8" y="616.3" width="1.7" height="5.8" fill="#83b04a"/>
<rect x="319.3" y="616.3" width="3.2" height="5.8" fill="#97bc46"/>
<rect x="325.4" y="616.3" width="1.7" height="5.8" fill="#83b04a"/>
<rect x="332.9" y="616.3" width="1.7" height="5.8" fill="#83b04a"/>
<rect x="340.4" y="616.3" width="1.7" height="5.8" fill="#97bc46"/>
<rect x="344.9" y="616.3" width="1.7" height="5.8" fill="#83b04a"/>
<rect x="352.4" y="616.3" width="1.7" height="5.8" fill="#ece05a"/>
<rect x="354.0" y="616.3" width="3.2" height="5.8" fill="#dfdc56"/>
<rect x="357.0" y="616.3" width="4.7" height="5.8" fill="#ece05a"/>
<rect x="361.5" y="616.3" width="1.7" height="5.8" fill="#dfdc56"/>
<rect x="367.5" y="616.3" width="1.7" height="5.8" fill="#97bc46"/>
<rect x="373.5" y="616.3" width="1.7" height="5.8" fill="#97bc46"/>
<rect x="378.0" y="616.3" width="1.7" height="5.8" fill="#83b04a"/>
<rect x="379.5" y="616.3" width="1.7" height="5.8" fill="#97bc46"/>
<rect x="385.6" y="616.3" width="1.7" height="5.8" fill="#97bc46"/>
<rect x="387.1" y="616.3" width="1.7" height="5.8" fill="#83b04a"/>
<rect x="393.1" y="616.3" width="1.7" height="5.8" fill="#83b04a"/>
<rect x="394.6" y="616.3" width="1.7" height="5.8" fill="#97bc46"/>
<rect x="248.6" y="621.9" width="3.2" height="5.8" fill="#97bc46"/>
<rect x="254.6" y="621.9" width="1.7" height="5.8" fill="#97bc46"/>
<rect x="262.1" y="621.9" width="1.7" height="5.8" fill="#83b04a"/>
<rect x="263.7" y="621.9" width="1.7" height="5.8" fill="#97bc46"/>
<rect x="265.2" y="621.9" width="1.7" height="5.8" fill="#83b04a"/>
<rect x="269.7" y="621.9" width="1.7" height="5.8" fill="#83b04a"/>
<rect x="277.2" y="621.9" width="1.7" height="5.8" fill="#aeca48"/>
<rect x="278.7" y="621.9" width="1.7" height="5.8" fill="#83b04a"/>
<rect x="280.2" y="621.9" width="3.2" height="5.8" fill="#97bc46"/>
<rect x="286.2" y="621.9" width="1.7" height="5.8" fill="#83b04a"/>
<rect x="287.7" y="621.9" width="1.7" height="5.8" fill="#97bc46"/>
<rect x="296.8" y="621.9" width="4.7" height="5.8" fill="#97bc46"/>
<rect x="302.8" y="621.9" width="3.2" height="5.8" fill="#97bc46"/>
<rect x="305.8" y="621.9" width="3.2" height="5.8" fill="#83b04a"/>
<rect x="310.3" y="621.9" width="1.7" height="5.8" fill="#97bc46"/>
<rect x="313.3" y="621.9" width="1.7" height="5.8" fill="#97bc46"/>
<rect x="317.8" y="621.9" width="1.7" height="5.8" fill="#649862"/>
<rect x="319.3" y="621.9" width="4.7" height="5.8" fill="#69a058"/>
<rect x="323.9" y="621.9" width="1.7" height="5.8" fill="#649862"/>
<rect x="325.4" y="621.9" width="1.7" height="5.8" fill="#5f8f6c"/>
<rect x="326.9" y="621.9" width="1.7" height="5.8" fill="#72a654"/>
<rect x="328.4" y="621.9" width="3.2" height="5.8" fill="#5f8f6c"/>
<rect x="331.4" y="621.9" width="1.7" height="5.8" fill="#649862"/>
<rect x="332.9" y="621.9" width="3.2" height="5.8" fill="#69a058"/>
<rect x="335.9" y="621.9" width="1.7" height="5.8" fill="#649862"/>
<rect x="337.4" y="621.9" width="1.7" height="5.8" fill="#69a058"/>
<rect x="338.9" y="621.9" width="3.2" height="5.8" fill="#5f8f6c"/>
<rect x="341.9" y="621.9" width="1.7" height="5.8" fill="#649862"/>
<rect x="343.4" y="621.9" width="1.7" height="5.8" fill="#69a058"/>
<rect x="344.9" y="621.9" width="1.7" height="5.8" fill="#649862"/>
<rect x="346.4" y="621.9" width="1.7" height="5.8" fill="#5f8f6c"/>
<rect x="347.9" y="621.9" width="1.7" height="5.8" fill="#69a058"/>
<rect x="349.4" y="621.9" width="1.7" height="5.8" fill="#649862"/>
<rect x="350.9" y="621.9" width="1.7" height="5.8" fill="#69a058"/>
<rect x="354.0" y="621.9" width="1.7" height="5.8" fill="#83b04a"/>
<rect x="358.5" y="621.9" width="1.7" height="5.8" fill="#83b04a"/>
<rect x="361.5" y="621.9" width="1.7" height="5.8" fill="#69a058"/>
<rect x="363.0" y="621.9" width="1.7" height="5.8" fill="#649862"/>
<rect x="364.5" y="621.9" width="1.7" height="5.8" fill="#7aab4f"/>
<rect x="366.0" y="621.9" width="1.7" height="5.8" fill="#69a058"/>
<rect x="367.5" y="621.9" width="1.7" height="5.8" fill="#7aab4f"/>
<rect x="369.0" y="621.9" width="3.2" height="5.8" fill="#72a654"/>
<rect x="372.0" y="621.9" width="1.7" height="5.8" fill="#649862"/>
<rect x="373.5" y="621.9" width="1.7" height="5.8" fill="#7aab4f"/>
<rect x="375.0" y="621.9" width="1.7" height="5.8" fill="#649862"/>
<rect x="376.5" y="621.9" width="1.7" height="5.8" fill="#72a654"/>
<rect x="378.0" y="621.9" width="1.7" height="5.8" fill="#69a058"/>
<rect x="379.5" y="621.9" width="1.7" height="5.8" fill="#72a654"/>
<rect x="381.0" y="621.9" width="1.7" height="5.8" fill="#649862"/>
<rect x="382.5" y="621.9" width="3.2" height="5.8" fill="#72a654"/>
<rect x="385.6" y="621.9" width="1.7" height="5.8" fill="#83b04a"/>
<rect x="387.1" y="621.9" width="1.7" height="5.8" fill="#97bc46"/>
<rect x="248.6" y="627.5" width="1.7" height="5.8" fill="#72a654"/>
<rect x="251.6" y="627.5" width="3.2" height="5.8" fill="#83b04a"/>
<rect x="257.6" y="627.5" width="1.7" height="5.8" fill="#83b04a"/>
<rect x="259.1" y="627.5" width="1.7" height="5.8" fill="#97bc46"/>
<rect x="263.7" y="627.5" width="1.7" height="5.8" fill="#83b04a"/>
<rect x="265.2" y="627.5" width="1.7" height="5.8" fill="#97bc46"/>
<rect x="272.7" y="627.5" width="1.7" height="5.8" fill="#97bc46"/>
<rect x="275.7" y="627.5" width="1.7" height="5.8" fill="#83b04a"/>
<rect x="284.7" y="627.5" width="1.7" height="5.8" fill="#83b04a"/>
<rect x="296.8" y="627.5" width="1.7" height="5.8" fill="#97bc46"/>
<rect x="299.8" y="627.5" width="1.7" height="5.8" fill="#97bc46"/>
<rect x="305.8" y="627.5" width="1.7" height="5.8" fill="#83b04a"/>
<rect x="308.8" y="627.5" width="1.7" height="5.8" fill="#97bc46"/>
<rect x="314.8" y="627.5" width="1.7" height="5.8" fill="#97bc46"/>
<rect x="340.4" y="627.5" width="1.7" height="5.8" fill="#83b04a"/>
<rect x="344.9" y="627.5" width="1.7" height="5.8" fill="#97bc46"/>
<rect x="347.9" y="627.5" width="1.7" height="5.8" fill="#83b04a"/>
<rect x="350.9" y="627.5" width="1.7" height="5.8" fill="#97bc46"/>
<rect x="361.5" y="627.5" width="1.7" height="5.8" fill="#97bc46"/>
<rect x="364.5" y="627.5" width="3.2" height="5.8" fill="#83b04a"/>
<rect x="367.5" y="627.5" width="1.7" height="5.8" fill="#97bc46"/>
<rect x="369.0" y="627.5" width="1.7" height="5.8" fill="#83b04a"/>
<rect x="378.0" y="627.5" width="1.7" height="5.8" fill="#97bc46"/>
<rect x="381.0" y="627.5" width="1.7" height="5.8" fill="#97bc46"/>
<rect x="384.1" y="627.5" width="1.7" height="5.8" fill="#97bc46"/>
<rect x="385.6" y="627.5" width="1.7" height="5.8" fill="#83b04a"/>
<rect x="390.1" y="627.5" width="1.7" height="5.8" fill="#83b04a"/>
<rect x="393.1" y="627.5" width="1.7" height="5.8" fill="#97bc46"/>
<rect x="250.1" y="633.2" width="1.7" height="5.8" fill="#83b04a"/>
<rect x="259.1" y="633.2" width="1.7" height="5.8" fill="#7aab4f"/>
<rect x="260.6" y="633.2" width="1.7" height="5.8" fill="#83b04a"/>
<rect x="271.2" y="633.2" width="1.7" height="5.8" fill="#83b04a"/>
<rect x="275.7" y="633.2" width="1.7" height="5.8" fill="#97bc46"/>
<rect x="278.7" y="633.2" width="3.2" height="5.8" fill="#97bc46"/>
<rect x="281.7" y="633.2" width="3.2" height="5.8" fill="#83b04a"/>
<rect x="284.7" y="633.2" width="3.2" height="5.8" fill="#97bc46"/>
<rect x="293.8" y="633.2" width="1.7" height="5.8" fill="#83b04a"/>
<rect x="298.3" y="633.2" width="1.7" height="5.8" fill="#83b04a"/>
<rect x="299.8" y="633.2" width="1.7" height="5.8" fill="#97bc46"/>
<rect x="313.3" y="633.2" width="1.7" height="5.8" fill="#97bc46"/>
<rect x="319.3" y="633.2" width="1.7" height="5.8" fill="#83b04a"/>
<rect x="322.3" y="633.2" width="1.7" height="5.8" fill="#83b04a"/>
<rect x="325.4" y="633.2" width="1.7" height="5.8" fill="#83b04a"/>
<rect x="331.4" y="633.2" width="1.7" height="5.8" fill="#83b04a"/>
<rect x="337.4" y="633.2" width="1.7" height="5.8" fill="#83b04a"/>
<rect x="340.4" y="633.2" width="1.7" height="5.8" fill="#97bc46"/>
<rect x="344.9" y="633.2" width="1.7" height="5.8" fill="#83b04a"/>
<rect x="349.4" y="633.2" width="1.7" height="5.8" fill="#83b04a"/>
<rect x="354.0" y="633.2" width="1.7" height="5.8" fill="#83b04a"/>
<rect x="358.5" y="633.2" width="3.2" height="5.8" fill="#97bc46"/>
<rect x="366.0" y="633.2" width="1.7" height="5.8" fill="#83b04a"/>
<rect x="370.5" y="633.2" width="3.2" height="5.8" fill="#97bc46"/>
<rect x="375.0" y="633.2" width="1.7" height="5.8" fill="#83b04a"/>
<rect x="378.0" y="633.2" width="1.7" height="5.8" fill="#97bc46"/>
<rect x="379.5" y="633.2" width="1.7" height="5.8" fill="#83b04a"/>
<rect x="384.1" y="633.2" width="1.7" height="5.8" fill="#83b04a"/>
<rect x="390.1" y="633.2" width="1.7" height="5.8" fill="#83b04a"/>
<rect x="396.1" y="633.2" width="1.7" height="5.8" fill="#83b04a"/>
<rect x="248.6" y="638.8" width="1.7" height="5.8" fill="#83b04a"/>
<rect x="253.1" y="638.8" width="3.2" height="5.8" fill="#83b04a"/>
<rect x="262.1" y="638.8" width="1.7" height="5.8" fill="#97bc46"/>
<rect x="266.7" y="638.8" width="1.7" height="5.8" fill="#83b04a"/>
<rect x="272.7" y="638.8" width="3.2" height="5.8" fill="#97bc46"/>
<rect x="284.7" y="638.8" width="1.7" height="5.8" fill="#97bc46"/>
<rect x="289.2" y="638.8" width="1.7" height="5.8" fill="#97bc46"/>
<rect x="290.7" y="638.8" width="1.7" height="5.8" fill="#83b04a"/>
<rect x="293.8" y="638.8" width="1.7" height="5.8" fill="#97bc46"/>
<rect x="299.8" y="638.8" width="1.7" height="5.8" fill="#97bc46"/>
<rect x="301.3" y="638.8" width="1.7" height="5.8" fill="#83b04a"/>
<rect x="304.3" y="638.8" width="1.7" height="5.8" fill="#97bc46"/>
<rect x="311.8" y="638.8" width="1.7" height="5.8" fill="#97bc46"/>
<rect x="317.8" y="638.8" width="1.7" height="5.8" fill="#97bc46"/>
<rect x="320.8" y="638.8" width="4.7" height="5.8" fill="#97bc46"/>
<rect x="326.9" y="638.8" width="3.2" height="5.8" fill="#83b04a"/>
<rect x="329.9" y="638.8" width="1.7" height="5.8" fill="#97bc46"/>
<rect x="331.4" y="638.8" width="3.2" height="5.8" fill="#83b04a"/>
<rect x="338.9" y="638.8" width="1.7" height="5.8" fill="#97bc46"/>
<rect x="343.4" y="638.8" width="1.7" height="5.8" fill="#97bc46"/>
<rect x="346.4" y="638.8" width="1.7" height="5.8" fill="#97bc46"/>
<rect x="347.9" y="638.8" width="1.7" height="5.8" fill="#83b04a"/>
<rect x="352.4" y="638.8" width="1.7" height="5.8" fill="#e26832"/>
<rect x="354.0" y="638.8" width="1.7" height="5.8" fill="#e98437"/>
<rect x="355.5" y="638.8" width="1.7" height="5.8" fill="#ec923a"/>
<rect x="357.0" y="638.8" width="1.7" height="5.8" fill="#e98437"/>
<rect x="358.5" y="638.8" width="1.7" height="5.8" fill="#ec923a"/>
<rect x="360.0" y="638.8" width="3.2" height="5.8" fill="#d83e2a"/>
<rect x="363.0" y="638.8" width="1.7" height="5.8" fill="#db4c2d"/>
<rect x="364.5" y="638.8" width="1.7" height="5.8" fill="#e26832"/>
<rect x="366.0" y="638.8" width="3.2" height="5.8" fill="#e67634"/>
<rect x="369.0" y="638.8" width="1.7" height="5.8" fill="#e26832"/>
<rect x="370.5" y="638.8" width="3.2" height="5.8" fill="#ec923a"/>
<rect x="373.5" y="638.8" width="1.7" height="5.8" fill="#e98437"/>
<rect x="375.0" y="638.8" width="3.2" height="5.8" fill="#ec923a"/>
<rect x="381.0" y="638.8" width="3.2" height="5.8" fill="#97bc46"/>
<rect x="388.6" y="638.8" width="1.7" height="5.8" fill="#83b04a"/>
<rect x="391.6" y="638.8" width="3.2" height="5.8" fill="#97bc46"/>
<rect x="248.6" y="543.3" width="149.0" height="5.5" fill="#111"/>
<rect x="291.7" y="543.3" width="1.6" height="5.5" fill="#e8c84a"/>
<rect x="336.2" y="543.3" width="1.6" height="5.5" fill="#e89a3a"/>
<rect x="413.7" y="601.5" width="4.8" height="3.9" fill="#d43028"/>
<rect x="413.7" y="605.1" width="4.8" height="3.9" fill="#e16331"/>
<rect x="413.7" y="608.6" width="4.8" height="3.9" fill="#ed963a"/>
<rect x="413.7" y="612.2" width="4.8" height="3.9" fill="#edcf52"/>
<rect x="413.7" y="615.8" width="4.8" height="3.9" fill="#ccd64f"/>
<rect x="413.7" y="619.4" width="4.8" height="3.9" fill="#a0c247"/>
<rect x="413.7" y="623.0" width="4.8" height="3.9" fill="#7cac4e"/>
<rect x="413.7" y="626.5" width="4.8" height="3.9" fill="#619466"/>
<rect x="413.7" y="630.1" width="4.8" height="3.9" fill="#4f7688"/>
<rect x="413.7" y="633.7" width="4.8" height="3.9" fill="#475a9a"/>
<rect x="413.7" y="637.2" width="4.8" height="3.9" fill="#41499e"/>
<rect x="413.7" y="640.8" width="4.8" height="3.9" fill="#3c3e9b"/>
<line x1="419.2" y1="603.2875" x2="421.2" y2="603.2875" stroke="#bbb" stroke-width="0.6" />
<line x1="419.2" y1="606.8625" x2="421.2" y2="606.8625" stroke="#bbb" stroke-width="0.6" />
<line x1="419.2" y1="610.4375" x2="421.2" y2="610.4375" stroke="#bbb" stroke-width="0.6" />
<line x1="419.2" y1="614.0125" x2="421.2" y2="614.0125" stroke="#bbb" stroke-width="0.6" />
<line x1="419.2" y1="617.5875" x2="421.2" y2="617.5875" stroke="#bbb" stroke-width="0.6" />
<line x1="419.2" y1="621.1625" x2="421.2" y2="621.1625" stroke="#bbb" stroke-width="0.6" />
<line x1="419.2" y1="624.7375" x2="421.2" y2="624.7375" stroke="#bbb" stroke-width="0.6" />
<line x1="419.2" y1="628.3125" x2="421.2" y2="628.3125" stroke="#bbb" stroke-width="0.6" />
<line x1="419.2" y1="631.8874999999999" x2="421.2" y2="631.8874999999999" stroke="#bbb" stroke-width="0.6" />
<line x1="419.2" y1="635.4625" x2="421.2" y2="635.4625" stroke="#bbb" stroke-width="0.6" />
<line x1="419.2" y1="639.0375" x2="421.2" y2="639.0375" stroke="#bbb" stroke-width="0.6" />
<line x1="419.2" y1="642.6125" x2="421.2" y2="642.6125" stroke="#bbb" stroke-width="0.6" />
<text transform="translate(485.6 531.2) scale(1 1.06)" font-size="15.1" >pH 4</text>
<text transform="translate(547.6 531.2) scale(1 1.06)" font-size="15.1" >wash</text>
<line x1="506" y1="534.8" x2="506" y2="539.3" stroke="#111" stroke-width="1.3" />
<path d="M503.8,538.3L508.2,538.3L506,542.5Z" fill="#111"/>
<line x1="555.2" y1="534.8" x2="555.2" y2="539.3" stroke="#111" stroke-width="1.3" />
<path d="M553.0,538.3L557.4000000000001,538.3L555.2,542.5Z" fill="#111"/>
<rect x="481.2" y="549.7" width="132.1" height="95.4" fill="#72a654"/>
<rect x="481.2" y="549.7" width="1.7" height="5.5" fill="#69a058"/>
<rect x="484.2" y="549.7" width="1.7" height="5.5" fill="#649862"/>
<rect x="485.7" y="549.7" width="1.7" height="5.5" fill="#69a058"/>
<rect x="487.2" y="549.7" width="1.7" height="5.5" fill="#7aab4f"/>
<rect x="488.7" y="549.7" width="1.7" height="5.5" fill="#69a058"/>
<rect x="491.7" y="549.7" width="1.7" height="5.5" fill="#649862"/>
<rect x="493.2" y="549.7" width="1.7" height="5.5" fill="#507688"/>
<rect x="497.7" y="549.7" width="1.7" height="5.5" fill="#7aab4f"/>
<rect x="499.2" y="549.7" width="1.7" height="5.5" fill="#46589b"/>
<rect x="500.7" y="549.7" width="1.7" height="5.5" fill="#69a058"/>
<rect x="503.7" y="549.7" width="1.7" height="5.5" fill="#69a058"/>
<rect x="506.7" y="549.7" width="1.7" height="5.5" fill="#7aab4f"/>
<rect x="509.7" y="549.7" width="1.7" height="5.5" fill="#7aab4f"/>
<rect x="514.2" y="549.7" width="3.2" height="5.5" fill="#7aab4f"/>
<rect x="517.2" y="549.7" width="1.7" height="5.5" fill="#69a058"/>
<rect x="518.7" y="549.7" width="1.7" height="5.5" fill="#649862"/>
<rect x="521.7" y="549.7" width="1.7" height="5.5" fill="#7aab4f"/>
<rect x="523.2" y="549.7" width="1.7" height="5.5" fill="#4b6792"/>
<rect x="524.7" y="549.7" width="1.7" height="5.5" fill="#649862"/>
<rect x="527.7" y="549.7" width="3.2" height="5.5" fill="#7aab4f"/>
<rect x="535.2" y="549.7" width="1.7" height="5.5" fill="#69a058"/>
<rect x="542.7" y="549.7" width="1.7" height="5.5" fill="#69a058"/>
<rect x="544.2" y="549.7" width="1.7" height="5.5" fill="#4b6792"/>
<rect x="545.7" y="549.7" width="1.7" height="5.5" fill="#7aab4f"/>
<rect x="548.8" y="549.7" width="3.2" height="5.5" fill="#69a058"/>
<rect x="551.8" y="549.7" width="1.7" height="5.5" fill="#649862"/>
<rect x="553.3" y="549.7" width="3.2" height="5.5" fill="#69a058"/>
<rect x="557.8" y="549.7" width="1.7" height="5.5" fill="#69a058"/>
<rect x="559.3" y="549.7" width="1.7" height="5.5" fill="#7aab4f"/>
<rect x="562.3" y="549.7" width="4.7" height="5.5" fill="#69a058"/>
<rect x="568.3" y="549.7" width="3.2" height="5.5" fill="#69a058"/>
<rect x="572.8" y="549.7" width="1.7" height="5.5" fill="#507688"/>
<rect x="574.3" y="549.7" width="4.7" height="5.5" fill="#7aab4f"/>
<rect x="580.3" y="549.7" width="1.7" height="5.5" fill="#4b6792"/>
<rect x="581.8" y="549.7" width="1.7" height="5.5" fill="#69a058"/>
<rect x="583.3" y="549.7" width="3.2" height="5.5" fill="#7aab4f"/>
<rect x="586.3" y="549.7" width="1.7" height="5.5" fill="#649862"/>
<rect x="587.8" y="549.7" width="1.7" height="5.5" fill="#69a058"/>
<rect x="590.8" y="549.7" width="1.7" height="5.5" fill="#69a058"/>
<rect x="593.8" y="549.7" width="3.2" height="5.5" fill="#69a058"/>
<rect x="596.8" y="549.7" width="1.7" height="5.5" fill="#7aab4f"/>
<rect x="599.8" y="549.7" width="1.7" height="5.5" fill="#69a058"/>
<rect x="602.8" y="549.7" width="1.7" height="5.5" fill="#414a9e"/>
<rect x="604.3" y="549.7" width="1.7" height="5.5" fill="#507688"/>
<rect x="605.8" y="549.7" width="1.7" height="5.5" fill="#4d6f8d"/>
<rect x="607.3" y="549.7" width="1.7" height="5.5" fill="#69a058"/>
<rect x="610.3" y="549.7" width="1.7" height="5.5" fill="#69a058"/>
<rect x="481.2" y="555.0" width="1.7" height="5.5" fill="#649862"/>
<rect x="484.2" y="555.0" width="1.7" height="5.5" fill="#7aab4f"/>
<rect x="485.7" y="555.0" width="1.7" height="5.5" fill="#69a058"/>
<rect x="488.7" y="555.0" width="1.7" height="5.5" fill="#69a058"/>
<rect x="490.2" y="555.0" width="1.7" height="5.5" fill="#649862"/>
<rect x="491.7" y="555.0" width="3.2" height="5.5" fill="#7aab4f"/>
<rect x="499.2" y="555.0" width="3.2" height="5.5" fill="#69a058"/>
<rect x="502.2" y="555.0" width="3.2" height="5.5" fill="#507688"/>
<rect x="505.2" y="555.0" width="1.7" height="5.5" fill="#69a058"/>
<rect x="506.7" y="555.0" width="1.7" height="5.5" fill="#7aab4f"/>
<rect x="508.2" y="555.0" width="1.7" height="5.5" fill="#547f7f"/>
<rect x="511.2" y="555.0" width="1.7" height="5.5" fill="#7aab4f"/>
<rect x="512.7" y="555.0" width="3.2" height="5.5" fill="#69a058"/>
<rect x="517.2" y="555.0" width="1.7" height="5.5" fill="#69a058"/>
<rect x="518.7" y="555.0" width="1.7" height="5.5" fill="#4b6792"/>
<rect x="520.2" y="555.0" width="1.7" height="5.5" fill="#7aab4f"/>
<rect x="521.7" y="555.0" width="1.7" height="5.5" fill="#69a058"/>
<rect x="526.2" y="555.0" width="1.7" height="5.5" fill="#69a058"/>
<rect x="529.2" y="555.0" width="1.7" height="5.5" fill="#69a058"/>
<rect x="536.7" y="555.0" width="1.7" height="5.5" fill="#649862"/>
<rect x="538.2" y="555.0" width="1.7" height="5.5" fill="#69a058"/>
<rect x="539.7" y="555.0" width="1.7" height="5.5" fill="#7aab4f"/>
<rect x="542.7" y="555.0" width="1.7" height="5.5" fill="#7aab4f"/>
<rect x="545.7" y="555.0" width="1.7" height="5.5" fill="#69a058"/>
<rect x="550.3" y="555.0" width="1.7" height="5.5" fill="#7aab4f"/>
<rect x="551.8" y="555.0" width="1.7" height="5.5" fill="#69a058"/>
<rect x="553.3" y="555.0" width="3.2" height="5.5" fill="#7aab4f"/>
<rect x="556.3" y="555.0" width="1.7" height="5.5" fill="#aeca48"/>
<rect x="557.8" y="555.0" width="1.7" height="5.5" fill="#b9d048"/>
<rect x="559.3" y="555.0" width="1.7" height="5.5" fill="#97bc46"/>
<rect x="560.8" y="555.0" width="1.7" height="5.5" fill="#b9d048"/>
<rect x="562.3" y="555.0" width="6.2" height="5.5" fill="#aeca48"/>
<rect x="568.3" y="555.0" width="1.7" height="5.5" fill="#a3c347"/>
<rect x="569.8" y="555.0" width="1.7" height="5.5" fill="#aeca48"/>
<rect x="571.3" y="555.0" width="1.7" height="5.5" fill="#97bc46"/>
<rect x="572.8" y="555.0" width="6.2" height="5.5" fill="#aeca48"/>
<rect x="578.8" y="555.0" width="3.2" height="5.5" fill="#b9d048"/>
<rect x="581.8" y="555.0" width="1.7" height="5.5" fill="#a3c347"/>
<rect x="583.3" y="555.0" width="1.7" height="5.5" fill="#b9d048"/>
<rect x="584.8" y="555.0" width="1.7" height="5.5" fill="#aeca48"/>
<rect x="586.3" y="555.0" width="1.7" height="5.5" fill="#97bc46"/>
<rect x="587.8" y="555.0" width="3.2" height="5.5" fill="#a3c347"/>
<rect x="590.8" y="555.0" width="1.7" height="5.5" fill="#97bc46"/>
<rect x="592.3" y="555.0" width="1.7" height="5.5" fill="#aeca48"/>
<rect x="593.8" y="555.0" width="1.7" height="5.5" fill="#b9d048"/>
<rect x="595.3" y="555.0" width="1.7" height="5.5" fill="#a3c347"/>
<rect x="596.8" y="555.0" width="1.7" height="5.5" fill="#b9d048"/>
<rect x="598.3" y="555.0" width="1.7" height="5.5" fill="#aeca48"/>
<rect x="599.8" y="555.0" width="1.7" height="5.5" fill="#a3c347"/>
<rect x="601.3" y="555.0" width="1.7" height="5.5" fill="#b9d048"/>
<rect x="602.8" y="555.0" width="1.7" height="5.5" fill="#aeca48"/>
<rect x="604.3" y="555.0" width="1.7" height="5.5" fill="#b9d048"/>
<rect x="605.8" y="555.0" width="1.7" height="5.5" fill="#aeca48"/>
<rect x="607.3" y="555.0" width="1.7" height="5.5" fill="#b9d048"/>
<rect x="608.8" y="555.0" width="1.7" height="5.5" fill="#a3c347"/>
<rect x="610.3" y="555.0" width="3.2" height="5.5" fill="#b9d048"/>
<rect x="481.2" y="560.3" width="1.7" height="5.5" fill="#7aab4f"/>
<rect x="484.2" y="560.3" width="1.7" height="5.5" fill="#649862"/>
<rect x="490.2" y="560.3" width="3.2" height="5.5" fill="#69a058"/>
<rect x="494.7" y="560.3" width="1.7" height="5.5" fill="#69a058"/>
<rect x="497.7" y="560.3" width="1.7" height="5.5" fill="#69a058"/>
<rect x="499.2" y="560.3" width="1.7" height="5.5" fill="#649862"/>
<rect x="500.7" y="560.3" width="1.7" height="5.5" fill="#434d9f"/>
<rect x="503.7" y="560.3" width="3.2" height="5.5" fill="#649862"/>
<rect x="506.7" y="560.3" width="1.7" height="5.5" fill="#495f96"/>
<rect x="508.2" y="560.3" width="1.7" height="5.5" fill="#4b6792"/>
<rect x="509.7" y="560.3" width="1.7" height="5.5" fill="#598775"/>
<rect x="511.2" y="560.3" width="1.7" height="5.5" fill="#507688"/>
<rect x="512.7" y="560.3" width="1.7" height="5.5" fill="#649862"/>
<rect x="514.2" y="560.3" width="1.7" height="5.5" fill="#598775"/>
<rect x="515.7" y="560.3" width="1.7" height="5.5" fill="#649862"/>
<rect x="517.2" y="560.3" width="1.7" height="5.5" fill="#46589b"/>
<rect x="518.7" y="560.3" width="1.7" height="5.5" fill="#4b6792"/>
<rect x="520.2" y="560.3" width="1.7" height="5.5" fill="#46589b"/>
<rect x="521.7" y="560.3" width="1.7" height="5.5" fill="#507688"/>
<rect x="523.2" y="560.3" width="1.7" height="5.5" fill="#4d6f8d"/>
<rect x="524.7" y="560.3" width="1.7" height="5.5" fill="#495f96"/>
<rect x="526.2" y="560.3" width="1.7" height="5.5" fill="#547f7f"/>
<rect x="527.7" y="560.3" width="1.7" height="5.5" fill="#495f96"/>
<rect x="529.2" y="560.3" width="1.7" height="5.5" fill="#4d6f8d"/>
<rect x="530.7" y="560.3" width="1.7" height="5.5" fill="#4b6792"/>
<rect x="532.2" y="560.3" width="1.7" height="5.5" fill="#5f8f6c"/>
<rect x="533.7" y="560.3" width="1.7" height="5.5" fill="#507688"/>
<rect x="535.2" y="560.3" width="1.7" height="5.5" fill="#4b6792"/>
<rect x="536.7" y="560.3" width="1.7" height="5.5" fill="#495f96"/>
<rect x="538.2" y="560.3" width="1.7" height="5.5" fill="#507688"/>
<rect x="539.7" y="560.3" width="1.7" height="5.5" fill="#547f7f"/>
<rect x="541.2" y="560.3" width="1.7" height="5.5" fill="#598775"/>
<rect x="542.7" y="560.3" width="1.7" height="5.5" fill="#649862"/>
<rect x="544.2" y="560.3" width="1.7" height="5.5" fill="#5f8f6c"/>
<rect x="545.7" y="560.3" width="1.7" height="5.5" fill="#4b6792"/>
<rect x="547.2" y="560.3" width="1.7" height="5.5" fill="#495f96"/>
<rect x="548.8" y="560.3" width="1.7" height="5.5" fill="#598775"/>
<rect x="550.3" y="560.3" width="1.7" height="5.5" fill="#5f8f6c"/>
<rect x="551.8" y="560.3" width="1.7" height="5.5" fill="#507688"/>
<rect x="553.3" y="560.3" width="1.7" height="5.5" fill="#5f8f6c"/>
<rect x="554.8" y="560.3" width="1.7" height="5.5" fill="#547f7f"/>
<rect x="556.3" y="560.3" width="3.2" height="5.5" fill="#4b6792"/>
<rect x="559.3" y="560.3" width="1.7" height="5.5" fill="#46589b"/>
<rect x="560.8" y="560.3" width="1.7" height="5.5" fill="#547f7f"/>
<rect x="562.3" y="560.3" width="3.2" height="5.5" fill="#5f8f6c"/>
<rect x="565.3" y="560.3" width="1.7" height="5.5" fill="#507688"/>
<rect x="566.8" y="560.3" width="1.7" height="5.5" fill="#598775"/>
<rect x="568.3" y="560.3" width="1.7" height="5.5" fill="#649862"/>
<rect x="569.8" y="560.3" width="1.7" height="5.5" fill="#5f8f6c"/>
<rect x="571.3" y="560.3" width="1.7" height="5.5" fill="#547f7f"/>
<rect x="572.8" y="560.3" width="3.2" height="5.5" fill="#507688"/>
<rect x="575.8" y="560.3" width="3.2" height="5.5" fill="#4b6792"/>
<rect x="578.8" y="560.3" width="1.7" height="5.5" fill="#598775"/>
<rect x="580.3" y="560.3" width="1.7" height="5.5" fill="#649862"/>
<rect x="581.8" y="560.3" width="1.7" height="5.5" fill="#547f7f"/>
<rect x="583.3" y="560.3" width="3.2" height="5.5" fill="#4d6f8d"/>
<rect x="586.3" y="560.3" width="1.7" height="5.5" fill="#507688"/>
<rect x="587.8" y="560.3" width="1.7" height="5.5" fill="#5f8f6c"/>
<rect x="589.3" y="560.3" width="1.7" height="5.5" fill="#507688"/>
<rect x="590.8" y="560.3" width="1.7" height="5.5" fill="#649862"/>
<rect x="592.3" y="560.3" width="1.7" height="5.5" fill="#495f96"/>
<rect x="593.8" y="560.3" width="1.7" height="5.5" fill="#4d6f8d"/>
<rect x="595.3" y="560.3" width="1.7" height="5.5" fill="#507688"/>
<rect x="596.8" y="560.3" width="1.7" height="5.5" fill="#4d6f8d"/>
<rect x="598.3" y="560.3" width="3.2" height="5.5" fill="#5f8f6c"/>
<rect x="601.3" y="560.3" width="1.7" height="5.5" fill="#649862"/>
<rect x="602.8" y="560.3" width="1.7" height="5.5" fill="#547f7f"/>
<rect x="604.3" y="560.3" width="1.7" height="5.5" fill="#46589b"/>
<rect x="605.8" y="560.3" width="3.2" height="5.5" fill="#547f7f"/>
<rect x="608.8" y="560.3" width="1.7" height="5.5" fill="#507688"/>
<rect x="610.3" y="560.3" width="1.7" height="5.5" fill="#4b6792"/>
<rect x="611.8" y="560.3" width="1.7" height="5.5" fill="#598775"/>
<rect x="481.2" y="565.6" width="1.7" height="5.5" fill="#7aab4f"/>
<rect x="482.7" y="565.6" width="1.7" height="5.5" fill="#69a058"/>
<rect x="484.2" y="565.6" width="6.2" height="5.5" fill="#7aab4f"/>
<rect x="490.2" y="565.6" width="4.7" height="5.5" fill="#69a058"/>
<rect x="497.7" y="565.6" width="3.2" height="5.5" fill="#69a058"/>
<rect x="500.7" y="565.6" width="1.7" height="5.5" fill="#46589b"/>
<rect x="502.2" y="565.6" width="1.7" height="5.5" fill="#7aab4f"/>
<rect x="503.7" y="565.6" width="1.7" height="5.5" fill="#69a058"/>
<rect x="506.7" y="565.6" width="4.7" height="5.5" fill="#7aab4f"/>
<rect x="511.2" y="565.6" width="4.7" height="5.5" fill="#69a058"/>
<rect x="515.7" y="565.6" width="1.7" height="5.5" fill="#649862"/>
<rect x="517.2" y="565.6" width="1.7" height="5.5" fill="#7aab4f"/>
<rect x="518.7" y="565.6" width="1.7" height="5.5" fill="#69a058"/>
<rect x="521.7" y="565.6" width="1.7" height="5.5" fill="#69a058"/>
<rect x="526.2" y="565.6" width="1.7" height="5.5" fill="#69a058"/>
<rect x="527.7" y="565.6" width="3.2" height="5.5" fill="#7aab4f"/>
<rect x="530.7" y="565.6" width="1.7" height="5.5" fill="#547f7f"/>
<rect x="533.7" y="565.6" width="1.7" height="5.5" fill="#649862"/>
<rect x="535.2" y="565.6" width="1.7" height="5.5" fill="#7aab4f"/>
<rect x="536.7" y="565.6" width="1.7" height="5.5" fill="#4d6f8d"/>
<rect x="539.7" y="565.6" width="3.2" height="5.5" fill="#69a058"/>
<rect x="542.7" y="565.6" width="3.2" height="5.5" fill="#7aab4f"/>
<rect x="545.7" y="565.6" width="1.7" height="5.5" fill="#69a058"/>
<rect x="547.2" y="565.6" width="1.7" height="5.5" fill="#7aab4f"/>
<rect x="548.8" y="565.6" width="1.7" height="5.5" fill="#69a058"/>
<rect x="551.8" y="565.6" width="1.7" height="5.5" fill="#7aab4f"/>
<rect x="553.3" y="565.6" width="1.7" height="5.5" fill="#4b6792"/>
<rect x="554.8" y="565.6" width="3.2" height="5.5" fill="#7aab4f"/>
<rect x="557.8" y="565.6" width="1.7" height="5.5" fill="#69a058"/>
<rect x="559.3" y="565.6" width="1.7" height="5.5" fill="#7aab4f"/>
<rect x="565.3" y="565.6" width="1.7" height="5.5" fill="#69a058"/>
<rect x="568.3" y="565.6" width="1.7" height="5.5" fill="#69a058"/>
<rect x="571.3" y="565.6" width="3.2" height="5.5" fill="#7aab4f"/>
<rect x="574.3" y="565.6" width="1.7" height="5.5" fill="#69a058"/>
<rect x="577.3" y="565.6" width="1.7" height="5.5" fill="#69a058"/>
<rect x="578.8" y="565.6" width="1.7" height="5.5" fill="#4450a0"/>
<rect x="580.3" y="565.6" width="1.7" height="5.5" fill="#649862"/>
<rect x="581.8" y="565.6" width="1.7" height="5.5" fill="#69a058"/>
<rect x="584.8" y="565.6" width="1.7" height="5.5" fill="#547f7f"/>
<rect x="586.3" y="565.6" width="1.7" height="5.5" fill="#4b6792"/>
<rect x="587.8" y="565.6" width="1.7" height="5.5" fill="#7aab4f"/>
<rect x="589.3" y="565.6" width="1.7" height="5.5" fill="#649862"/>
<rect x="590.8" y="565.6" width="1.7" height="5.5" fill="#7aab4f"/>
<rect x="593.8" y="565.6" width="1.7" height="5.5" fill="#69a058"/>
<rect x="595.3" y="565.6" width="1.7" height="5.5" fill="#598775"/>
<rect x="598.3" y="565.6" width="1.7" height="5.5" fill="#69a058"/>
<rect x="602.8" y="565.6" width="1.7" height="5.5" fill="#69a058"/>
<rect x="605.8" y="565.6" width="3.2" height="5.5" fill="#7aab4f"/>
<rect x="610.3" y="565.6" width="3.2" height="5.5" fill="#7aab4f"/>
<rect x="481.2" y="570.9" width="1.7" height="5.5" fill="#69a058"/>
<rect x="482.7" y="570.9" width="1.7" height="5.5" fill="#649862"/>
<rect x="484.2" y="570.9" width="1.7" height="5.5" fill="#7aab4f"/>
<rect x="485.7" y="570.9" width="4.7" height="5.5" fill="#69a058"/>
<rect x="494.7" y="570.9" width="1.7" height="5.5" fill="#69a058"/>
<rect x="497.7" y="570.9" width="1.7" height="5.5" fill="#7aab4f"/>
<rect x="502.2" y="570.9" width="1.7" height="5.5" fill="#7aab4f"/>
<rect x="505.2" y="570.9" width="3.2" height="5.5" fill="#69a058"/>
<rect x="511.2" y="570.9" width="6.2" height="5.5" fill="#7aab4f"/>
<rect x="517.2" y="570.9" width="1.7" height="5.5" fill="#4d6f8d"/>
<rect x="518.7" y="570.9" width="1.7" height="5.5" fill="#7aab4f"/>
<rect x="524.7" y="570.9" width="1.7" height="5.5" fill="#69a058"/>
<rect x="526.2" y="570.9" width="1.7" height="5.5" fill="#aeca48"/>
<rect x="527.7" y="570.9" width="1.7" height="5.5" fill="#b9d048"/>
<rect x="529.2" y="570.9" width="1.7" height="5.5" fill="#aeca48"/>
<rect x="530.7" y="570.9" width="1.7" height="5.5" fill="#b9d048"/>
<rect x="532.2" y="570.9" width="1.7" height="5.5" fill="#a3c347"/>
<rect x="533.7" y="570.9" width="1.7" height="5.5" fill="#b9d048"/>
<rect x="535.2" y="570.9" width="1.7" height="5.5" fill="#aeca48"/>
<rect x="536.7" y="570.9" width="1.7" height="5.5" fill="#c6d44c"/>
<rect x="538.2" y="570.9" width="3.2" height="5.5" fill="#a3c347"/>
<rect x="541.2" y="570.9" width="1.7" height="5.5" fill="#7aab4f"/>
<rect x="542.7" y="570.9" width="4.7" height="5.5" fill="#69a058"/>
<rect x="548.8" y="570.9" width="1.7" height="5.5" fill="#69a058"/>
<rect x="551.8" y="570.9" width="1.7" height="5.5" fill="#7aab4f"/>
<rect x="554.8" y="570.9" width="1.7" height="5.5" fill="#69a058"/>
<rect x="556.3" y="570.9" width="3.2" height="5.5" fill="#c6d44c"/>
<rect x="559.3" y="570.9" width="1.7" height="5.5" fill="#b9d048"/>
<rect x="560.8" y="570.9" width="1.7" height="5.5" fill="#c6d44c"/>
<rect x="562.3" y="570.9" width="6.2" height="5.5" fill="#b9d048"/>
<rect x="568.3" y="570.9" width="1.7" height="5.5" fill="#a3c347"/>
<rect x="569.8" y="570.9" width="1.7" height="5.5" fill="#aeca48"/>
<rect x="571.3" y="570.9" width="1.7" height="5.5" fill="#c6d44c"/>
<rect x="572.8" y="570.9" width="1.7" height="5.5" fill="#aeca48"/>
<rect x="574.3" y="570.9" width="1.7" height="5.5" fill="#b9d048"/>
<rect x="575.8" y="570.9" width="1.7" height="5.5" fill="#aeca48"/>
<rect x="577.3" y="570.9" width="3.2" height="5.5" fill="#b9d048"/>
<rect x="580.3" y="570.9" width="3.2" height="5.5" fill="#c6d44c"/>
<rect x="583.3" y="570.9" width="1.7" height="5.5" fill="#b9d048"/>
<rect x="584.8" y="570.9" width="6.2" height="5.5" fill="#aeca48"/>
<rect x="590.8" y="570.9" width="3.2" height="5.5" fill="#b9d048"/>
<rect x="593.8" y="570.9" width="6.2" height="5.5" fill="#aeca48"/>
<rect x="599.8" y="570.9" width="1.7" height="5.5" fill="#b9d048"/>
<rect x="601.3" y="570.9" width="1.7" height="5.5" fill="#aeca48"/>
<rect x="602.8" y="570.9" width="1.7" height="5.5" fill="#c6d44c"/>
<rect x="604.3" y="570.9" width="1.7" height="5.5" fill="#b9d048"/>
<rect x="605.8" y="570.9" width="1.7" height="5.5" fill="#aeca48"/>
<rect x="607.3" y="570.9" width="1.7" height="5.5" fill="#b9d048"/>
<rect x="608.8" y="570.9" width="1.7" height="5.5" fill="#aeca48"/>
<rect x="610.3" y="570.9" width="3.2" height="5.5" fill="#c6d44c"/>
<rect x="481.2" y="576.2" width="3.2" height="5.5" fill="#69a058"/>
<rect x="485.7" y="576.2" width="4.7" height="5.5" fill="#69a058"/>
<rect x="491.7" y="576.2" width="7.7" height="5.5" fill="#7aab4f"/>
<rect x="499.2" y="576.2" width="3.2" height="5.5" fill="#69a058"/>
<rect x="502.2" y="576.2" width="1.7" height="5.5" fill="#547f7f"/>
<rect x="503.7" y="576.2" width="1.7" height="5.5" fill="#69a058"/>
<rect x="505.2" y="576.2" width="1.7" height="5.5" fill="#507688"/>
<rect x="506.7" y="576.2" width="4.7" height="5.5" fill="#69a058"/>
<rect x="512.7" y="576.2" width="1.7" height="5.5" fill="#69a058"/>
<rect x="514.2" y="576.2" width="1.7" height="5.5" fill="#7aab4f"/>
<rect x="515.7" y="576.2" width="1.7" height="5.5" fill="#69a058"/>
<rect x="517.2" y="576.2" width="1.7" height="5.5" fill="#7aab4f"/>
<rect x="520.2" y="576.2" width="1.7" height="5.5" fill="#507688"/>
<rect x="521.7" y="576.2" width="3.2" height="5.5" fill="#547f7f"/>
<rect x="524.7" y="576.2" width="1.7" height="5.5" fill="#7aab4f"/>
<rect x="526.2" y="576.2" width="1.7" height="5.5" fill="#649862"/>
<rect x="527.7" y="576.2" width="1.7" height="5.5" fill="#598775"/>
<rect x="529.2" y="576.2" width="3.2" height="5.5" fill="#69a058"/>
<rect x="532.2" y="576.2" width="1.7" height="5.5" fill="#507688"/>
<rect x="535.2" y="576.2" width="1.7" height="5.5" fill="#598775"/>
<rect x="536.7" y="576.2" width="1.7" height="5.5" fill="#83b04a"/>
<rect x="538.2" y="576.2" width="1.7" height="5.5" fill="#547f7f"/>
<rect x="539.7" y="576.2" width="3.2" height="5.5" fill="#598775"/>
<rect x="542.7" y="576.2" width="1.7" height="5.5" fill="#7aab4f"/>
<rect x="545.7" y="576.2" width="1.7" height="5.5" fill="#649862"/>
<rect x="547.2" y="576.2" width="1.7" height="5.5" fill="#547f7f"/>
<rect x="548.8" y="576.2" width="1.7" height="5.5" fill="#5f8f6c"/>
<rect x="550.3" y="576.2" width="1.7" height="5.5" fill="#69a058"/>
<rect x="551.8" y="576.2" width="1.7" height="5.5" fill="#507688"/>
<rect x="553.3" y="576.2" width="4.7" height="5.5" fill="#7aab4f"/>
<rect x="557.8" y="576.2" width="3.2" height="5.5" fill="#69a058"/>
<rect x="560.8" y="576.2" width="1.7" height="5.5" fill="#83b04a"/>
<rect x="562.3" y="576.2" width="3.2" height="5.5" fill="#598775"/>
<rect x="565.3" y="576.2" width="3.2" height="5.5" fill="#547f7f"/>
<rect x="569.8" y="576.2" width="1.7" height="5.5" fill="#547f7f"/>
<rect x="572.8" y="576.2" width="1.7" height="5.5" fill="#5f8f6c"/>
<rect x="574.3" y="576.2" width="1.7" height="5.5" fill="#7aab4f"/>
<rect x="577.3" y="576.2" width="1.7" height="5.5" fill="#69a058"/>
<rect x="578.8" y="576.2" width="1.7" height="5.5" fill="#7aab4f"/>
<rect x="580.3" y="576.2" width="1.7" height="5.5" fill="#507688"/>
<rect x="581.8" y="576.2" width="1.7" height="5.5" fill="#598775"/>
<rect x="583.3" y="576.2" width="3.2" height="5.5" fill="#5f8f6c"/>
<rect x="586.3" y="576.2" width="1.7" height="5.5" fill="#69a058"/>
<rect x="587.8" y="576.2" width="1.7" height="5.5" fill="#7aab4f"/>
<rect x="590.8" y="576.2" width="1.7" height="5.5" fill="#7aab4f"/>
<rect x="592.3" y="576.2" width="1.7" height="5.5" fill="#69a058"/>
<rect x="593.8" y="576.2" width="1.7" height="5.5" fill="#5f8f6c"/>
<rect x="595.3" y="576.2" width="1.7" height="5.5" fill="#649862"/>
<rect x="599.8" y="576.2" width="3.2" height="5.5" fill="#5f8f6c"/>
<rect x="602.8" y="576.2" width="1.7" height="5.5" fill="#69a058"/>
<rect x="604.3" y="576.2" width="1.7" height="5.5" fill="#598775"/>
<rect x="605.8" y="576.2" width="1.7" height="5.5" fill="#7aab4f"/>
<rect x="607.3" y="576.2" width="1.7" height="5.5" fill="#507688"/>
<rect x="608.8" y="576.2" width="1.7" height="5.5" fill="#69a058"/>
<rect x="610.3" y="576.2" width="1.7" height="5.5" fill="#649862"/>
<rect x="611.8" y="576.2" width="1.7" height="5.5" fill="#547f7f"/>
<rect x="482.7" y="581.5" width="4.7" height="5.5" fill="#7aab4f"/>
<rect x="487.2" y="581.5" width="3.2" height="5.5" fill="#69a058"/>
<rect x="490.2" y="581.5" width="3.2" height="5.5" fill="#7aab4f"/>
<rect x="496.2" y="581.5" width="1.7" height="5.5" fill="#7aab4f"/>
<rect x="497.7" y="581.5" width="1.7" height="5.5" fill="#69a058"/>
<rect x="503.7" y="581.5" width="3.2" height="5.5" fill="#7aab4f"/>
<rect x="506.7" y="581.5" width="1.7" height="5.5" fill="#547f7f"/>
<rect x="511.2" y="581.5" width="1.7" height="5.5" fill="#69a058"/>
<rect x="515.7" y="581.5" width="1.7" height="5.5" fill="#7aab4f"/>
<rect x="517.2" y="581.5" width="1.7" height="5.5" fill="#4d6f8d"/>
<rect x="518.7" y="581.5" width="1.7" height="5.5" fill="#495f96"/>
<rect x="521.7" y="581.5" width="1.7" height="5.5" fill="#69a058"/>
<rect x="524.7" y="581.5" width="3.2" height="5.5" fill="#507688"/>
<rect x="527.7" y="581.5" width="1.7" height="5.5" fill="#598775"/>
<rect x="529.2" y="581.5" width="1.7" height="5.5" fill="#5f8f6c"/>
<rect x="530.7" y="581.5" width="1.7" height="5.5" fill="#69a058"/>
<rect x="532.2" y="581.5" width="1.7" height="5.5" fill="#547f7f"/>
<rect x="533.7" y="581.5" width="1.7" height="5.5" fill="#69a058"/>
<rect x="535.2" y="581.5" width="1.7" height="5.5" fill="#649862"/>
<rect x="536.7" y="581.5" width="1.7" height="5.5" fill="#547f7f"/>
<rect x="538.2" y="581.5" width="1.7" height="5.5" fill="#69a058"/>
<rect x="539.7" y="581.5" width="1.7" height="5.5" fill="#507688"/>
<rect x="541.2" y="581.5" width="1.7" height="5.5" fill="#649862"/>
<rect x="542.7" y="581.5" width="1.7" height="5.5" fill="#547f7f"/>
<rect x="544.2" y="581.5" width="1.7" height="5.5" fill="#4d6f8d"/>
<rect x="545.7" y="581.5" width="3.2" height="5.5" fill="#5f8f6c"/>
<rect x="548.8" y="581.5" width="1.7" height="5.5" fill="#649862"/>
<rect x="550.3" y="581.5" width="1.7" height="5.5" fill="#598775"/>
<rect x="553.3" y="581.5" width="1.7" height="5.5" fill="#69a058"/>
<rect x="554.8" y="581.5" width="1.7" height="5.5" fill="#507688"/>
<rect x="556.3" y="581.5" width="1.7" height="5.5" fill="#4d6f8d"/>
<rect x="557.8" y="581.5" width="1.7" height="5.5" fill="#7aab4f"/>
<rect x="559.3" y="581.5" width="1.7" height="5.5" fill="#598775"/>
<rect x="560.8" y="581.5" width="3.2" height="5.5" fill="#507688"/>
<rect x="563.8" y="581.5" width="1.7" height="5.5" fill="#69a058"/>
<rect x="565.3" y="581.5" width="1.7" height="5.5" fill="#507688"/>
<rect x="566.8" y="581.5" width="1.7" height="5.5" fill="#598775"/>
<rect x="568.3" y="581.5" width="1.7" height="5.5" fill="#649862"/>
<rect x="569.8" y="581.5" width="1.7" height="5.5" fill="#598775"/>
<rect x="571.3" y="581.5" width="1.7" height="5.5" fill="#649862"/>
<rect x="572.8" y="581.5" width="1.7" height="5.5" fill="#7aab4f"/>
<rect x="574.3" y="581.5" width="1.7" height="5.5" fill="#69a058"/>
<rect x="575.8" y="581.5" width="3.2" height="5.5" fill="#649862"/>
<rect x="578.8" y="581.5" width="1.7" height="5.5" fill="#547f7f"/>
<rect x="580.3" y="581.5" width="4.7" height="5.5" fill="#649862"/>
<rect x="584.8" y="581.5" width="1.7" height="5.5" fill="#5f8f6c"/>
<rect x="586.3" y="581.5" width="1.7" height="5.5" fill="#7aab4f"/>
<rect x="589.3" y="581.5" width="1.7" height="5.5" fill="#69a058"/>
<rect x="592.3" y="581.5" width="1.7" height="5.5" fill="#7aab4f"/>
<rect x="595.3" y="581.5" width="1.7" height="5.5" fill="#69a058"/>
<rect x="598.3" y="581.5" width="1.7" height="5.5" fill="#7aab4f"/>
<rect x="601.3" y="581.5" width="1.7" height="5.5" fill="#649862"/>
<rect x="602.8" y="581.5" width="3.2" height="5.5" fill="#69a058"/>
<rect x="605.8" y="581.5" width="1.7" height="5.5" fill="#7aab4f"/>
<rect x="607.3" y="581.5" width="1.7" height="5.5" fill="#69a058"/>
<rect x="608.8" y="581.5" width="3.2" height="5.5" fill="#7aab4f"/>
<rect x="611.8" y="581.5" width="1.7" height="5.5" fill="#46589b"/>
<rect x="481.2" y="586.8" width="1.7" height="5.5" fill="#7aab4f"/>
<rect x="482.7" y="586.8" width="1.7" height="5.5" fill="#495f96"/>
<rect x="484.2" y="586.8" width="1.7" height="5.5" fill="#598775"/>
<rect x="485.7" y="586.8" width="1.7" height="5.5" fill="#4d6f8d"/>
<rect x="487.2" y="586.8" width="1.7" height="5.5" fill="#649862"/>
<rect x="488.7" y="586.8" width="1.7" height="5.5" fill="#7aab4f"/>
<rect x="490.2" y="586.8" width="1.7" height="5.5" fill="#69a058"/>
<rect x="491.7" y="586.8" width="1.7" height="5.5" fill="#414a9e"/>
<rect x="493.2" y="586.8" width="1.7" height="5.5" fill="#7aab4f"/>
<rect x="496.2" y="586.8" width="6.2" height="5.5" fill="#7aab4f"/>
<rect x="502.2" y="586.8" width="3.2" height="5.5" fill="#69a058"/>
<rect x="505.2" y="586.8" width="1.7" height="5.5" fill="#7aab4f"/>
<rect x="508.2" y="586.8" width="1.7" height="5.5" fill="#69a058"/>
<rect x="509.7" y="586.8" width="3.2" height="5.5" fill="#7aab4f"/>
<rect x="514.2" y="586.8" width="3.2" height="5.5" fill="#69a058"/>
<rect x="517.2" y="586.8" width="1.7" height="5.5" fill="#547f7f"/>
<rect x="518.7" y="586.8" width="1.7" height="5.5" fill="#507688"/>
<rect x="520.2" y="586.8" width="1.7" height="5.5" fill="#4d6f8d"/>
<rect x="521.7" y="586.8" width="4.7" height="5.5" fill="#7aab4f"/>
<rect x="526.2" y="586.8" width="1.7" height="5.5" fill="#69a058"/>
<rect x="529.2" y="586.8" width="3.2" height="5.5" fill="#69a058"/>
<rect x="533.7" y="586.8" width="1.7" height="5.5" fill="#69a058"/>
<rect x="535.2" y="586.8" width="1.7" height="5.5" fill="#7aab4f"/>
<rect x="536.7" y="586.8" width="3.2" height="5.5" fill="#69a058"/>
<rect x="541.2" y="586.8" width="1.7" height="5.5" fill="#69a058"/>
<rect x="544.2" y="586.8" width="1.7" height="5.5" fill="#69a058"/>
<rect x="545.7" y="586.8" width="1.7" height="5.5" fill="#46589b"/>
<rect x="547.2" y="586.8" width="1.7" height="5.5" fill="#7aab4f"/>
<rect x="548.8" y="586.8" width="1.7" height="5.5" fill="#4450a0"/>
<rect x="550.3" y="586.8" width="1.7" height="5.5" fill="#4d6f8d"/>
<rect x="551.8" y="586.8" width="1.7" height="5.5" fill="#69a058"/>
<rect x="553.3" y="586.8" width="1.7" height="5.5" fill="#aeca48"/>
<rect x="554.8" y="586.8" width="1.7" height="5.5" fill="#b9d048"/>
<rect x="556.3" y="586.8" width="1.7" height="5.5" fill="#a3c347"/>
<rect x="557.8" y="586.8" width="1.7" height="5.5" fill="#b9d048"/>
<rect x="559.3" y="586.8" width="1.7" height="5.5" fill="#a3c347"/>
<rect x="560.8" y="586.8" width="3.2" height="5.5" fill="#b9d048"/>
<rect x="563.8" y="586.8" width="3.2" height="5.5" fill="#a3c347"/>
<rect x="566.8" y="586.8" width="1.7" height="5.5" fill="#b9d048"/>
<rect x="568.3" y="586.8" width="1.7" height="5.5" fill="#aeca48"/>
<rect x="569.8" y="586.8" width="1.7" height="5.5" fill="#b9d048"/>
<rect x="571.3" y="586.8" width="1.7" height="5.5" fill="#a3c347"/>
<rect x="572.8" y="586.8" width="1.7" height="5.5" fill="#b9d048"/>
<rect x="574.3" y="586.8" width="3.2" height="5.5" fill="#aeca48"/>
<rect x="577.3" y="586.8" width="3.2" height="5.5" fill="#b9d048"/>
<rect x="580.3" y="586.8" width="4.7" height="5.5" fill="#aeca48"/>
<rect x="584.8" y="586.8" width="3.2" height="5.5" fill="#a3c347"/>
<rect x="587.8" y="586.8" width="3.2" height="5.5" fill="#db4c2d"/>
<rect x="590.8" y="586.8" width="3.2" height="5.5" fill="#edd052"/>
<rect x="593.8" y="586.8" width="4.7" height="5.5" fill="#aeca48"/>
<rect x="598.3" y="586.8" width="1.7" height="5.5" fill="#b9d048"/>
<rect x="599.8" y="586.8" width="1.7" height="5.5" fill="#aeca48"/>
<rect x="601.3" y="586.8" width="1.7" height="5.5" fill="#b9d048"/>
<rect x="602.8" y="586.8" width="1.7" height="5.5" fill="#a3c347"/>
<rect x="604.3" y="586.8" width="1.7" height="5.5" fill="#b9d048"/>
<rect x="605.8" y="586.8" width="1.7" height="5.5" fill="#aeca48"/>
<rect x="607.3" y="586.8" width="1.7" height="5.5" fill="#b9d048"/>
<rect x="608.8" y="586.8" width="1.7" height="5.5" fill="#aeca48"/>
<rect x="610.3" y="586.8" width="1.7" height="5.5" fill="#b9d048"/>
<rect x="611.8" y="586.8" width="1.7" height="5.5" fill="#aeca48"/>
<rect x="481.2" y="592.1" width="3.2" height="5.5" fill="#69a058"/>
<rect x="484.2" y="592.1" width="3.2" height="5.5" fill="#7aab4f"/>
<rect x="487.2" y="592.1" width="1.7" height="5.5" fill="#69a058"/>
<rect x="491.7" y="592.1" width="1.7" height="5.5" fill="#649862"/>
<rect x="493.2" y="592.1" width="1.7" height="5.5" fill="#7aab4f"/>
<rect x="494.7" y="592.1" width="1.7" height="5.5" fill="#69a058"/>
<rect x="496.2" y="592.1" width="1.7" height="5.5" fill="#7aab4f"/>
<rect x="499.2" y="592.1" width="1.7" height="5.5" fill="#46589b"/>
<rect x="500.7" y="592.1" width="1.7" height="5.5" fill="#649862"/>
<rect x="502.2" y="592.1" width="3.2" height="5.5" fill="#69a058"/>
<rect x="505.2" y="592.1" width="1.7" height="5.5" fill="#495f96"/>
<rect x="506.7" y="592.1" width="1.7" height="5.5" fill="#649862"/>
<rect x="509.7" y="592.1" width="1.7" height="5.5" fill="#7aab4f"/>
<rect x="511.2" y="592.1" width="3.2" height="5.5" fill="#69a058"/>
<rect x="517.2" y="592.1" width="1.7" height="5.5" fill="#7aab4f"/>
<rect x="518.7" y="592.1" width="1.7" height="5.5" fill="#69a058"/>
<rect x="520.2" y="592.1" width="1.7" height="5.5" fill="#4450a0"/>
<rect x="521.7" y="592.1" width="1.7" height="5.5" fill="#7aab4f"/>
<rect x="527.7" y="592.1" width="1.7" height="5.5" fill="#69a058"/>
<rect x="529.2" y="592.1" width="4.7" height="5.5" fill="#7aab4f"/>
<rect x="533.7" y="592.1" width="1.7" height="5.5" fill="#649862"/>
<rect x="535.2" y="592.1" width="1.7" height="5.5" fill="#4450a0"/>
<rect x="536.7" y="592.1" width="1.7" height="5.5" fill="#69a058"/>
<rect x="539.7" y="592.1" width="1.7" height="5.5" fill="#7aab4f"/>
<rect x="542.7" y="592.1" width="1.7" height="5.5" fill="#5f8f6c"/>
<rect x="544.2" y="592.1" width="1.7" height="5.5" fill="#69a058"/>
<rect x="545.7" y="592.1" width="1.7" height="5.5" fill="#5f8f6c"/>
<rect x="547.2" y="592.1" width="1.7" height="5.5" fill="#547f7f"/>
<rect x="548.8" y="592.1" width="1.7" height="5.5" fill="#507688"/>
<rect x="550.3" y="592.1" width="1.7" height="5.5" fill="#547f7f"/>
<rect x="551.8" y="592.1" width="1.7" height="5.5" fill="#507688"/>
<rect x="553.3" y="592.1" width="1.7" height="5.5" fill="#547f7f"/>
<rect x="554.8" y="592.1" width="3.2" height="5.5" fill="#4d6f8d"/>
<rect x="557.8" y="592.1" width="1.7" height="5.5" fill="#69a058"/>
<rect x="559.3" y="592.1" width="3.2" height="5.5" fill="#649862"/>
<rect x="562.3" y="592.1" width="1.7" height="5.5" fill="#547f7f"/>
<rect x="563.8" y="592.1" width="3.2" height="5.5" fill="#598775"/>
<rect x="566.8" y="592.1" width="1.7" height="5.5" fill="#649862"/>
<rect x="568.3" y="592.1" width="1.7" height="5.5" fill="#547f7f"/>
<rect x="569.8" y="592.1" width="1.7" height="5.5" fill="#598775"/>
<rect x="571.3" y="592.1" width="1.7" height="5.5" fill="#5f8f6c"/>
<rect x="572.8" y="592.1" width="1.7" height="5.5" fill="#649862"/>
<rect x="574.3" y="592.1" width="1.7" height="5.5" fill="#547f7f"/>
<rect x="575.8" y="592.1" width="1.7" height="5.5" fill="#4d6f8d"/>
<rect x="577.3" y="592.1" width="1.7" height="5.5" fill="#598775"/>
<rect x="578.8" y="592.1" width="1.7" height="5.5" fill="#69a058"/>
<rect x="580.3" y="592.1" width="1.7" height="5.5" fill="#507688"/>
<rect x="581.8" y="592.1" width="1.7" height="5.5" fill="#5f8f6c"/>
<rect x="583.3" y="592.1" width="1.7" height="5.5" fill="#507688"/>
<rect x="584.8" y="592.1" width="1.7" height="5.5" fill="#547f7f"/>
<rect x="586.3" y="592.1" width="1.7" height="5.5" fill="#5f8f6c"/>
<rect x="587.8" y="592.1" width="1.7" height="5.5" fill="#507688"/>
<rect x="589.3" y="592.1" width="1.7" height="5.5" fill="#598775"/>
<rect x="590.8" y="592.1" width="1.7" height="5.5" fill="#5f8f6c"/>
<rect x="592.3" y="592.1" width="1.7" height="5.5" fill="#547f7f"/>
<rect x="593.8" y="592.1" width="3.2" height="5.5" fill="#649862"/>
<rect x="596.8" y="592.1" width="1.7" height="5.5" fill="#547f7f"/>
<rect x="598.3" y="592.1" width="3.2" height="5.5" fill="#649862"/>
<rect x="601.3" y="592.1" width="4.7" height="5.5" fill="#5f8f6c"/>
<rect x="605.8" y="592.1" width="1.7" height="5.5" fill="#649862"/>
<rect x="607.3" y="592.1" width="1.7" height="5.5" fill="#5f8f6c"/>
<rect x="608.8" y="592.1" width="1.7" height="5.5" fill="#547f7f"/>
<rect x="610.3" y="592.1" width="1.7" height="5.5" fill="#5f8f6c"/>
<rect x="611.8" y="592.1" width="1.7" height="5.5" fill="#649862"/>
<rect x="484.2" y="597.4" width="1.7" height="5.5" fill="#69a058"/>
<rect x="487.2" y="597.4" width="3.2" height="5.5" fill="#7aab4f"/>
<rect x="490.2" y="597.4" width="1.7" height="5.5" fill="#649862"/>
<rect x="491.7" y="597.4" width="4.7" height="5.5" fill="#69a058"/>
<rect x="496.2" y="597.4" width="3.2" height="5.5" fill="#7aab4f"/>
<rect x="499.2" y="597.4" width="3.2" height="5.5" fill="#69a058"/>
<rect x="502.2" y="597.4" width="1.7" height="5.5" fill="#7aab4f"/>
<rect x="503.7" y="597.4" width="3.2" height="5.5" fill="#69a058"/>
<rect x="506.7" y="597.4" width="1.7" height="5.5" fill="#4450a0"/>
<rect x="508.2" y="597.4" width="4.7" height="5.5" fill="#7aab4f"/>
<rect x="512.7" y="597.4" width="4.7" height="5.5" fill="#69a058"/>
<rect x="518.7" y="597.4" width="1.7" height="5.5" fill="#7aab4f"/>
<rect x="520.2" y="597.4" width="3.2" height="5.5" fill="#4d6f8d"/>
<rect x="523.2" y="597.4" width="1.7" height="5.5" fill="#5f8f6c"/>
<rect x="524.7" y="597.4" width="1.7" height="5.5" fill="#4d6f8d"/>
<rect x="526.2" y="597.4" width="1.7" height="5.5" fill="#649862"/>
<rect x="527.7" y="597.4" width="1.7" height="5.5" fill="#507688"/>
<rect x="529.2" y="597.4" width="1.7" height="5.5" fill="#4d6f8d"/>
<rect x="530.7" y="597.4" width="1.7" height="5.5" fill="#4b6792"/>
<rect x="532.2" y="597.4" width="3.2" height="5.5" fill="#547f7f"/>
<rect x="535.2" y="597.4" width="1.7" height="5.5" fill="#5f8f6c"/>
<rect x="536.7" y="597.4" width="1.7" height="5.5" fill="#598775"/>
<rect x="538.2" y="597.4" width="1.7" height="5.5" fill="#547f7f"/>
<rect x="539.7" y="597.4" width="1.7" height="5.5" fill="#4b6792"/>
<rect x="541.2" y="597.4" width="1.7" height="5.5" fill="#649862"/>
<rect x="542.7" y="597.4" width="4.7" height="5.5" fill="#4d6f8d"/>
<rect x="547.2" y="597.4" width="3.2" height="5.5" fill="#598775"/>
<rect x="550.3" y="597.4" width="1.7" height="5.5" fill="#507688"/>
<rect x="551.8" y="597.4" width="1.7" height="5.5" fill="#4d6f8d"/>
<rect x="553.3" y="597.4" width="1.7" height="5.5" fill="#4b6792"/>
<rect x="554.8" y="597.4" width="3.2" height="5.5" fill="#598775"/>
<rect x="557.8" y="597.4" width="3.2" height="5.5" fill="#4d6f8d"/>
<rect x="560.8" y="597.4" width="1.7" height="5.5" fill="#5f8f6c"/>
<rect x="562.3" y="597.4" width="1.7" height="5.5" fill="#598775"/>
<rect x="563.8" y="597.4" width="1.7" height="5.5" fill="#4d6f8d"/>
<rect x="565.3" y="597.4" width="1.7" height="5.5" fill="#649862"/>
<rect x="566.8" y="597.4" width="3.2" height="5.5" fill="#598775"/>
<rect x="569.8" y="597.4" width="1.7" height="5.5" fill="#507688"/>
<rect x="571.3" y="597.4" width="1.7" height="5.5" fill="#649862"/>
<rect x="572.8" y="597.4" width="1.7" height="5.5" fill="#547f7f"/>
<rect x="574.3" y="597.4" width="1.7" height="5.5" fill="#598775"/>
<rect x="575.8" y="597.4" width="1.7" height="5.5" fill="#649862"/>
<rect x="577.3" y="597.4" width="1.7" height="5.5" fill="#5f8f6c"/>
<rect x="578.8" y="597.4" width="6.2" height="5.5" fill="#4d6f8d"/>
<rect x="584.8" y="597.4" width="1.7" height="5.5" fill="#5f8f6c"/>
<rect x="586.3" y="597.4" width="3.2" height="5.5" fill="#547f7f"/>
<rect x="589.3" y="597.4" width="1.7" height="5.5" fill="#507688"/>
<rect x="590.8" y="597.4" width="3.2" height="5.5" fill="#547f7f"/>
<rect x="593.8" y="597.4" width="1.7" height="5.5" fill="#598775"/>
<rect x="595.3" y="597.4" width="1.7" height="5.5" fill="#507688"/>
<rect x="596.8" y="597.4" width="6.2" height="5.5" fill="#5f8f6c"/>
<rect x="602.8" y="597.4" width="1.7" height="5.5" fill="#4d6f8d"/>
<rect x="604.3" y="597.4" width="1.7" height="5.5" fill="#507688"/>
<rect x="605.8" y="597.4" width="1.7" height="5.5" fill="#5f8f6c"/>
<rect x="607.3" y="597.4" width="1.7" height="5.5" fill="#507688"/>
<rect x="608.8" y="597.4" width="1.7" height="5.5" fill="#547f7f"/>
<rect x="610.3" y="597.4" width="1.7" height="5.5" fill="#4d6f8d"/>
<rect x="611.8" y="597.4" width="1.7" height="5.5" fill="#5f8f6c"/>
<rect x="481.2" y="602.7" width="1.7" height="5.5" fill="#69a058"/>
<rect x="482.7" y="602.7" width="1.7" height="5.5" fill="#46589b"/>
<rect x="485.7" y="602.7" width="1.7" height="5.5" fill="#7aab4f"/>
<rect x="487.2" y="602.7" width="1.7" height="5.5" fill="#4b6792"/>
<rect x="488.7" y="602.7" width="1.7" height="5.5" fill="#507688"/>
<rect x="490.2" y="602.7" width="3.2" height="5.5" fill="#69a058"/>
<rect x="493.2" y="602.7" width="1.7" height="5.5" fill="#46589b"/>
<rect x="494.7" y="602.7" width="1.7" height="5.5" fill="#69a058"/>
<rect x="496.2" y="602.7" width="4.7" height="5.5" fill="#7aab4f"/>
<rect x="502.2" y="602.7" width="1.7" height="5.5" fill="#69a058"/>
<rect x="503.7" y="602.7" width="1.7" height="5.5" fill="#7aab4f"/>
<rect x="506.7" y="602.7" width="1.7" height="5.5" fill="#69a058"/>
<rect x="508.2" y="602.7" width="1.7" height="5.5" fill="#649862"/>
<rect x="509.7" y="602.7" width="1.7" height="5.5" fill="#4450a0"/>
<rect x="511.2" y="602.7" width="3.2" height="5.5" fill="#7aab4f"/>
<rect x="520.2" y="602.7" width="1.7" height="5.5" fill="#4d6f8d"/>
<rect x="521.7" y="602.7" width="1.7" height="5.5" fill="#69a058"/>
<rect x="523.2" y="602.7" width="1.7" height="5.5" fill="#507688"/>
<rect x="524.7" y="602.7" width="1.7" height="5.5" fill="#547f7f"/>
<rect x="526.2" y="602.7" width="1.7" height="5.5" fill="#5f8f6c"/>
<rect x="527.7" y="602.7" width="1.7" height="5.5" fill="#547f7f"/>
<rect x="529.2" y="602.7" width="3.2" height="5.5" fill="#69a058"/>
<rect x="532.2" y="602.7" width="1.7" height="5.5" fill="#547f7f"/>
<rect x="533.7" y="602.7" width="1.7" height="5.5" fill="#598775"/>
<rect x="535.2" y="602.7" width="1.7" height="5.5" fill="#649862"/>
<rect x="536.7" y="602.7" width="1.7" height="5.5" fill="#598775"/>
<rect x="538.2" y="602.7" width="1.7" height="5.5" fill="#5f8f6c"/>
<rect x="539.7" y="602.7" width="1.7" height="5.5" fill="#547f7f"/>
<rect x="541.2" y="602.7" width="3.2" height="5.5" fill="#5f8f6c"/>
<rect x="544.2" y="602.7" width="1.7" height="5.5" fill="#69a058"/>
<rect x="545.7" y="602.7" width="1.7" height="5.5" fill="#547f7f"/>
<rect x="547.2" y="602.7" width="1.7" height="5.5" fill="#69a058"/>
<rect x="548.8" y="602.7" width="1.7" height="5.5" fill="#507688"/>
<rect x="550.3" y="602.7" width="1.7" height="5.5" fill="#547f7f"/>
<rect x="551.8" y="602.7" width="1.7" height="5.5" fill="#507688"/>
<rect x="554.8" y="602.7" width="1.7" height="5.5" fill="#4d6f8d"/>
<rect x="556.3" y="602.7" width="1.7" height="5.5" fill="#547f7f"/>
<rect x="557.8" y="602.7" width="1.7" height="5.5" fill="#598775"/>
<rect x="559.3" y="602.7" width="1.7" height="5.5" fill="#649862"/>
<rect x="560.8" y="602.7" width="1.7" height="5.5" fill="#5f8f6c"/>
<rect x="562.3" y="602.7" width="1.7" height="5.5" fill="#4d6f8d"/>
<rect x="563.8" y="602.7" width="1.7" height="5.5" fill="#547f7f"/>
<rect x="565.3" y="602.7" width="1.7" height="5.5" fill="#649862"/>
<rect x="566.8" y="602.7" width="3.2" height="5.5" fill="#4d6f8d"/>
<rect x="569.8" y="602.7" width="1.7" height="5.5" fill="#69a058"/>
<rect x="571.3" y="602.7" width="1.7" height="5.5" fill="#4b6792"/>
<rect x="572.8" y="602.7" width="1.7" height="5.5" fill="#4d6f8d"/>
<rect x="574.3" y="602.7" width="1.7" height="5.5" fill="#507688"/>
<rect x="575.8" y="602.7" width="1.7" height="5.5" fill="#69a058"/>
<rect x="577.3" y="602.7" width="1.7" height="5.5" fill="#547f7f"/>
<rect x="578.8" y="602.7" width="1.7" height="5.5" fill="#598775"/>
<rect x="580.3" y="602.7" width="1.7" height="5.5" fill="#5f8f6c"/>
<rect x="581.8" y="602.7" width="1.7" height="5.5" fill="#69a058"/>
<rect x="583.3" y="602.7" width="1.7" height="5.5" fill="#4d6f8d"/>
<rect x="584.8" y="602.7" width="1.7" height="5.5" fill="#507688"/>
<rect x="586.3" y="602.7" width="1.7" height="5.5" fill="#547f7f"/>
<rect x="587.8" y="602.7" width="1.7" height="5.5" fill="#5f8f6c"/>
<rect x="589.3" y="602.7" width="1.7" height="5.5" fill="#4d6f8d"/>
<rect x="590.8" y="602.7" width="1.7" height="5.5" fill="#598775"/>
<rect x="592.3" y="602.7" width="1.7" height="5.5" fill="#5f8f6c"/>
<rect x="593.8" y="602.7" width="1.7" height="5.5" fill="#4d6f8d"/>
<rect x="595.3" y="602.7" width="1.7" height="5.5" fill="#547f7f"/>
<rect x="596.8" y="602.7" width="1.7" height="5.5" fill="#4d6f8d"/>
<rect x="598.3" y="602.7" width="1.7" height="5.5" fill="#69a058"/>
<rect x="599.8" y="602.7" width="1.7" height="5.5" fill="#4b6792"/>
<rect x="601.3" y="602.7" width="1.7" height="5.5" fill="#83b04a"/>
<rect x="602.8" y="602.7" width="1.7" height="5.5" fill="#8cb646"/>
<rect x="604.3" y="602.7" width="1.7" height="5.5" fill="#83b04a"/>
<rect x="605.8" y="602.7" width="1.7" height="5.5" fill="#8cb646"/>
<rect x="607.3" y="602.7" width="1.7" height="5.5" fill="#83b04a"/>
<rect x="608.8" y="602.7" width="1.7" height="5.5" fill="#a3c347"/>
<rect x="610.3" y="602.7" width="3.2" height="5.5" fill="#8cb646"/>
<rect x="481.2" y="608.0" width="1.7" height="5.5" fill="#69a058"/>
<rect x="484.2" y="608.0" width="4.7" height="5.5" fill="#7aab4f"/>
<rect x="488.7" y="608.0" width="4.7" height="5.5" fill="#69a058"/>
<rect x="493.2" y="608.0" width="1.7" height="5.5" fill="#495f96"/>
<rect x="496.2" y="608.0" width="3.2" height="5.5" fill="#7aab4f"/>
<rect x="499.2" y="608.0" width="1.7" height="5.5" fill="#4b6792"/>
<rect x="502.2" y="608.0" width="1.7" height="5.5" fill="#69a058"/>
<rect x="505.2" y="608.0" width="6.2" height="5.5" fill="#69a058"/>
<rect x="511.2" y="608.0" width="1.7" height="5.5" fill="#7aab4f"/>
<rect x="512.7" y="608.0" width="4.7" height="5.5" fill="#69a058"/>
<rect x="517.2" y="608.0" width="1.7" height="5.5" fill="#649862"/>
<rect x="520.2" y="608.0" width="1.7" height="5.5" fill="#69a058"/>
<rect x="521.7" y="608.0" width="1.7" height="5.5" fill="#649862"/>
<rect x="523.2" y="608.0" width="1.7" height="5.5" fill="#69a058"/>
<rect x="524.7" y="608.0" width="1.7" height="5.5" fill="#507688"/>
<rect x="526.2" y="608.0" width="4.7" height="5.5" fill="#69a058"/>
<rect x="530.7" y="608.0" width="1.7" height="5.5" fill="#4b6792"/>
<rect x="532.2" y="608.0" width="1.7" height="5.5" fill="#69a058"/>
<rect x="533.7" y="608.0" width="7.7" height="5.5" fill="#7aab4f"/>
<rect x="541.2" y="608.0" width="1.7" height="5.5" fill="#649862"/>
<rect x="542.7" y="608.0" width="1.7" height="5.5" fill="#4b6792"/>
<rect x="544.2" y="608.0" width="1.7" height="5.5" fill="#507688"/>
<rect x="545.7" y="608.0" width="1.7" height="5.5" fill="#4d6f8d"/>
<rect x="547.2" y="608.0" width="1.7" height="5.5" fill="#495f96"/>
<rect x="548.8" y="608.0" width="1.7" height="5.5" fill="#4d6f8d"/>
<rect x="550.3" y="608.0" width="1.7" height="5.5" fill="#4b6792"/>
<rect x="551.8" y="608.0" width="1.7" height="5.5" fill="#547f7f"/>
<rect x="553.3" y="608.0" width="3.2" height="5.5" fill="#598775"/>
<rect x="556.3" y="608.0" width="1.7" height="5.5" fill="#4b6792"/>
<rect x="557.8" y="608.0" width="3.2" height="5.5" fill="#598775"/>
<rect x="560.8" y="608.0" width="1.7" height="5.5" fill="#46589b"/>
<rect x="562.3" y="608.0" width="1.7" height="5.5" fill="#507688"/>
<rect x="563.8" y="608.0" width="3.2" height="5.5" fill="#495f96"/>
<rect x="566.8" y="608.0" width="1.7" height="5.5" fill="#4d6f8d"/>
<rect x="568.3" y="608.0" width="1.7" height="5.5" fill="#547f7f"/>
<rect x="569.8" y="608.0" width="1.7" height="5.5" fill="#495f96"/>
<rect x="571.3" y="608.0" width="1.7" height="5.5" fill="#4b6792"/>
<rect x="572.8" y="608.0" width="1.7" height="5.5" fill="#4d6f8d"/>
<rect x="574.3" y="608.0" width="1.7" height="5.5" fill="#507688"/>
<rect x="575.8" y="608.0" width="3.2" height="5.5" fill="#495f96"/>
<rect x="578.8" y="608.0" width="1.7" height="5.5" fill="#46589b"/>
<rect x="580.3" y="608.0" width="1.7" height="5.5" fill="#4b6792"/>
<rect x="581.8" y="608.0" width="1.7" height="5.5" fill="#5f8f6c"/>
<rect x="583.3" y="608.0" width="1.7" height="5.5" fill="#495f96"/>
<rect x="584.8" y="608.0" width="1.7" height="5.5" fill="#547f7f"/>
<rect x="586.3" y="608.0" width="1.7" height="5.5" fill="#507688"/>
<rect x="587.8" y="608.0" width="1.7" height="5.5" fill="#598775"/>
<rect x="589.3" y="608.0" width="1.7" height="5.5" fill="#547f7f"/>
<rect x="590.8" y="608.0" width="1.7" height="5.5" fill="#495f96"/>
<rect x="592.3" y="608.0" width="1.7" height="5.5" fill="#4b6792"/>
<rect x="593.8" y="608.0" width="1.7" height="5.5" fill="#598775"/>
<rect x="595.3" y="608.0" width="1.7" height="5.5" fill="#507688"/>
<rect x="596.8" y="608.0" width="1.7" height="5.5" fill="#598775"/>
<rect x="598.3" y="608.0" width="1.7" height="5.5" fill="#46589b"/>
<rect x="599.8" y="608.0" width="1.7" height="5.5" fill="#598775"/>
<rect x="601.3" y="608.0" width="1.7" height="5.5" fill="#4d6f8d"/>
<rect x="602.8" y="608.0" width="1.7" height="5.5" fill="#547f7f"/>
<rect x="604.3" y="608.0" width="1.7" height="5.5" fill="#507688"/>
<rect x="605.8" y="608.0" width="1.7" height="5.5" fill="#4b6792"/>
<rect x="607.3" y="608.0" width="1.7" height="5.5" fill="#507688"/>
<rect x="608.8" y="608.0" width="1.7" height="5.5" fill="#46589b"/>
<rect x="610.3" y="608.0" width="3.2" height="5.5" fill="#598775"/>
<rect x="481.2" y="613.3" width="1.7" height="5.5" fill="#7aab4f"/>
<rect x="482.7" y="613.3" width="1.7" height="5.5" fill="#649862"/>
<rect x="484.2" y="613.3" width="1.7" height="5.5" fill="#83b04a"/>
<rect x="485.7" y="613.3" width="1.7" height="5.5" fill="#649862"/>
<rect x="488.7" y="613.3" width="1.7" height="5.5" fill="#7aab4f"/>
<rect x="491.7" y="613.3" width="1.7" height="5.5" fill="#69a058"/>
<rect x="496.2" y="613.3" width="4.7" height="5.5" fill="#83b04a"/>
<rect x="500.7" y="613.3" width="1.7" height="5.5" fill="#7aab4f"/>
<rect x="503.7" y="613.3" width="1.7" height="5.5" fill="#69a058"/>
<rect x="505.2" y="613.3" width="3.2" height="5.5" fill="#83b04a"/>
<rect x="508.2" y="613.3" width="1.7" height="5.5" fill="#69a058"/>
<rect x="509.7" y="613.3" width="1.7" height="5.5" fill="#7aab4f"/>
<rect x="511.2" y="613.3" width="1.7" height="5.5" fill="#69a058"/>
<rect x="512.7" y="613.3" width="1.7" height="5.5" fill="#649862"/>
<rect x="515.7" y="613.3" width="1.7" height="5.5" fill="#83b04a"/>
<rect x="518.7" y="613.3" width="4.7" height="5.5" fill="#7aab4f"/>
<rect x="523.2" y="613.3" width="1.7" height="5.5" fill="#69a058"/>
<rect x="524.7" y="613.3" width="1.7" height="5.5" fill="#83b04a"/>
<rect x="526.2" y="613.3" width="1.7" height="5.5" fill="#649862"/>
<rect x="529.2" y="613.3" width="1.7" height="5.5" fill="#649862"/>
<rect x="530.7" y="613.3" width="1.7" height="5.5" fill="#69a058"/>
<rect x="532.2" y="613.3" width="1.7" height="5.5" fill="#83b04a"/>
<rect x="533.7" y="613.3" width="1.7" height="5.5" fill="#7aab4f"/>
<rect x="535.2" y="613.3" width="1.7" height="5.5" fill="#83b04a"/>
<rect x="539.7" y="613.3" width="1.7" height="5.5" fill="#649862"/>
<rect x="542.7" y="613.3" width="1.7" height="5.5" fill="#83b04a"/>
<rect x="544.2" y="613.3" width="1.7" height="5.5" fill="#69a058"/>
<rect x="545.7" y="613.3" width="1.7" height="5.5" fill="#83b04a"/>
<rect x="547.2" y="613.3" width="1.7" height="5.5" fill="#69a058"/>
<rect x="548.8" y="613.3" width="1.7" height="5.5" fill="#7aab4f"/>
<rect x="550.3" y="613.3" width="1.7" height="5.5" fill="#649862"/>
<rect x="551.8" y="613.3" width="1.7" height="5.5" fill="#83b04a"/>
<rect x="553.3" y="613.3" width="3.2" height="5.5" fill="#649862"/>
<rect x="557.8" y="613.3" width="3.2" height="5.5" fill="#7aab4f"/>
<rect x="560.8" y="613.3" width="1.7" height="5.5" fill="#69a058"/>
<rect x="562.3" y="613.3" width="1.7" height="5.5" fill="#7aab4f"/>
<rect x="563.8" y="613.3" width="1.7" height="5.5" fill="#649862"/>
<rect x="565.3" y="613.3" width="3.2" height="5.5" fill="#69a058"/>
<rect x="568.3" y="613.3" width="4.7" height="5.5" fill="#649862"/>
<rect x="575.8" y="613.3" width="1.7" height="5.5" fill="#69a058"/>
<rect x="578.8" y="613.3" width="1.7" height="5.5" fill="#69a058"/>
<rect x="580.3" y="613.3" width="1.7" height="5.5" fill="#7aab4f"/>
<rect x="581.8" y="613.3" width="1.7" height="5.5" fill="#5f8f6c"/>
<rect x="583.3" y="613.3" width="1.7" height="5.5" fill="#7aab4f"/>
<rect x="584.8" y="613.3" width="1.7" height="5.5" fill="#83b04a"/>
<rect x="589.3" y="613.3" width="1.7" height="5.5" fill="#83b04a"/>
<rect x="590.8" y="613.3" width="3.2" height="5.5" fill="#649862"/>
<rect x="595.3" y="613.3" width="1.7" height="5.5" fill="#7aab4f"/>
<rect x="599.8" y="613.3" width="1.7" height="5.5" fill="#69a058"/>
<rect x="602.8" y="613.3" width="1.7" height="5.5" fill="#83b04a"/>
<rect x="604.3" y="613.3" width="1.7" height="5.5" fill="#649862"/>
<rect x="605.8" y="613.3" width="1.7" height="5.5" fill="#7aab4f"/>
<rect x="607.3" y="613.3" width="1.7" height="5.5" fill="#649862"/>
<rect x="608.8" y="613.3" width="1.7" height="5.5" fill="#7aab4f"/>
<rect x="610.3" y="613.3" width="1.7" height="5.5" fill="#69a058"/>
<rect x="611.8" y="613.3" width="1.7" height="5.5" fill="#7aab4f"/>
<rect x="481.2" y="618.6" width="1.7" height="5.5" fill="#69a058"/>
<rect x="482.7" y="618.6" width="1.7" height="5.5" fill="#7aab4f"/>
<rect x="485.7" y="618.6" width="1.7" height="5.5" fill="#69a058"/>
<rect x="487.2" y="618.6" width="4.7" height="5.5" fill="#7aab4f"/>
<rect x="493.2" y="618.6" width="1.7" height="5.5" fill="#7aab4f"/>
<rect x="494.7" y="618.6" width="1.7" height="5.5" fill="#69a058"/>
<rect x="497.7" y="618.6" width="1.7" height="5.5" fill="#547f7f"/>
<rect x="500.7" y="618.6" width="1.7" height="5.5" fill="#547f7f"/>
<rect x="503.7" y="618.6" width="3.2" height="5.5" fill="#7aab4f"/>
<rect x="506.7" y="618.6" width="1.7" height="5.5" fill="#4450a0"/>
<rect x="508.2" y="618.6" width="1.7" height="5.5" fill="#414a9e"/>
<rect x="509.7" y="618.6" width="1.7" height="5.5" fill="#434d9f"/>
<rect x="511.2" y="618.6" width="3.2" height="5.5" fill="#40479e"/>
<rect x="514.2" y="618.6" width="1.7" height="5.5" fill="#414a9e"/>
<rect x="515.7" y="618.6" width="1.7" height="5.5" fill="#40479e"/>
<rect x="517.2" y="618.6" width="1.7" height="5.5" fill="#434d9f"/>
<rect x="518.7" y="618.6" width="1.7" height="5.5" fill="#4450a0"/>
<rect x="520.2" y="618.6" width="1.7" height="5.5" fill="#46589b"/>
<rect x="521.7" y="618.6" width="1.7" height="5.5" fill="#414a9e"/>
<rect x="523.2" y="618.6" width="1.7" height="5.5" fill="#434d9f"/>
<rect x="524.7" y="618.6" width="1.7" height="5.5" fill="#4450a0"/>
<rect x="526.2" y="618.6" width="4.7" height="5.5" fill="#414a9e"/>
<rect x="532.2" y="618.6" width="1.7" height="5.5" fill="#649862"/>
<rect x="535.2" y="618.6" width="7.7" height="5.5" fill="#649862"/>
<rect x="542.7" y="618.6" width="1.7" height="5.5" fill="#69a058"/>
<rect x="547.2" y="618.6" width="1.7" height="5.5" fill="#7aab4f"/>
<rect x="548.8" y="618.6" width="4.7" height="5.5" fill="#649862"/>
<rect x="553.3" y="618.6" width="1.7" height="5.5" fill="#69a058"/>
<rect x="554.8" y="618.6" width="1.7" height="5.5" fill="#414a9e"/>
<rect x="556.3" y="618.6" width="1.7" height="5.5" fill="#46589b"/>
<rect x="557.8" y="618.6" width="1.7" height="5.5" fill="#434d9f"/>
<rect x="559.3" y="618.6" width="1.7" height="5.5" fill="#414a9e"/>
<rect x="560.8" y="618.6" width="1.7" height="5.5" fill="#4450a0"/>
<rect x="562.3" y="618.6" width="1.7" height="5.5" fill="#434d9f"/>
<rect x="563.8" y="618.6" width="1.7" height="5.5" fill="#414a9e"/>
<rect x="565.3" y="618.6" width="1.7" height="5.5" fill="#434d9f"/>
<rect x="566.8" y="618.6" width="1.7" height="5.5" fill="#4450a0"/>
<rect x="568.3" y="618.6" width="1.7" height="5.5" fill="#495f96"/>
<rect x="569.8" y="618.6" width="1.7" height="5.5" fill="#aeca48"/>
<rect x="571.3" y="618.6" width="1.7" height="5.5" fill="#a3c347"/>
<rect x="572.8" y="618.6" width="1.7" height="5.5" fill="#97bc46"/>
<rect x="574.3" y="618.6" width="7.7" height="5.5" fill="#a3c347"/>
<rect x="581.8" y="618.6" width="1.7" height="5.5" fill="#97bc46"/>
<rect x="583.3" y="618.6" width="3.2" height="5.5" fill="#b9d048"/>
<rect x="586.3" y="618.6" width="1.7" height="5.5" fill="#aeca48"/>
<rect x="587.8" y="618.6" width="1.7" height="5.5" fill="#b9d048"/>
<rect x="589.3" y="618.6" width="3.2" height="5.5" fill="#aeca48"/>
<rect x="592.3" y="618.6" width="1.7" height="5.5" fill="#a3c347"/>
<rect x="593.8" y="618.6" width="1.7" height="5.5" fill="#aeca48"/>
<rect x="595.3" y="618.6" width="1.7" height="5.5" fill="#b9d048"/>
<rect x="596.8" y="618.6" width="4.7" height="5.5" fill="#aeca48"/>
<rect x="601.3" y="618.6" width="1.7" height="5.5" fill="#a3c347"/>
<rect x="602.8" y="618.6" width="1.7" height="5.5" fill="#aeca48"/>
<rect x="604.3" y="618.6" width="1.7" height="5.5" fill="#b9d048"/>
<rect x="605.8" y="618.6" width="1.7" height="5.5" fill="#a3c347"/>
<rect x="607.3" y="618.6" width="3.2" height="5.5" fill="#97bc46"/>
<rect x="610.3" y="618.6" width="1.7" height="5.5" fill="#a3c347"/>
<rect x="611.8" y="618.6" width="1.7" height="5.5" fill="#97bc46"/>
<rect x="481.2" y="623.9" width="3.2" height="5.5" fill="#69a058"/>
<rect x="484.2" y="623.9" width="1.7" height="5.5" fill="#649862"/>
<rect x="485.7" y="623.9" width="1.7" height="5.5" fill="#7aab4f"/>
<rect x="487.2" y="623.9" width="1.7" height="5.5" fill="#649862"/>
<rect x="490.2" y="623.9" width="1.7" height="5.5" fill="#69a058"/>
<rect x="493.2" y="623.9" width="1.7" height="5.5" fill="#598775"/>
<rect x="494.7" y="623.9" width="3.2" height="5.5" fill="#69a058"/>
<rect x="499.2" y="623.9" width="1.7" height="5.5" fill="#649862"/>
<rect x="500.7" y="623.9" width="6.2" height="5.5" fill="#7aab4f"/>
<rect x="508.2" y="623.9" width="1.7" height="5.5" fill="#69a058"/>
<rect x="511.2" y="623.9" width="1.7" height="5.5" fill="#649862"/>
<rect x="512.7" y="623.9" width="4.7" height="5.5" fill="#69a058"/>
<rect x="518.7" y="623.9" width="1.7" height="5.5" fill="#649862"/>
<rect x="520.2" y="623.9" width="1.7" height="5.5" fill="#69a058"/>
<rect x="523.2" y="623.9" width="3.2" height="5.5" fill="#69a058"/>
<rect x="529.2" y="623.9" width="1.7" height="5.5" fill="#547f7f"/>
<rect x="530.7" y="623.9" width="1.7" height="5.5" fill="#649862"/>
<rect x="535.2" y="623.9" width="1.7" height="5.5" fill="#7aab4f"/>
<rect x="536.7" y="623.9" width="1.7" height="5.5" fill="#69a058"/>
<rect x="538.2" y="623.9" width="1.7" height="5.5" fill="#7aab4f"/>
<rect x="539.7" y="623.9" width="3.2" height="5.5" fill="#69a058"/>
<rect x="542.7" y="623.9" width="1.7" height="5.5" fill="#649862"/>
<rect x="545.7" y="623.9" width="3.2" height="5.5" fill="#7aab4f"/>
<rect x="548.8" y="623.9" width="1.7" height="5.5" fill="#69a058"/>
<rect x="550.3" y="623.9" width="1.7" height="5.5" fill="#649862"/>
<rect x="551.8" y="623.9" width="1.7" height="5.5" fill="#69a058"/>
<rect x="556.3" y="623.9" width="1.7" height="5.5" fill="#7aab4f"/>
<rect x="557.8" y="623.9" width="1.7" height="5.5" fill="#69a058"/>
<rect x="559.3" y="623.9" width="1.7" height="5.5" fill="#7aab4f"/>
<rect x="560.8" y="623.9" width="1.7" height="5.5" fill="#598775"/>
<rect x="562.3" y="623.9" width="1.7" height="5.5" fill="#7aab4f"/>
<rect x="563.8" y="623.9" width="1.7" height="5.5" fill="#69a058"/>
<rect x="566.8" y="623.9" width="1.7" height="5.5" fill="#649862"/>
<rect x="568.3" y="623.9" width="1.7" height="5.5" fill="#7aab4f"/>
<rect x="571.3" y="623.9" width="1.7" height="5.5" fill="#649862"/>
<rect x="572.8" y="623.9" width="1.7" height="5.5" fill="#69a058"/>
<rect x="574.3" y="623.9" width="1.7" height="5.5" fill="#7aab4f"/>
<rect x="577.3" y="623.9" width="1.7" height="5.5" fill="#69a058"/>
<rect x="578.8" y="623.9" width="1.7" height="5.5" fill="#4450a0"/>
<rect x="580.3" y="623.9" width="3.2" height="5.5" fill="#7aab4f"/>
<rect x="583.3" y="623.9" width="1.7" height="5.5" fill="#4450a0"/>
<rect x="584.8" y="623.9" width="1.7" height="5.5" fill="#7aab4f"/>
<rect x="586.3" y="623.9" width="1.7" height="5.5" fill="#69a058"/>
<rect x="587.8" y="623.9" width="1.7" height="5.5" fill="#7aab4f"/>
<rect x="589.3" y="623.9" width="1.7" height="5.5" fill="#649862"/>
<rect x="590.8" y="623.9" width="3.2" height="5.5" fill="#7aab4f"/>
<rect x="595.3" y="623.9" width="1.7" height="5.5" fill="#7aab4f"/>
<rect x="596.8" y="623.9" width="1.7" height="5.5" fill="#649862"/>
<rect x="598.3" y="623.9" width="3.2" height="5.5" fill="#69a058"/>
<rect x="601.3" y="623.9" width="1.7" height="5.5" fill="#4b6792"/>
<rect x="604.3" y="623.9" width="4.7" height="5.5" fill="#69a058"/>
<rect x="481.2" y="629.2" width="4.7" height="5.5" fill="#7aab4f"/>
<rect x="485.7" y="629.2" width="1.7" height="5.5" fill="#8cb646"/>
<rect x="487.2" y="629.2" width="1.7" height="5.5" fill="#b9d048"/>
<rect x="488.7" y="629.2" width="1.7" height="5.5" fill="#97bc46"/>
<rect x="490.2" y="629.2" width="1.7" height="5.5" fill="#83b04a"/>
<rect x="491.7" y="629.2" width="1.7" height="5.5" fill="#97bc46"/>
<rect x="493.2" y="629.2" width="1.7" height="5.5" fill="#8cb646"/>
<rect x="496.2" y="629.2" width="1.7" height="5.5" fill="#aeca48"/>
<rect x="497.7" y="629.2" width="1.7" height="5.5" fill="#97bc46"/>
<rect x="499.2" y="629.2" width="1.7" height="5.5" fill="#c6d44c"/>
<rect x="500.7" y="629.2" width="1.7" height="5.5" fill="#a3c347"/>
<rect x="502.2" y="629.2" width="1.7" height="5.5" fill="#83b04a"/>
<rect x="503.7" y="629.2" width="1.7" height="5.5" fill="#c6d44c"/>
<rect x="505.2" y="629.2" width="7.7" height="5.5" fill="#7aab4f"/>
<rect x="512.7" y="629.2" width="1.7" height="5.5" fill="#b9d048"/>
<rect x="514.2" y="629.2" width="1.7" height="5.5" fill="#7aab4f"/>
<rect x="515.7" y="629.2" width="1.7" height="5.5" fill="#97bc46"/>
<rect x="517.2" y="629.2" width="1.7" height="5.5" fill="#7aab4f"/>
<rect x="518.7" y="629.2" width="1.7" height="5.5" fill="#83b04a"/>
<rect x="520.2" y="629.2" width="1.7" height="5.5" fill="#7aab4f"/>
<rect x="521.7" y="629.2" width="1.7" height="5.5" fill="#8cb646"/>
<rect x="523.2" y="629.2" width="1.7" height="5.5" fill="#83b04a"/>
<rect x="524.7" y="629.2" width="1.7" height="5.5" fill="#aeca48"/>
<rect x="526.2" y="629.2" width="1.7" height="5.5" fill="#c6d44c"/>
<rect x="527.7" y="629.2" width="1.7" height="5.5" fill="#7aab4f"/>
<rect x="529.2" y="629.2" width="1.7" height="5.5" fill="#97bc46"/>
<rect x="530.7" y="629.2" width="1.7" height="5.5" fill="#a3c347"/>
<rect x="532.2" y="629.2" width="1.7" height="5.5" fill="#c6d44c"/>
<rect x="535.2" y="629.2" width="1.7" height="5.5" fill="#a3c347"/>
<rect x="536.7" y="629.2" width="1.7" height="5.5" fill="#8cb646"/>
<rect x="538.2" y="629.2" width="1.7" height="5.5" fill="#97bc46"/>
<rect x="539.7" y="629.2" width="3.2" height="5.5" fill="#a3c347"/>
<rect x="542.7" y="629.2" width="1.7" height="5.5" fill="#8cb646"/>
<rect x="544.2" y="629.2" width="1.7" height="5.5" fill="#aeca48"/>
<rect x="545.7" y="629.2" width="1.7" height="5.5" fill="#97bc46"/>
<rect x="547.2" y="629.2" width="1.7" height="5.5" fill="#83b04a"/>
<rect x="548.8" y="629.2" width="3.2" height="5.5" fill="#7aab4f"/>
<rect x="551.8" y="629.2" width="1.7" height="5.5" fill="#aeca48"/>
<rect x="553.3" y="629.2" width="1.7" height="5.5" fill="#b9d048"/>
<rect x="554.8" y="629.2" width="1.7" height="5.5" fill="#7aab4f"/>
<rect x="556.3" y="629.2" width="1.7" height="5.5" fill="#a3c347"/>
<rect x="560.8" y="629.2" width="1.7" height="5.5" fill="#a3c347"/>
<rect x="562.3" y="629.2" width="1.7" height="5.5" fill="#97bc46"/>
<rect x="563.8" y="629.2" width="6.2" height="5.5" fill="#8cb646"/>
<rect x="569.8" y="629.2" width="1.7" height="5.5" fill="#83b04a"/>
<rect x="571.3" y="629.2" width="1.7" height="5.5" fill="#b9d048"/>
<rect x="574.3" y="629.2" width="1.7" height="5.5" fill="#a3c347"/>
<rect x="575.8" y="629.2" width="1.7" height="5.5" fill="#7aab4f"/>
<rect x="577.3" y="629.2" width="1.7" height="5.5" fill="#8cb646"/>
<rect x="580.3" y="629.2" width="1.7" height="5.5" fill="#7aab4f"/>
<rect x="581.8" y="629.2" width="1.7" height="5.5" fill="#a3c347"/>
<rect x="584.8" y="629.2" width="1.7" height="5.5" fill="#8cb646"/>
<rect x="586.3" y="629.2" width="1.7" height="5.5" fill="#a3c347"/>
<rect x="587.8" y="629.2" width="1.7" height="5.5" fill="#97bc46"/>
<rect x="589.3" y="629.2" width="1.7" height="5.5" fill="#7aab4f"/>
<rect x="590.8" y="629.2" width="1.7" height="5.5" fill="#8cb646"/>
<rect x="592.3" y="629.2" width="1.7" height="5.5" fill="#83b04a"/>
<rect x="593.8" y="629.2" width="1.7" height="5.5" fill="#aeca48"/>
<rect x="595.3" y="629.2" width="1.7" height="5.5" fill="#b9d048"/>
<rect x="596.8" y="629.2" width="1.7" height="5.5" fill="#a3c347"/>
<rect x="598.3" y="629.2" width="1.7" height="5.5" fill="#aeca48"/>
<rect x="599.8" y="629.2" width="1.7" height="5.5" fill="#8cb646"/>
<rect x="601.3" y="629.2" width="1.7" height="5.5" fill="#c6d44c"/>
<rect x="602.8" y="629.2" width="1.7" height="5.5" fill="#aeca48"/>
<rect x="604.3" y="629.2" width="1.7" height="5.5" fill="#b9d048"/>
<rect x="605.8" y="629.2" width="1.7" height="5.5" fill="#7aab4f"/>
<rect x="607.3" y="629.2" width="4.7" height="5.5" fill="#a3c347"/>
<rect x="611.8" y="629.2" width="1.7" height="5.5" fill="#b9d048"/>
<rect x="482.7" y="634.5" width="3.2" height="5.5" fill="#69a058"/>
<rect x="485.7" y="634.5" width="1.7" height="5.5" fill="#5f8f6c"/>
<rect x="487.2" y="634.5" width="1.7" height="5.5" fill="#7aab4f"/>
<rect x="488.7" y="634.5" width="1.7" height="5.5" fill="#598775"/>
<rect x="490.2" y="634.5" width="1.7" height="5.5" fill="#5f8f6c"/>
<rect x="491.7" y="634.5" width="1.7" height="5.5" fill="#547f7f"/>
<rect x="493.2" y="634.5" width="1.7" height="5.5" fill="#649862"/>
<rect x="494.7" y="634.5" width="1.7" height="5.5" fill="#7aab4f"/>
<rect x="496.2" y="634.5" width="1.7" height="5.5" fill="#69a058"/>
<rect x="497.7" y="634.5" width="1.7" height="5.5" fill="#507688"/>
<rect x="499.2" y="634.5" width="1.7" height="5.5" fill="#7aab4f"/>
<rect x="500.7" y="634.5" width="1.7" height="5.5" fill="#547f7f"/>
<rect x="502.2" y="634.5" width="1.7" height="5.5" fill="#598775"/>
<rect x="503.7" y="634.5" width="1.7" height="5.5" fill="#649862"/>
<rect x="505.2" y="634.5" width="1.7" height="5.5" fill="#507688"/>
<rect x="506.7" y="634.5" width="1.7" height="5.5" fill="#7aab4f"/>
<rect x="509.7" y="634.5" width="1.7" height="5.5" fill="#83b04a"/>
<rect x="511.2" y="634.5" width="1.7" height="5.5" fill="#69a058"/>
<rect x="512.7" y="634.5" width="1.7" height="5.5" fill="#649862"/>
<rect x="514.2" y="634.5" width="1.7" height="5.5" fill="#598775"/>
<rect x="515.7" y="634.5" width="1.7" height="5.5" fill="#5f8f6c"/>
<rect x="517.2" y="634.5" width="1.7" height="5.5" fill="#69a058"/>
<rect x="518.7" y="634.5" width="1.7" height="5.5" fill="#7aab4f"/>
<rect x="520.2" y="634.5" width="1.7" height="5.5" fill="#598775"/>
<rect x="521.7" y="634.5" width="1.7" height="5.5" fill="#649862"/>
<rect x="523.2" y="634.5" width="1.7" height="5.5" fill="#69a058"/>
<rect x="524.7" y="634.5" width="1.7" height="5.5" fill="#598775"/>
<rect x="527.7" y="634.5" width="1.7" height="5.5" fill="#598775"/>
<rect x="529.2" y="634.5" width="1.7" height="5.5" fill="#5f8f6c"/>
<rect x="530.7" y="634.5" width="1.7" height="5.5" fill="#598775"/>
<rect x="532.2" y="634.5" width="1.7" height="5.5" fill="#83b04a"/>
<rect x="533.7" y="634.5" width="1.7" height="5.5" fill="#547f7f"/>
<rect x="535.2" y="634.5" width="1.7" height="5.5" fill="#5f8f6c"/>
<rect x="536.7" y="634.5" width="1.7" height="5.5" fill="#69a058"/>
<rect x="538.2" y="634.5" width="1.7" height="5.5" fill="#649862"/>
<rect x="539.7" y="634.5" width="1.7" height="5.5" fill="#598775"/>
<rect x="541.2" y="634.5" width="3.2" height="5.5" fill="#649862"/>
<rect x="544.2" y="634.5" width="1.7" height="5.5" fill="#69a058"/>
<rect x="545.7" y="634.5" width="1.7" height="5.5" fill="#649862"/>
<rect x="547.2" y="634.5" width="1.7" height="5.5" fill="#598775"/>
<rect x="550.3" y="634.5" width="1.7" height="5.5" fill="#5f8f6c"/>
<rect x="551.8" y="634.5" width="1.7" height="5.5" fill="#7aab4f"/>
<rect x="553.3" y="634.5" width="1.7" height="5.5" fill="#5f8f6c"/>
<rect x="554.8" y="634.5" width="1.7" height="5.5" fill="#7aab4f"/>
<rect x="556.3" y="634.5" width="1.7" height="5.5" fill="#598775"/>
<rect x="557.8" y="634.5" width="1.7" height="5.5" fill="#69a058"/>
<rect x="559.3" y="634.5" width="1.7" height="5.5" fill="#83b04a"/>
<rect x="560.8" y="634.5" width="1.7" height="5.5" fill="#5f8f6c"/>
<rect x="562.3" y="634.5" width="1.7" height="5.5" fill="#7aab4f"/>
<rect x="563.8" y="634.5" width="1.7" height="5.5" fill="#69a058"/>
<rect x="565.3" y="634.5" width="1.7" height="5.5" fill="#507688"/>
<rect x="566.8" y="634.5" width="1.7" height="5.5" fill="#69a058"/>
<rect x="568.3" y="634.5" width="1.7" height="5.5" fill="#5f8f6c"/>
<rect x="569.8" y="634.5" width="1.7" height="5.5" fill="#547f7f"/>
<rect x="571.3" y="634.5" width="1.7" height="5.5" fill="#7aab4f"/>
<rect x="574.3" y="634.5" width="1.7" height="5.5" fill="#83b04a"/>
<rect x="575.8" y="634.5" width="1.7" height="5.5" fill="#547f7f"/>
<rect x="577.3" y="634.5" width="1.7" height="5.5" fill="#5f8f6c"/>
<rect x="578.8" y="634.5" width="1.7" height="5.5" fill="#69a058"/>
<rect x="580.3" y="634.5" width="1.7" height="5.5" fill="#5f8f6c"/>
<rect x="581.8" y="634.5" width="1.7" height="5.5" fill="#547f7f"/>
<rect x="583.3" y="634.5" width="1.7" height="5.5" fill="#5f8f6c"/>
<rect x="584.8" y="634.5" width="7.7" height="5.5" fill="#649862"/>
<rect x="593.8" y="634.5" width="1.7" height="5.5" fill="#598775"/>
<rect x="595.3" y="634.5" width="1.7" height="5.5" fill="#649862"/>
<rect x="596.8" y="634.5" width="1.7" height="5.5" fill="#7aab4f"/>
<rect x="601.3" y="634.5" width="1.7" height="5.5" fill="#83b04a"/>
<rect x="602.8" y="634.5" width="1.7" height="5.5" fill="#649862"/>
<rect x="604.3" y="634.5" width="3.2" height="5.5" fill="#7aab4f"/>
<rect x="607.3" y="634.5" width="1.7" height="5.5" fill="#5f8f6c"/>
<rect x="610.3" y="634.5" width="1.7" height="5.5" fill="#649862"/>
<rect x="611.8" y="634.5" width="1.7" height="5.5" fill="#69a058"/>
<rect x="481.2" y="639.8" width="3.2" height="5.5" fill="#46589b"/>
<rect x="484.2" y="639.8" width="1.7" height="5.5" fill="#507688"/>
<rect x="485.7" y="639.8" width="1.7" height="5.5" fill="#4450a0"/>
<rect x="487.2" y="639.8" width="1.7" height="5.5" fill="#46589b"/>
<rect x="488.7" y="639.8" width="1.7" height="5.5" fill="#4d6f8d"/>
<rect x="490.2" y="639.8" width="1.7" height="5.5" fill="#46589b"/>
<rect x="491.7" y="639.8" width="1.7" height="5.5" fill="#434d9f"/>
<rect x="493.2" y="639.8" width="1.7" height="5.5" fill="#495f96"/>
<rect x="494.7" y="639.8" width="1.7" height="5.5" fill="#46589b"/>
<rect x="496.2" y="639.8" width="1.7" height="5.5" fill="#4d6f8d"/>
<rect x="497.7" y="639.8" width="3.2" height="5.5" fill="#46589b"/>
<rect x="500.7" y="639.8" width="1.7" height="5.5" fill="#495f96"/>
<rect x="502.2" y="639.8" width="1.7" height="5.5" fill="#4b6792"/>
<rect x="503.7" y="639.8" width="1.7" height="5.5" fill="#4450a0"/>
<rect x="505.2" y="639.8" width="1.7" height="5.5" fill="#434d9f"/>
<rect x="506.7" y="639.8" width="1.7" height="5.5" fill="#4d6f8d"/>
<rect x="508.2" y="639.8" width="1.7" height="5.5" fill="#4450a0"/>
<rect x="509.7" y="639.8" width="1.7" height="5.5" fill="#507688"/>
<rect x="511.2" y="639.8" width="1.7" height="5.5" fill="#4d6f8d"/>
<rect x="512.7" y="639.8" width="1.7" height="5.5" fill="#495f96"/>
<rect x="514.2" y="639.8" width="1.7" height="5.5" fill="#434d9f"/>
<rect x="515.7" y="639.8" width="1.7" height="5.5" fill="#4450a0"/>
<rect x="517.2" y="639.8" width="1.7" height="5.5" fill="#434d9f"/>
<rect x="518.7" y="639.8" width="1.7" height="5.5" fill="#4b6792"/>
<rect x="520.2" y="639.8" width="1.7" height="5.5" fill="#495f96"/>
<rect x="521.7" y="639.8" width="1.7" height="5.5" fill="#4b6792"/>
<rect x="523.2" y="639.8" width="1.7" height="5.5" fill="#46589b"/>
<rect x="524.7" y="639.8" width="1.7" height="5.5" fill="#507688"/>
<rect x="526.2" y="639.8" width="1.7" height="5.5" fill="#4d6f8d"/>
<rect x="527.7" y="639.8" width="1.7" height="5.5" fill="#4b6792"/>
<rect x="529.2" y="639.8" width="1.7" height="5.5" fill="#495f96"/>
<rect x="530.7" y="639.8" width="1.7" height="5.5" fill="#507688"/>
<rect x="532.2" y="639.8" width="1.7" height="5.5" fill="#495f96"/>
<rect x="533.7" y="639.8" width="1.7" height="5.5" fill="#434d9f"/>
<rect x="535.2" y="639.8" width="1.7" height="5.5" fill="#4d6f8d"/>
<rect x="536.7" y="639.8" width="1.7" height="5.5" fill="#434d9f"/>
<rect x="538.2" y="639.8" width="3.2" height="5.5" fill="#46589b"/>
<rect x="541.2" y="639.8" width="1.7" height="5.5" fill="#4d6f8d"/>
<rect x="542.7" y="639.8" width="1.7" height="5.5" fill="#4b6792"/>
<rect x="544.2" y="639.8" width="1.7" height="5.5" fill="#495f96"/>
<rect x="545.7" y="639.8" width="1.7" height="5.5" fill="#507688"/>
<rect x="547.2" y="639.8" width="1.7" height="5.5" fill="#4d6f8d"/>
<rect x="548.8" y="639.8" width="1.7" height="5.5" fill="#4b6792"/>
<rect x="550.3" y="639.8" width="1.7" height="5.5" fill="#495f96"/>
<rect x="551.8" y="639.8" width="1.7" height="5.5" fill="#4450a0"/>
<rect x="553.3" y="639.8" width="1.7" height="5.5" fill="#4d6f8d"/>
<rect x="554.8" y="639.8" width="1.7" height="5.5" fill="#4b6792"/>
<rect x="556.3" y="639.8" width="1.7" height="5.5" fill="#507688"/>
<rect x="557.8" y="639.8" width="1.7" height="5.5" fill="#46589b"/>
<rect x="559.3" y="639.8" width="1.7" height="5.5" fill="#507688"/>
<rect x="560.8" y="639.8" width="1.7" height="5.5" fill="#434d9f"/>
<rect x="562.3" y="639.8" width="1.7" height="5.5" fill="#46589b"/>
<rect x="563.8" y="639.8" width="1.7" height="5.5" fill="#507688"/>
<rect x="565.3" y="639.8" width="1.7" height="5.5" fill="#4d6f8d"/>
<rect x="566.8" y="639.8" width="1.7" height="5.5" fill="#4450a0"/>
<rect x="568.3" y="639.8" width="1.7" height="5.5" fill="#46589b"/>
<rect x="569.8" y="639.8" width="1.7" height="5.5" fill="#4450a0"/>
<rect x="571.3" y="639.8" width="4.7" height="5.5" fill="#4b6792"/>
<rect x="575.8" y="639.8" width="1.7" height="5.5" fill="#46589b"/>
<rect x="577.3" y="639.8" width="1.7" height="5.5" fill="#434d9f"/>
<rect x="578.8" y="639.8" width="1.7" height="5.5" fill="#46589b"/>
<rect x="580.3" y="639.8" width="1.7" height="5.5" fill="#507688"/>
<rect x="581.8" y="639.8" width="1.7" height="5.5" fill="#4d6f8d"/>
<rect x="583.3" y="639.8" width="3.2" height="5.5" fill="#4b6792"/>
<rect x="586.3" y="639.8" width="6.2" height="5.5" fill="#434d9f"/>
<rect x="592.3" y="639.8" width="1.7" height="5.5" fill="#3f449d"/>
<rect x="593.8" y="639.8" width="3.2" height="5.5" fill="#414a9e"/>
<rect x="596.8" y="639.8" width="1.7" height="5.5" fill="#40479e"/>
<rect x="598.3" y="639.8" width="1.7" height="5.5" fill="#414a9e"/>
<rect x="599.8" y="639.8" width="1.7" height="5.5" fill="#40479e"/>
<rect x="601.3" y="639.8" width="1.7" height="5.5" fill="#434d9f"/>
<rect x="602.8" y="639.8" width="1.7" height="5.5" fill="#40479e"/>
<rect x="604.3" y="639.8" width="1.7" height="5.5" fill="#414a9e"/>
<rect x="605.8" y="639.8" width="1.7" height="5.5" fill="#40479e"/>
<rect x="607.3" y="639.8" width="1.7" height="5.5" fill="#4450a0"/>
<rect x="608.8" y="639.8" width="1.7" height="5.5" fill="#40479e"/>
<rect x="610.3" y="639.8" width="1.7" height="5.5" fill="#414a9e"/>
<rect x="611.8" y="639.8" width="1.7" height="5.5" fill="#3f449d"/>
<rect x="481.2" y="544.3" width="132.1" height="5.4" fill="#111"/>
<rect x="505.2" y="544.3" width="1.6" height="5.4" fill="#8a8a2a"/>
<rect x="554.4" y="544.3" width="1.6" height="5.4" fill="#a05a2a"/>
<rect x="627.8" y="603.0" width="4.8" height="3.8" fill="#d43028"/>
<rect x="627.8" y="606.5" width="4.8" height="3.8" fill="#e16331"/>
<rect x="627.8" y="610.0" width="4.8" height="3.8" fill="#ed963a"/>
<rect x="627.8" y="613.5" width="4.8" height="3.8" fill="#edcf52"/>
<rect x="627.8" y="617.0" width="4.8" height="3.8" fill="#ccd64f"/>
<rect x="627.8" y="620.5" width="4.8" height="3.8" fill="#a0c247"/>
<rect x="627.8" y="624.0" width="4.8" height="3.8" fill="#7cac4e"/>
<rect x="627.8" y="627.6" width="4.8" height="3.8" fill="#619466"/>
<rect x="627.8" y="631.1" width="4.8" height="3.8" fill="#4f7688"/>
<rect x="627.8" y="634.6" width="4.8" height="3.8" fill="#475a9a"/>
<rect x="627.8" y="638.1" width="4.8" height="3.8" fill="#41499e"/>
<rect x="627.8" y="641.6" width="4.8" height="3.8" fill="#3c3e9b"/>
<line x1="633.3" y1="604.7541666666667" x2="635.3" y2="604.7541666666667" stroke="#bbb" stroke-width="0.6" />
<line x1="633.3" y1="608.2625" x2="635.3" y2="608.2625" stroke="#bbb" stroke-width="0.6" />
<line x1="633.3" y1="611.7708333333334" x2="635.3" y2="611.7708333333334" stroke="#bbb" stroke-width="0.6" />
<line x1="633.3" y1="615.2791666666667" x2="635.3" y2="615.2791666666667" stroke="#bbb" stroke-width="0.6" />
<line x1="633.3" y1="618.7875" x2="635.3" y2="618.7875" stroke="#bbb" stroke-width="0.6" />
<line x1="633.3" y1="622.2958333333333" x2="635.3" y2="622.2958333333333" stroke="#bbb" stroke-width="0.6" />
<line x1="633.3" y1="625.8041666666667" x2="635.3" y2="625.8041666666667" stroke="#bbb" stroke-width="0.6" />
<line x1="633.3" y1="629.3125" x2="635.3" y2="629.3125" stroke="#bbb" stroke-width="0.6" />
<line x1="633.3" y1="632.8208333333333" x2="635.3" y2="632.8208333333333" stroke="#bbb" stroke-width="0.6" />
<line x1="633.3" y1="636.3291666666667" x2="635.3" y2="636.3291666666667" stroke="#bbb" stroke-width="0.6" />
<line x1="633.3" y1="639.8375" x2="635.3" y2="639.8375" stroke="#bbb" stroke-width="0.6" />
<line x1="633.3" y1="643.3458333333333" x2="635.3" y2="643.3458333333333" stroke="#bbb" stroke-width="0.6" />
</svg>
</body></html>
